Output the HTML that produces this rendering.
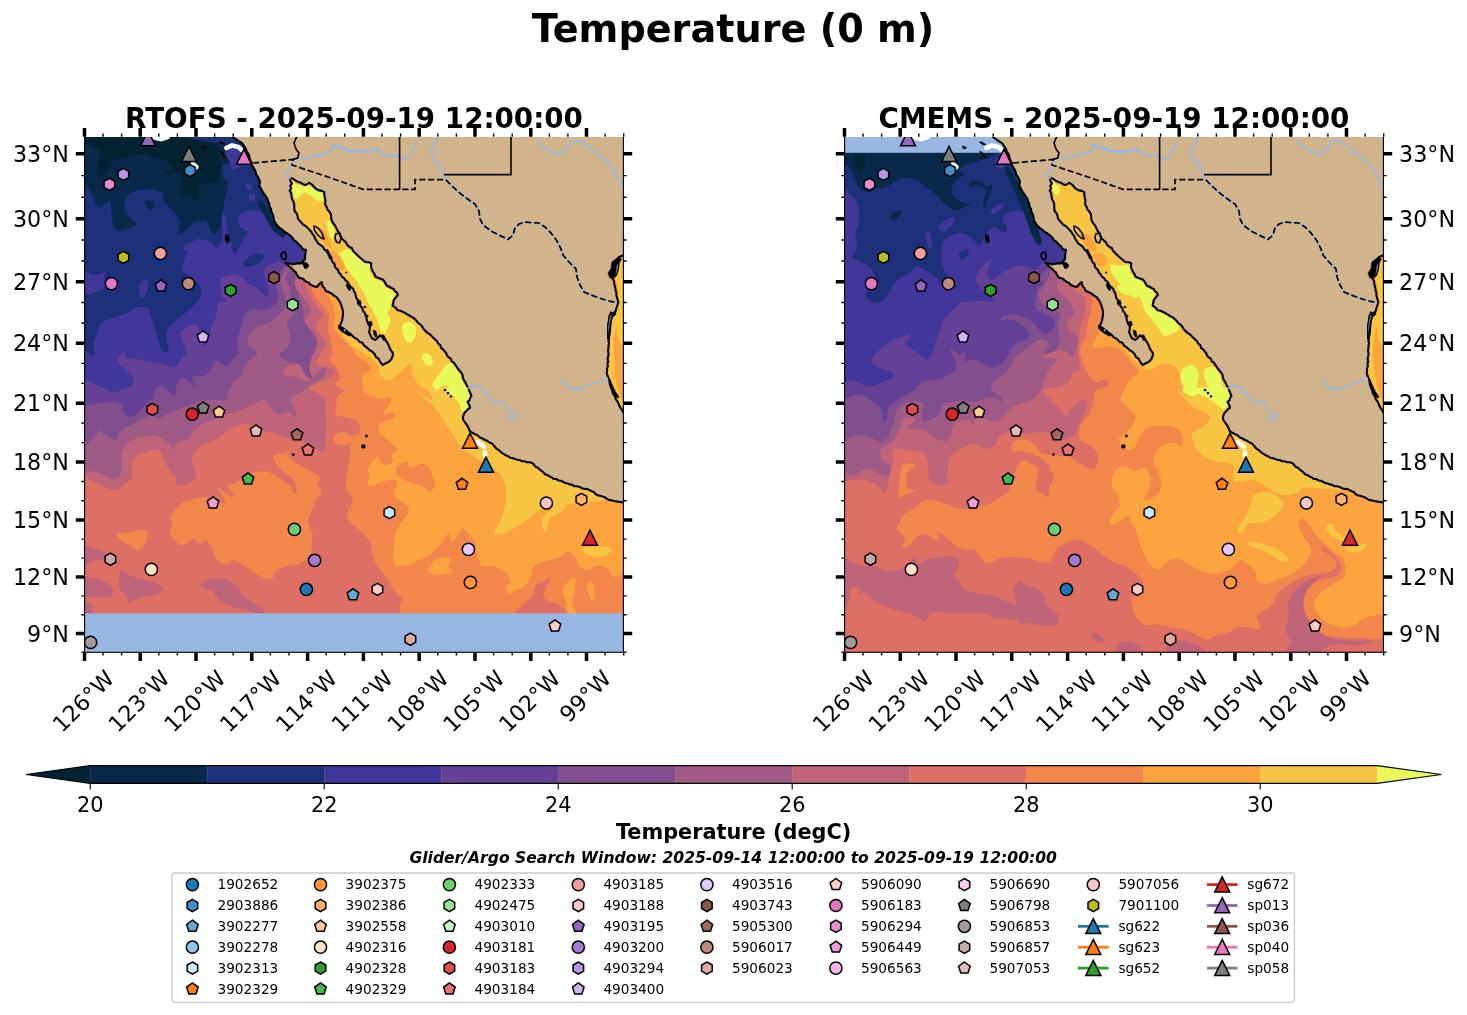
<!DOCTYPE html>
<html lang="en"><head><meta charset="utf-8"><title>Temperature (0 m)</title>
<style>html,body{margin:0;padding:0;background:#fff}svg{display:block}</style></head>
<body>
<svg width="1467" height="1015" viewBox="0 0 1467 1015" font-family='"DejaVu Sans", "Liberation Sans", sans-serif' fill="#000">
<rect width="1467" height="1015" fill="#fff"/>
<text x="733" y="42" text-anchor="middle" font-size="38.2" font-weight="bold">Temperature (0 m)</text>
<clipPath id="clip1"><rect x="84.6" y="137.0" width="538.8" height="515.2"/></clipPath>
<g clip-path="url(#clip1)"><g transform="translate(0.0,0)">
<rect x="83.6" y="135.8" width="540.8" height="517.4" fill="#032333"/>
<path d="M70.0 120.0C165.8 28.3 549.2 28.3 645.0 120.0C740.8 211.7 740.8 578.3 645.0 670.0C549.2 761.7 165.8 761.7 70.0 670.0C-25.8 578.3 -25.8 211.7 70.0 120.0Z" fill="#08294a"/>
<path d="M90.0 135.5C68.6 137.2 89.2 143.5 90.7 146.0C92.2 148.5 97.7 147.7 99.0 150.5C100.2 153.2 98.5 158.5 98.2 162.5C98.0 166.5 97.1 172.1 97.5 174.5C97.9 176.9 98.7 177.2 100.5 176.7C102.2 176.2 105.7 174.1 108.0 171.5C110.2 168.9 109.7 163.5 114.0 161.0C118.2 158.5 128.5 157.7 133.5 156.5C138.5 155.2 141.0 153.5 144.0 153.5C147.0 153.5 148.5 155.5 151.5 156.5C154.5 157.5 159.2 158.5 162.0 159.5C164.7 160.5 166.2 161.0 168.0 162.5C169.7 164.0 173.0 167.0 172.5 168.5C172.0 170.0 165.7 170.5 165.0 171.5C164.2 172.5 166.0 174.2 168.0 174.5C170.0 174.7 174.7 173.5 177.0 173.0C179.2 172.5 181.0 169.2 181.5 171.5C182.0 173.7 180.0 182.2 180.0 186.5C180.0 190.7 180.0 195.7 181.5 197.0C183.0 198.2 186.7 193.2 189.0 194.0C191.2 194.7 193.2 201.5 195.0 201.5C196.7 201.5 199.0 196.0 199.5 194.0C200.0 192.0 197.2 191.2 198.0 189.5C198.7 187.7 201.0 184.7 204.0 183.5C207.0 182.2 213.5 183.2 216.0 182.0C218.5 180.7 218.0 178.5 219.0 176.0C220.0 173.5 222.0 170.2 222.0 167.0C222.0 163.7 219.7 160.0 219.0 156.5C218.2 153.0 217.5 149.5 217.5 146.0C217.5 142.5 240.2 137.2 219.0 135.5C197.7 133.8 111.4 133.8 90.0 135.5Z" fill="#032333"/>
<path d="M82.5 182.0C86.1 184.0 88.7 189.7 91.5 194.0C94.2 198.2 96.0 206.2 99.0 207.5C102.0 208.7 107.4 200.2 109.5 201.5C111.6 202.7 111.0 210.7 111.7 215.0C112.5 219.2 112.6 224.4 114.0 227.0C115.4 229.6 116.7 230.9 120.0 230.7C123.2 230.6 130.7 227.4 133.5 226.2C136.2 225.1 137.2 225.6 136.5 224.0C135.7 222.4 131.0 219.0 129.0 216.5C127.0 214.0 125.1 211.7 124.5 209.0C123.9 206.2 124.0 202.7 125.2 200.0C126.5 197.2 128.4 194.2 132.0 192.5C135.6 190.7 142.0 189.5 147.0 189.5C152.0 189.5 159.1 190.5 162.0 192.5C164.9 194.5 162.2 198.2 164.2 201.5C166.2 204.7 171.4 208.7 174.0 212.0C176.6 215.2 179.2 217.5 180.0 221.0C180.7 224.5 178.0 231.0 178.5 233.0C179.0 235.0 180.7 234.5 183.0 233.0C185.2 231.5 188.5 226.1 192.0 224.0C195.5 221.9 201.2 220.2 204.0 220.2C206.7 220.2 207.2 221.9 208.5 224.0C209.7 226.1 210.2 231.5 211.5 233.0C212.7 234.5 214.5 234.2 216.0 233.0C217.5 231.7 219.3 229.0 220.5 225.5C221.6 222.0 222.0 216.7 222.7 212.0C223.5 207.2 224.1 201.5 225.0 197.0C225.8 192.5 228.2 188.2 228.0 185.0C227.7 181.7 224.5 180.5 223.5 177.5C222.5 174.5 220.7 169.7 222.0 167.0C223.2 164.2 230.0 163.7 231.0 161.0C232.0 158.2 229.6 153.2 228.0 150.5C226.3 147.7 222.6 147.2 221.2 144.5C219.8 141.7 149.1 136.8 219.7 134.0C290.4 131.3 574.1 38.7 645.0 128.0C715.9 217.3 740.8 579.7 645.0 670.0C549.2 760.3 165.8 751.3 70.0 670.0C-25.8 588.7 67.9 263.3 70.0 182.0C72.1 100.7 78.9 180.0 82.5 182.0Z" fill="#1c3179"/>
<path d="M82.5 349.0C85.8 349.7 88.0 352.5 90.0 353.5C92.0 354.5 93.9 356.7 94.5 355.0C95.1 353.2 93.0 347.5 93.7 343.0C94.5 338.5 97.6 331.5 99.0 328.0C100.4 324.5 99.5 323.7 102.0 322.0C104.5 320.2 109.7 319.0 114.0 317.5C118.2 316.0 124.0 314.6 127.5 313.0C131.0 311.4 131.5 308.6 135.0 307.7C138.5 306.9 145.9 306.4 148.5 307.7C151.1 309.1 149.7 312.9 150.7 316.0C151.7 319.1 153.4 323.2 154.5 326.5C155.6 329.7 156.5 332.0 157.5 335.5C158.5 339.0 159.2 344.6 160.5 347.5C161.7 350.4 163.6 352.5 165.0 352.7C166.4 353.0 168.5 351.1 168.7 349.0C169.0 346.9 166.7 343.0 166.5 340.0C166.2 337.0 166.0 334.0 167.2 331.0C168.5 328.0 171.6 324.5 174.0 322.0C176.4 319.5 179.0 318.0 181.5 316.0C184.0 314.0 186.5 312.2 189.0 310.0C191.5 307.7 194.5 305.2 196.5 302.5C198.5 299.7 200.6 296.5 201.0 293.5C201.4 290.5 200.0 286.7 198.7 284.5C197.5 282.2 195.6 281.7 193.5 280.0C191.4 278.2 187.9 275.7 186.0 274.0C184.1 272.2 182.5 272.0 182.2 269.5C182.0 267.0 183.6 262.2 184.5 259.0C185.4 255.7 187.6 251.3 187.5 250.0C187.4 248.7 184.2 251.8 183.7 251.0C183.2 250.1 183.1 246.5 184.5 245.0C185.9 243.5 189.7 243.0 192.0 242.0C194.2 241.0 195.7 239.2 198.0 239.0C200.2 238.7 203.2 240.0 205.5 240.5C207.7 241.0 209.7 240.7 211.5 242.0C213.2 243.2 214.5 248.0 216.0 248.0C217.5 248.0 219.3 244.5 220.5 242.0C221.6 239.5 222.5 236.5 222.7 233.0C223.0 229.5 221.8 224.5 222.0 221.0C222.1 217.5 222.7 212.0 223.5 212.0C224.2 212.0 225.7 217.2 226.5 221.0C227.2 224.7 227.1 230.5 228.0 234.5C228.8 238.5 230.7 241.7 231.7 245.0C232.7 248.2 233.1 253.0 234.0 254.0C234.8 255.0 235.5 253.5 237.0 251.0C238.5 248.5 241.2 242.2 243.0 239.0C244.7 235.7 248.0 233.5 247.5 231.5C247.0 229.5 241.5 229.2 240.0 227.0C238.5 224.7 237.8 220.5 238.5 218.0C239.1 215.5 241.2 213.2 243.7 212.0C246.2 210.7 250.1 210.2 253.5 210.5C256.8 210.7 260.6 212.1 264.0 213.5C267.3 214.9 271.2 221.5 273.7 218.7C276.2 216.0 279.3 204.0 279.0 197.0C278.7 190.0 273.2 183.7 272.0 177.0C270.8 170.3 270.0 164.8 272.0 157.0C274.0 149.2 221.8 134.8 284.0 130.0C346.2 125.2 584.8 38.0 645.0 128.0C705.2 218.0 740.8 579.7 645.0 670.0C549.2 760.3 165.8 723.5 70.0 670.0C-25.8 616.5 67.9 402.5 70.0 349.0C72.1 295.5 79.2 348.2 82.5 349.0Z" fill="#41369a"/>
<path d="M82.5 379.0C86.3 379.7 89.5 382.0 93.0 383.5C96.5 385.0 100.0 386.5 103.5 388.0C107.0 389.5 111.0 392.2 114.0 392.5C117.0 392.7 118.5 390.7 121.5 389.5C124.5 388.2 130.1 387.0 132.0 385.0C133.9 383.0 133.7 380.0 132.7 377.5C131.7 375.0 128.2 372.2 126.0 370.0C123.7 367.7 120.5 366.0 119.2 364.0C118.0 362.0 117.6 360.0 118.5 358.0C119.4 356.0 123.2 352.0 124.5 352.0C125.7 352.0 124.2 356.9 126.0 358.0C127.7 359.1 131.5 358.2 135.0 358.7C138.5 359.2 142.5 360.1 147.0 361.0C151.5 361.9 157.5 362.9 162.0 364.0C166.5 365.1 171.0 368.2 174.0 367.7C177.0 367.2 178.0 363.4 180.0 361.0C182.0 358.6 185.2 356.0 186.0 353.5C186.7 351.0 185.4 348.5 184.5 346.0C183.6 343.5 181.2 341.0 180.7 338.5C180.2 336.0 180.1 333.0 181.5 331.0C182.9 329.0 186.5 327.5 189.0 326.5C191.5 325.5 194.7 324.2 196.5 325.0C198.2 325.7 198.2 327.5 199.5 331.0C200.7 334.5 202.5 344.5 204.0 346.0C205.5 347.5 207.2 343.0 208.5 340.0C209.7 337.0 210.2 332.0 211.5 328.0C212.7 324.0 215.0 319.5 216.0 316.0C217.0 312.5 217.0 309.2 217.5 307.0C218.0 304.7 217.5 303.5 219.0 302.5C220.5 301.5 226.0 302.0 226.5 301.0C227.0 300.0 223.0 298.7 222.0 296.5C221.0 294.2 220.6 290.5 220.5 287.5C220.3 284.5 220.0 280.5 221.2 278.5C222.5 276.5 225.6 276.2 228.0 275.5C230.3 274.7 233.0 273.5 235.5 274.0C238.0 274.5 240.7 276.7 243.0 278.5C245.2 280.2 246.7 283.0 249.0 284.5C251.2 286.0 254.0 285.7 256.5 287.5C259.0 289.2 262.0 293.5 264.0 295.0C266.0 296.5 267.8 297.7 268.5 296.5C269.1 295.2 268.1 290.2 267.7 287.5C267.3 284.7 266.8 282.5 266.2 280.0C265.6 277.5 264.0 274.7 264.0 272.5C264.0 270.2 264.7 268.0 266.2 266.5C267.7 265.0 270.8 264.2 273.0 263.5C275.1 262.7 277.2 262.0 279.0 262.0C280.7 262.0 280.1 262.3 283.5 263.5C286.8 264.7 293.2 270.1 299.0 269.0C304.8 267.9 317.2 262.3 318.0 257.0C318.8 251.7 309.4 243.7 304.0 237.0C298.6 230.3 289.8 223.7 285.6 217.0C281.4 210.3 281.3 203.7 279.0 197.0C276.7 190.3 273.2 183.7 272.0 177.0C270.8 170.3 270.0 164.8 272.0 157.0C274.0 149.2 221.8 134.8 284.0 130.0C346.2 125.2 584.8 38.0 645.0 128.0C705.2 218.0 740.8 579.7 645.0 670.0C549.2 760.3 165.8 718.5 70.0 670.0C-25.8 621.5 67.9 427.5 70.0 379.0C72.1 330.5 78.7 378.2 82.5 379.0Z" fill="#644197"/>
<path d="M82.5 406.5C86.3 406.1 89.5 404.9 93.0 404.2C96.5 403.6 100.0 403.1 103.5 402.7C107.0 402.4 111.0 401.6 114.0 402.0C117.0 402.4 120.0 403.5 121.5 405.0C123.0 406.5 121.7 409.0 123.0 411.0C124.2 413.0 127.0 416.2 129.0 417.0C131.0 417.7 133.0 416.7 135.0 415.5C137.0 414.2 139.0 411.5 141.0 409.5C143.0 407.5 145.0 405.5 147.0 403.5C149.0 401.5 151.7 399.7 153.0 397.5C154.2 395.2 154.2 391.1 154.5 390.0C154.7 388.9 153.5 391.8 154.5 391.0C155.5 390.1 158.2 385.0 160.5 385.0C162.7 385.0 165.7 389.2 168.0 391.0C170.2 392.7 172.5 396.5 174.0 395.5C175.5 394.5 175.7 388.0 177.0 385.0C178.2 382.0 179.5 378.0 181.5 377.5C183.5 377.0 186.7 380.5 189.0 382.0C191.2 383.5 194.5 387.2 195.0 386.5C195.5 385.7 191.5 379.2 192.0 377.5C192.5 375.7 196.0 376.2 198.0 376.0C200.0 375.7 201.7 377.2 204.0 376.0C206.2 374.7 209.5 371.0 211.5 368.5C213.5 366.0 214.2 361.7 216.0 361.0C217.7 360.2 220.0 363.2 222.0 364.0C224.0 364.7 226.0 366.5 228.0 365.5C230.0 364.5 232.2 360.2 234.0 358.0C235.7 355.7 238.0 354.5 238.5 352.0C239.0 349.5 236.7 346.5 237.0 343.0C237.2 339.5 239.0 334.7 240.0 331.0C241.0 327.2 242.0 323.5 243.0 320.5C244.0 317.5 244.2 314.9 246.0 313.0C247.7 311.1 250.5 309.7 253.5 309.2C256.5 308.7 261.0 310.4 264.0 310.0C267.0 309.6 269.2 308.5 271.5 307.0C273.7 305.5 276.2 303.2 277.5 301.0C278.7 298.7 279.2 295.7 279.0 293.5C278.7 291.2 276.2 289.7 276.0 287.5C275.7 285.2 277.0 282.2 277.5 280.0C278.0 277.7 278.2 275.7 279.0 274.0C279.7 272.2 280.7 271.0 282.0 269.5C283.2 268.0 283.6 265.1 286.5 265.0C289.3 264.9 293.7 270.3 299.0 269.0C304.3 267.7 317.2 262.3 318.0 257.0C318.8 251.7 309.4 243.7 304.0 237.0C298.6 230.3 289.8 223.7 285.6 217.0C281.4 210.3 281.3 203.7 279.0 197.0C276.7 190.3 273.2 183.7 272.0 177.0C270.8 170.3 270.0 164.8 272.0 157.0C274.0 149.2 221.8 134.8 284.0 130.0C346.2 125.2 584.8 38.0 645.0 128.0C705.2 218.0 740.8 579.7 645.0 670.0C549.2 760.3 165.8 713.9 70.0 670.0C-25.8 626.1 67.9 450.4 70.0 406.5C72.1 362.6 78.7 406.9 82.5 406.5Z" fill="#824f8e"/>
<path d="M82.5 447.0C85.8 446.2 88.0 444.2 90.0 442.5C92.0 440.7 93.0 438.5 94.5 436.5C96.0 434.5 97.5 431.0 99.0 430.5C100.5 430.0 101.7 432.2 103.5 433.5C105.2 434.7 107.2 437.0 109.5 438.0C111.7 439.0 115.5 440.2 117.0 439.5C118.5 438.7 117.2 435.2 118.5 433.5C119.7 431.7 122.2 430.5 124.5 429.0C126.7 427.5 129.2 426.0 132.0 424.5C134.7 423.0 138.0 421.5 141.0 420.0C144.0 418.5 147.0 415.7 150.0 415.5C153.0 415.2 156.5 418.5 159.0 418.5C161.5 418.5 162.5 416.7 165.0 415.5C167.5 414.2 170.5 412.5 174.0 411.0C177.5 409.5 182.5 407.7 186.0 406.5C189.5 405.2 193.0 404.4 195.0 403.5C197.0 402.6 195.7 401.7 198.0 401.2C200.2 400.7 205.5 400.9 208.5 400.5C211.5 400.1 213.2 398.9 216.0 399.0C218.7 399.1 223.1 401.7 225.0 401.2C226.8 400.7 226.7 397.9 227.2 396.0C227.7 394.1 227.5 391.1 228.0 390.0C228.5 388.9 229.2 391.1 230.2 389.5C231.2 387.9 232.1 383.0 234.0 380.5C235.8 378.0 239.5 377.2 241.5 374.5C243.5 371.7 243.5 367.5 246.0 364.0C248.5 360.5 256.2 356.9 256.5 353.5C256.7 350.1 248.0 347.7 247.5 343.7C247.0 339.7 249.7 333.1 253.5 329.5C257.2 325.9 265.0 325.2 270.0 322.0C275.0 318.7 280.8 313.7 283.5 310.0C286.1 306.2 286.0 303.0 285.7 299.5C285.5 296.0 282.8 292.2 282.0 289.0C281.1 285.7 280.0 283.0 280.5 280.0C281.0 277.0 283.5 273.2 285.0 271.0C286.5 268.7 286.8 266.7 289.5 266.5C292.1 266.3 296.2 271.6 301.0 270.0C305.8 268.4 317.5 262.5 318.0 257.0C318.5 251.5 309.4 243.7 304.0 237.0C298.6 230.3 289.8 223.7 285.6 217.0C281.4 210.3 281.3 203.7 279.0 197.0C276.7 190.3 273.2 183.7 272.0 177.0C270.8 170.3 270.0 164.8 272.0 157.0C274.0 149.2 221.8 134.8 284.0 130.0C346.2 125.2 584.8 38.0 645.0 128.0C705.2 218.0 740.8 579.7 645.0 670.0C549.2 760.3 165.8 707.2 70.0 670.0C-25.8 632.8 67.9 484.2 70.0 447.0C72.1 409.8 79.2 447.7 82.5 447.0Z" fill="#a05a86"/>
<path d="M82.5 469.5C86.3 469.9 89.7 471.0 93.0 471.7C96.2 472.5 99.1 472.9 102.0 474.0C104.9 475.1 107.7 477.7 110.2 478.5C112.7 479.2 115.2 479.2 117.0 478.5C118.7 477.7 119.9 476.2 120.7 474.0C121.6 471.7 122.1 468.0 122.2 465.0C122.4 462.0 121.2 458.7 121.5 456.0C121.7 453.2 122.5 450.7 123.7 448.5C125.0 446.2 126.9 444.2 129.0 442.5C131.1 440.7 133.5 439.0 136.5 438.0C139.5 437.0 143.7 436.9 147.0 436.5C150.2 436.1 153.2 435.2 156.0 435.7C158.7 436.2 161.0 437.9 163.5 439.5C166.0 441.1 169.2 443.7 171.0 445.5C172.7 447.2 173.2 450.2 174.0 450.0C174.7 449.7 174.5 445.5 175.5 444.0C176.5 442.5 177.7 441.7 180.0 441.0C182.2 440.2 187.0 440.7 189.0 439.5C191.0 438.2 190.5 435.5 192.0 433.5C193.5 431.5 196.0 429.2 198.0 427.5C200.0 425.7 201.7 424.2 204.0 423.0C206.2 421.7 209.0 421.0 211.5 420.0C214.0 419.0 216.2 418.0 219.0 417.0C221.7 416.0 225.5 414.7 228.0 414.0C230.5 413.2 231.7 413.2 234.0 412.5C236.2 411.7 239.0 410.5 241.5 409.5C244.0 408.5 246.2 407.7 249.0 406.5C251.7 405.2 255.5 403.2 258.0 402.0C260.5 400.7 262.2 398.7 264.0 399.0C265.7 399.2 267.0 401.5 268.5 403.5C270.0 405.5 271.2 409.1 273.0 411.0C274.7 412.9 276.2 414.5 279.0 414.7C281.7 415.0 287.0 412.1 289.5 412.5C292.0 412.9 292.7 416.5 294.0 417.0C295.2 417.5 297.2 417.5 297.0 415.5C296.7 413.5 293.5 407.7 292.5 405.0C291.5 402.2 290.2 400.7 291.0 399.0C291.7 397.2 294.8 396.0 297.0 394.5C299.1 393.0 301.9 391.6 304.0 390.0C306.1 388.4 306.3 387.1 309.5 385.0C312.7 382.9 320.2 380.2 323.0 377.5C325.7 374.7 326.5 369.7 326.0 368.5C325.5 367.2 322.7 368.0 320.0 370.0C317.2 372.0 313.2 379.2 309.5 380.5C305.7 381.7 301.7 378.5 297.5 377.5C293.2 376.5 286.0 376.2 284.0 374.5C282.0 372.7 283.2 368.7 285.5 367.0C287.7 365.2 294.2 365.0 297.5 364.0C300.7 363.0 302.0 363.0 305.0 361.0C308.0 359.0 313.5 355.5 315.5 352.0C317.5 348.5 317.5 343.5 317.0 340.0C316.5 336.5 314.5 334.0 312.5 331.0C310.5 328.0 305.2 325.5 305.0 322.0C304.7 318.5 311.0 313.7 311.0 310.0C311.0 306.2 307.7 303.7 305.0 299.5C302.2 295.2 295.5 288.1 294.5 284.5C293.5 280.9 297.1 279.3 299.0 277.7C300.9 276.2 302.8 278.5 306.0 275.0C309.2 271.5 318.3 263.3 318.0 257.0C317.7 250.7 309.4 243.7 304.0 237.0C298.6 230.3 289.8 223.7 285.6 217.0C281.4 210.3 281.3 203.7 279.0 197.0C276.7 190.3 273.2 183.7 272.0 177.0C270.8 170.3 270.0 164.8 272.0 157.0C274.0 149.2 221.8 134.8 284.0 130.0C346.2 125.2 584.8 38.0 645.0 128.0C705.2 218.0 740.8 579.7 645.0 670.0C549.2 760.3 165.8 703.4 70.0 670.0C-25.8 636.6 67.9 502.9 70.0 469.5C72.1 436.1 78.7 469.1 82.5 469.5Z" fill="#c0647a"/>
<path d="M82.5 477.0C86.3 477.7 89.5 480.0 93.0 481.5C96.5 483.0 100.5 484.6 103.5 486.0C106.5 487.4 108.5 489.2 111.0 489.7C113.5 490.2 116.0 490.1 118.5 489.0C121.0 487.9 123.7 484.7 126.0 483.0C128.2 481.2 131.0 481.0 132.0 478.5C133.0 476.0 131.7 471.0 132.0 468.0C132.2 465.0 132.2 462.7 133.5 460.5C134.7 458.2 137.0 456.0 139.5 454.5C142.0 453.0 145.5 452.4 148.5 451.5C151.5 450.6 155.2 448.7 157.5 449.2C159.7 449.7 160.6 452.1 162.0 454.5C163.4 456.9 164.2 460.5 165.7 463.5C167.2 466.5 169.1 470.0 171.0 472.5C172.9 475.0 176.2 476.5 177.0 478.5C177.7 480.5 174.0 483.5 175.5 484.5C177.0 485.5 182.7 485.5 186.0 484.5C189.2 483.5 193.4 480.7 195.0 478.5C196.6 476.2 196.2 473.7 195.7 471.0C195.2 468.2 192.4 464.7 192.0 462.0C191.6 459.2 192.2 457.0 193.5 454.5C194.7 452.0 197.2 449.0 199.5 447.0C201.7 445.0 204.2 443.7 207.0 442.5C209.7 441.2 213.0 441.0 216.0 439.5C219.0 438.0 222.0 435.5 225.0 433.5C228.0 431.5 231.0 429.1 234.0 427.5C237.0 425.9 240.2 424.1 243.0 423.7C245.7 423.4 247.0 424.1 250.5 425.2C254.0 426.4 259.7 429.1 264.0 430.5C268.2 431.9 272.2 432.2 276.0 433.5C279.7 434.7 281.8 436.6 286.5 438.0C291.1 439.4 299.4 440.5 304.0 441.7C308.6 443.0 311.3 443.7 314.0 445.5C316.7 447.2 318.2 451.5 320.0 452.2C321.7 453.0 323.5 452.9 324.5 450.0C325.5 447.1 325.7 441.2 326.0 435.0C326.2 428.7 326.2 418.5 326.0 412.5C325.7 406.5 326.0 402.2 324.5 399.0C323.0 395.7 319.5 394.8 317.0 393.0C314.5 391.2 309.0 389.8 309.5 388.0C310.0 386.1 316.5 383.7 320.0 382.0C323.5 380.2 328.0 379.5 330.5 377.5C333.0 375.5 335.7 371.7 335.0 370.0C334.2 368.2 329.0 368.0 326.0 367.0C323.0 366.0 318.0 366.0 317.0 364.0C316.0 362.0 318.5 358.5 320.0 355.0C321.5 351.5 326.0 346.5 326.0 343.0C326.0 339.5 321.7 337.0 320.0 334.0C318.2 331.0 315.0 328.0 315.5 325.0C316.0 322.0 322.7 319.0 323.0 316.0C323.2 313.0 319.2 310.5 317.0 307.0C314.7 303.5 311.5 299.4 309.5 295.0C307.5 290.6 304.6 283.7 305.0 280.7C305.4 277.7 309.8 281.0 312.0 277.0C314.2 273.0 319.3 263.7 318.0 257.0C316.7 250.3 309.4 243.7 304.0 237.0C298.6 230.3 289.8 223.7 285.6 217.0C281.4 210.3 281.3 203.7 279.0 197.0C276.7 190.3 273.2 183.7 272.0 177.0C270.8 170.3 270.0 164.8 272.0 157.0C274.0 149.2 221.8 134.8 284.0 130.0C346.2 125.2 584.8 38.0 645.0 128.0C705.2 218.0 740.8 579.7 645.0 670.0C549.2 760.3 165.8 702.2 70.0 670.0C-25.8 637.8 67.9 509.2 70.0 477.0C72.1 444.8 78.7 476.2 82.5 477.0Z" fill="#dd6f64"/>
<path d="M400.2 614.7C400.1 603.9 399.1 607.6 399.5 605.0C399.8 602.4 402.7 600.7 402.5 599.0C402.2 597.2 399.7 596.5 398.0 594.5C396.2 592.5 393.7 589.5 392.0 587.0C390.2 584.5 389.2 582.0 387.5 579.5C385.7 577.0 383.5 574.7 381.5 572.0C379.5 569.2 377.1 566.0 375.5 563.0C373.9 560.0 372.5 557.2 371.7 554.0C371.0 550.7 372.6 547.1 371.0 543.5C369.4 539.9 365.0 535.6 362.0 532.5C359.0 529.4 355.5 527.5 353.0 525.0C350.5 522.5 347.7 520.0 347.0 517.5C346.2 515.0 347.5 512.7 348.5 510.0C349.5 507.2 352.7 503.5 353.0 501.0C353.2 498.5 351.2 497.5 350.0 495.0C348.7 492.5 346.0 489.5 345.5 486.0C345.0 482.5 346.5 477.5 347.0 474.0C347.5 470.5 348.0 468.5 348.5 465.0C349.0 461.5 349.7 456.5 350.0 453.0C350.2 449.5 351.0 445.2 350.0 444.0C349.0 442.7 346.5 445.7 344.0 445.5C341.5 445.2 336.5 444.2 335.0 442.5C333.5 440.7 333.5 436.7 335.0 435.0C336.5 433.2 341.5 432.0 344.0 432.0C346.5 432.0 347.5 434.7 350.0 435.0C352.5 435.2 357.4 434.7 359.0 433.5C360.6 432.2 360.2 429.7 359.7 427.5C359.2 425.2 358.6 421.7 356.0 420.0C353.4 418.2 347.4 418.0 344.0 417.0C340.6 416.0 337.0 416.0 335.7 414.0C334.5 412.0 336.1 408.0 336.5 405.0C336.9 402.0 336.7 398.5 338.0 396.0C339.2 393.5 344.5 391.8 344.0 390.0C343.5 388.2 335.7 386.8 335.0 385.0C334.2 383.1 339.0 381.5 339.5 379.0C340.0 376.5 339.5 373.0 338.0 370.0C336.5 367.0 331.5 364.0 330.5 361.0C329.5 358.0 332.0 355.5 332.0 352.0C332.0 348.5 331.2 344.0 330.5 340.0C329.7 336.0 327.7 331.7 327.5 328.0C327.2 324.2 329.7 321.0 329.0 317.5C328.2 314.0 325.5 310.7 323.0 307.0C320.5 303.2 316.0 298.6 314.0 295.0C312.0 291.4 310.3 287.4 311.0 285.2C311.7 283.1 315.3 282.9 318.0 282.0C320.7 281.1 327.0 284.2 327.0 280.0C327.0 275.8 321.8 264.2 318.0 257.0C314.2 249.8 309.4 243.7 304.0 237.0C298.6 230.3 289.8 223.7 285.6 217.0C281.4 210.3 281.3 203.7 279.0 197.0C276.7 190.3 273.2 183.7 272.0 177.0C270.8 170.3 270.0 164.8 272.0 157.0C274.0 149.2 221.8 134.8 284.0 130.0C346.2 125.2 584.8 38.0 645.0 128.0C705.2 218.0 685.8 579.7 645.0 670.0C604.2 760.3 441.0 679.2 400.2 670.0C359.4 660.8 400.3 625.6 400.2 614.7Z" fill="#f2864b"/>
<path d="M170.2 519.0C168.2 520.9 172.1 514.0 174.0 511.5C175.9 509.0 178.5 506.0 181.5 504.0C184.5 502.0 188.5 500.6 192.0 499.5C195.5 498.4 199.7 497.5 202.5 497.2C205.2 497.0 205.7 497.4 208.5 498.0C211.2 498.6 216.2 500.0 219.0 501.0C221.7 502.0 224.2 504.5 225.0 504.0C225.7 503.5 224.7 500.5 223.5 498.0C222.2 495.5 218.2 490.7 217.5 489.0C216.7 487.2 217.5 486.7 219.0 487.5C220.5 488.2 224.0 492.0 226.5 493.5C229.0 495.0 233.5 497.2 234.0 496.5C234.5 495.7 230.5 490.7 229.5 489.0C228.5 487.2 227.0 487.0 228.0 486.0C229.0 485.0 233.0 484.2 235.5 483.0C238.0 481.7 240.7 480.0 243.0 478.5C245.2 477.0 246.7 475.1 249.0 474.0C251.2 472.9 254.0 472.2 256.5 471.7C259.0 471.2 261.2 470.6 264.0 471.0C266.7 471.4 270.0 472.5 273.0 474.0C276.0 475.5 279.0 478.0 282.0 480.0C285.0 482.0 289.0 483.7 291.0 486.0C293.0 488.2 293.0 492.5 294.0 493.5C295.0 494.5 296.7 493.5 297.0 492.0C297.2 490.5 296.5 487.0 295.5 484.5C294.5 482.0 293.2 479.2 291.0 477.0C288.7 474.7 284.2 473.0 282.0 471.0C279.7 469.0 279.0 467.2 277.5 465.0C276.0 462.7 273.0 459.2 273.0 457.5C273.0 455.7 275.5 455.2 277.5 454.5C279.5 453.7 283.0 453.7 285.0 453.0C287.0 452.2 289.6 450.5 289.5 450.0C289.3 449.5 283.9 450.1 284.0 450.0C284.1 449.9 289.2 448.2 290.0 449.2C290.7 450.2 287.7 453.9 288.5 456.0C289.2 458.1 291.7 460.0 294.5 462.0C297.2 464.0 300.7 465.5 305.0 468.0C309.2 470.5 318.0 474.2 320.0 477.0C322.0 479.7 316.7 482.2 317.0 484.5C317.2 486.7 321.5 488.0 321.5 490.5C321.5 493.0 318.0 497.9 317.0 499.5C316.0 501.1 316.2 498.4 315.5 500.0C314.7 501.6 313.7 505.7 312.5 509.0C311.2 512.2 308.5 516.5 308.0 519.5C307.5 522.5 308.7 524.7 309.5 527.0C310.2 529.2 312.1 530.0 312.5 533.0C312.9 536.0 312.0 541.7 311.7 545.0C311.5 548.2 312.1 550.0 311.0 552.5C309.9 555.0 307.2 558.0 305.0 560.0C302.7 562.0 300.5 563.5 297.5 564.5C294.5 565.5 290.5 565.0 287.0 566.0C283.5 567.0 278.9 568.5 276.5 570.5C274.1 572.5 274.5 576.6 272.7 578.0C271.0 579.4 267.0 578.5 266.0 578.7C265.0 579.0 268.3 580.1 267.0 579.5C265.6 578.9 261.0 576.7 258.0 575.0C255.0 573.2 252.0 571.0 249.0 569.0C246.0 567.0 242.7 564.5 240.0 563.0C237.2 561.5 234.5 559.7 232.5 560.0C230.5 560.2 230.2 564.2 228.0 564.5C225.7 564.7 221.2 563.0 219.0 561.5C216.7 560.0 215.7 558.0 214.5 555.5C213.2 553.0 213.0 549.0 211.5 546.5C210.0 544.0 207.5 541.0 205.5 540.5C203.5 540.0 201.5 543.7 199.5 543.5C197.5 543.2 195.5 539.0 193.5 539.0C191.5 539.0 189.7 542.5 187.5 543.5C185.2 544.5 182.2 545.7 180.0 545.0C177.7 544.2 175.7 541.2 174.0 539.0C172.2 536.7 169.7 534.0 169.5 531.5C169.2 529.0 172.2 526.5 172.5 524.0C172.7 521.5 170.2 519.2 171.0 516.5C171.7 513.7 174.5 510.2 177.0 507.5C179.5 504.7 187.1 498.1 186.0 500.0C184.9 501.9 172.2 517.1 170.2 519.0Z" fill="#f2864b"/>
<path d="M626.0 570.5C622.3 570.5 624.8 570.7 623.3 572.0C621.8 573.2 619.0 577.7 617.0 578.0C614.9 578.2 613.0 575.2 611.0 573.5C609.0 571.7 607.5 568.7 605.0 567.5C602.5 566.2 599.0 565.5 596.0 566.0C593.0 566.5 589.7 570.5 587.0 570.5C584.2 570.5 581.5 568.2 579.5 566.0C577.5 563.7 577.0 559.4 575.0 557.0C573.0 554.6 570.0 551.7 567.5 551.7C565.0 551.7 562.7 555.6 560.0 557.0C557.2 558.4 554.2 559.0 551.0 560.0C547.7 561.0 543.5 561.7 540.5 563.0C537.5 564.2 534.7 564.7 533.0 567.5C531.2 570.2 532.0 576.0 530.0 579.5C528.0 583.0 523.5 586.7 521.0 588.5C518.5 590.2 517.0 589.0 515.0 590.0C513.0 591.0 510.5 595.0 509.0 594.5C507.5 594.0 505.7 589.0 506.0 587.0C506.2 585.0 510.2 584.5 510.5 582.5C510.7 580.5 509.2 577.2 507.5 575.0C505.7 572.7 502.7 570.5 500.0 569.0C497.2 567.5 494.0 566.5 491.0 566.0C488.0 565.5 484.0 567.0 482.0 566.0C480.0 565.0 480.0 562.7 479.0 560.0C478.0 557.2 476.7 552.7 476.0 549.5C475.2 546.2 475.5 542.7 474.5 540.5C473.5 538.2 472.0 538.0 470.0 536.0C468.0 534.0 464.5 528.5 462.5 528.5C460.5 528.5 459.7 533.7 458.0 536.0C456.2 538.2 453.5 542.5 452.0 542.0C450.5 541.5 450.2 533.5 449.0 533.0C447.7 532.5 446.5 536.5 444.5 539.0C442.5 541.5 439.5 545.2 437.0 548.0C434.5 550.7 432.5 553.5 429.5 555.5C426.5 557.5 422.2 558.5 419.0 560.0C415.7 561.5 413.8 563.5 410.0 564.5C406.2 565.5 399.2 566.7 396.5 566.0C393.7 565.2 394.0 562.7 393.5 560.0C393.0 557.2 393.3 553.0 393.5 549.5C393.6 546.0 393.7 542.2 394.2 539.0C394.7 535.7 395.3 532.7 396.5 530.0C397.6 527.2 399.2 525.0 401.0 522.5C402.7 520.0 405.7 517.5 407.0 515.0C408.2 512.5 409.7 510.0 408.5 507.5C407.2 505.0 401.2 501.3 399.5 500.0C397.7 498.7 399.0 500.6 398.0 499.5C397.0 498.4 393.7 495.7 393.5 493.5C393.2 491.2 396.2 488.2 396.5 486.0C396.7 483.7 397.2 480.7 395.0 480.0C392.7 479.2 386.7 480.5 383.0 481.5C379.2 482.5 375.1 485.7 372.5 486.0C369.9 486.2 367.7 484.5 367.2 483.0C366.7 481.5 369.4 479.2 369.5 477.0C369.6 474.7 367.7 471.7 368.0 469.5C368.2 467.2 369.2 465.7 371.0 463.5C372.7 461.2 377.0 456.5 378.5 456.0C380.0 455.5 379.0 459.0 380.0 460.5C381.0 462.0 382.2 464.7 384.5 465.0C386.7 465.2 392.2 463.5 393.5 462.0C394.7 460.5 391.2 458.0 392.0 456.0C392.7 454.0 397.5 451.5 398.0 450.0C398.5 448.5 396.7 448.7 395.0 447.0C393.2 445.2 390.0 441.7 387.5 439.5C385.0 437.2 381.5 435.7 380.0 433.5C378.5 431.2 377.7 428.0 378.5 426.0C379.2 424.0 381.7 423.0 384.5 421.5C387.2 420.0 393.7 418.5 395.0 417.0C396.2 415.5 394.0 413.0 392.0 412.5C390.0 412.0 383.5 415.2 383.0 414.0C382.5 412.7 387.7 407.7 389.0 405.0C390.2 402.2 392.0 398.5 390.5 397.5C389.0 396.5 383.2 399.2 380.0 399.0C376.7 398.7 374.0 397.5 371.0 396.0C368.0 394.5 363.2 391.0 362.0 390.0C360.7 389.0 363.5 391.3 363.5 389.9C363.5 388.6 362.0 384.5 362.0 382.0C362.0 379.4 362.0 376.7 363.5 374.5C365.0 372.2 370.7 370.7 371.0 368.5C371.2 366.2 367.5 363.2 365.0 361.0C362.5 358.7 358.5 357.5 356.0 355.0C353.5 352.5 353.0 349.5 350.0 346.0C347.0 342.5 340.7 337.5 338.0 334.0C335.2 330.5 334.0 328.5 333.5 325.0C333.0 321.5 335.2 316.7 335.0 313.0C334.7 309.2 333.5 306.1 332.0 302.5C330.5 298.9 326.0 292.8 326.0 291.2C326.0 289.7 331.8 294.9 332.0 293.0C332.2 291.1 329.3 286.0 327.0 280.0C324.7 274.0 321.8 264.2 318.0 257.0C314.2 249.8 309.4 243.7 304.0 237.0C298.6 230.3 289.8 223.7 285.6 217.0C281.4 210.3 281.3 203.7 279.0 197.0C276.7 190.3 273.2 183.7 272.0 177.0C270.8 170.3 270.0 164.8 272.0 157.0C274.0 149.2 221.8 134.8 284.0 130.0C346.2 125.2 584.8 54.3 645.0 128.0C705.2 201.7 648.2 498.3 645.0 572.0C641.8 645.7 629.6 570.5 626.0 570.5Z" fill="#faa33f"/>
<path d="M344.0 325.0C342.6 328.1 341.0 326.7 341.0 328.7C341.0 330.7 342.0 334.1 344.0 337.0C346.0 339.9 350.0 343.5 353.0 346.0C356.0 348.5 359.0 350.0 362.0 352.0C365.0 354.0 368.2 355.7 371.0 358.0C373.7 360.2 377.0 362.7 378.5 365.5C380.0 368.2 378.2 372.0 380.0 374.5C381.7 377.0 386.0 380.5 389.0 380.5C392.0 380.5 394.5 377.2 398.0 374.5C401.5 371.7 407.5 363.7 410.0 364.0C412.5 364.2 411.5 372.5 413.0 376.0C414.5 379.5 416.5 382.5 419.0 385.0C421.5 387.5 425.7 388.5 428.0 391.0C430.2 393.5 434.7 400.1 432.5 400.0C430.2 399.8 414.5 389.2 414.5 390.0C414.5 390.8 428.0 400.5 432.5 405.0C437.0 409.5 438.2 412.2 441.5 417.0C444.7 421.7 448.5 428.2 452.0 433.5C455.5 438.7 457.5 443.7 462.5 448.5C467.5 453.2 475.7 457.7 482.0 462.0C488.2 466.2 496.0 469.0 500.0 474.0C504.0 479.0 505.5 485.2 506.0 492.0C506.5 498.7 505.0 507.5 503.0 514.5C501.0 521.5 493.5 531.0 494.0 534.0C494.5 537.0 501.0 534.5 506.0 532.5C511.0 530.5 518.2 525.7 524.0 522.0C529.7 518.2 534.5 512.7 540.5 510.0C546.5 507.2 554.2 506.5 560.0 505.5C565.7 504.5 569.5 504.6 575.0 504.0C580.5 503.4 588.0 502.7 593.0 501.7C598.0 500.8 603.0 501.9 605.0 498.3C607.0 494.7 605.8 513.0 605.0 480.0C604.1 446.9 630.8 355.0 600.0 300.0C569.2 245.0 470.0 172.5 420.0 150.0C370.0 127.5 323.5 157.2 300.0 165.0C276.5 172.8 281.4 188.3 279.0 197.0C276.6 205.7 281.4 210.3 285.6 217.0C289.8 223.7 298.6 230.3 304.0 237.0C309.4 243.7 314.2 249.8 318.0 257.0C321.8 264.2 322.5 273.3 327.0 280.0C331.5 286.7 341.3 292.0 345.0 297.0C348.7 302.0 349.2 305.3 349.0 310.0C348.8 314.7 345.3 321.9 344.0 325.0Z" fill="#f8c542"/>
<path d="M292.0 183.4C293.4 182.8 298.1 185.2 300.7 185.5C303.4 185.8 305.5 184.8 307.9 185.5C310.3 186.2 312.3 188.4 315.1 189.6C317.8 190.8 322.8 191.1 324.3 192.7C325.8 194.2 324.8 197.4 324.3 198.8C323.8 200.2 322.8 200.7 321.2 200.9C319.7 201.0 316.8 200.7 315.1 199.8C313.4 199.0 312.5 196.9 311.0 195.7C309.4 194.5 307.4 193.0 305.9 192.7C304.3 192.3 303.1 192.7 301.8 193.7C300.4 194.7 299.0 198.5 297.7 198.8C296.3 199.2 294.4 197.3 293.6 195.7C292.7 194.2 292.8 191.6 292.5 189.6C292.3 187.5 290.7 184.1 292.0 183.4Z" fill="#e7fa5a"/>
<path d="M327.4 221.4C327.9 220.7 329.4 221.2 330.5 222.4C331.5 223.6 332.8 226.3 333.5 228.5C334.2 230.7 334.9 234.0 334.5 235.7C334.2 237.4 332.4 239.3 331.5 238.8C330.5 238.3 329.6 234.7 328.9 232.6C328.2 230.6 327.6 228.4 327.4 226.5C327.1 224.6 326.9 222.0 327.4 221.4Z" fill="#e7fa5a"/>
<path d="M341.7 252.1C342.4 250.0 345.8 248.8 347.9 249.0C349.9 249.2 352.0 251.4 354.0 253.1C356.1 254.8 357.8 257.6 360.2 259.3C362.6 261.0 366.5 262.0 368.4 263.4C370.2 264.7 371.4 266.5 371.4 267.5C371.4 268.4 372.3 268.7 368.4 269.0C364.4 269.3 352.0 270.3 347.9 269.0C343.8 267.7 344.8 264.1 343.8 261.3C342.7 258.5 341.0 254.1 341.7 252.1Z" fill="#e7fa5a"/>
<path d="M338.0 251.5C338.4 251.0 342.0 254.5 344.0 256.0C346.0 257.5 348.0 260.0 350.0 260.5C352.0 261.0 353.5 258.5 356.0 259.0C358.5 259.5 362.7 261.5 365.0 263.5C367.2 265.5 368.0 268.5 369.5 271.0C371.0 273.5 372.0 276.7 374.0 278.5C376.0 280.2 379.5 280.0 381.5 281.5C383.5 283.0 384.2 286.0 386.0 287.5C387.7 289.0 390.5 289.2 392.0 290.5C393.5 291.7 395.0 293.5 395.0 295.0C395.0 296.5 392.7 297.5 392.0 299.5C391.2 301.5 391.2 304.7 390.5 307.0C389.7 309.2 387.5 310.7 387.5 313.0C387.5 315.2 390.5 318.0 390.5 320.5C390.5 323.0 388.5 325.7 387.5 328.0C386.5 330.2 385.5 333.4 384.5 334.0C383.5 334.6 382.2 332.7 381.5 331.7C380.7 330.7 380.5 329.6 380.0 328.0C379.5 326.4 379.2 324.0 378.5 322.0C377.7 320.0 376.5 318.0 375.5 316.0C374.5 314.0 373.7 312.2 372.5 310.0C371.2 307.7 369.2 305.0 368.0 302.5C366.7 300.0 366.2 297.5 365.0 295.0C363.7 292.5 362.0 290.0 360.5 287.5C359.0 285.0 357.7 282.5 356.0 280.0C354.2 277.5 351.6 275.0 350.0 272.5C348.4 270.0 347.6 267.2 346.2 265.0C344.9 262.7 343.1 261.2 341.7 259.0C340.4 256.7 337.6 252.0 338.0 251.5Z" fill="#e7fa5a"/>
<path d="M402.5 325.0C403.5 322.5 407.7 321.5 410.0 322.0C412.2 322.5 415.2 325.2 416.0 328.0C416.7 330.7 415.7 336.0 414.5 338.5C413.2 341.0 410.2 343.2 408.5 343.0C406.7 342.7 405.0 340.0 404.0 337.0C403.0 334.0 401.5 327.5 402.5 325.0Z" fill="#e7fa5a"/>
<path d="M422.0 355.0C422.5 353.2 426.2 352.7 428.0 353.5C429.7 354.2 432.0 357.5 432.5 359.5C433.0 361.5 432.2 364.7 431.0 365.5C429.7 366.2 426.5 365.7 425.0 364.0C423.5 362.2 421.5 356.7 422.0 355.0Z" fill="#e7fa5a"/>
<path d="M432.5 385.0C433.0 382.2 437.5 376.5 440.0 373.0C442.5 369.5 445.2 365.5 447.5 364.0C449.7 362.5 451.7 362.7 453.5 364.0C455.2 365.2 456.5 368.7 458.0 371.5C459.5 374.2 461.0 377.5 462.5 380.5C464.0 383.5 465.7 386.2 467.0 389.5C468.2 392.7 470.0 397.9 470.0 400.0C470.0 402.1 468.7 403.1 467.0 402.1C465.2 401.1 462.0 396.1 459.5 394.0C457.0 391.9 454.5 391.0 452.0 389.5C449.5 388.0 447.0 385.0 444.5 385.0C442.0 385.0 439.0 389.5 437.0 389.5C435.0 389.5 432.0 387.7 432.5 385.0Z" fill="#e7fa5a"/>
<path d="M444.5 388.5C441.6 389.8 451.0 393.5 453.5 396.0C456.0 398.5 458.1 401.0 459.5 403.5C460.8 406.0 460.5 410.0 461.7 411.0C463.0 412.0 465.6 410.5 467.0 409.5C468.3 408.5 469.6 406.7 470.0 405.0C470.3 403.2 469.1 401.7 469.2 399.0C469.3 396.2 474.8 390.2 470.7 388.5C466.6 386.8 447.3 387.3 444.5 388.5Z" fill="#e7fa5a"/>
<path d="M144.7 201.5C145.0 200.2 148.4 200.2 150.0 200.7C151.6 201.2 154.0 203.1 154.5 204.5C155.0 205.9 154.0 208.3 153.0 209.0C152.0 209.7 149.9 209.9 148.5 208.7C147.1 207.4 144.5 202.8 144.7 201.5Z" fill="#08294a"/>
<path d="M259.5 200.0C260.3 199.5 262.2 201.0 264.0 203.0C265.7 205.0 268.5 209.0 270.0 212.0C271.5 215.0 271.5 218.5 273.0 221.0C274.5 223.5 277.0 225.0 279.0 227.0C281.0 229.0 284.2 231.2 285.0 233.0C285.7 234.7 285.0 237.5 283.5 237.5C282.0 237.5 278.2 235.0 276.0 233.0C273.7 231.0 272.0 228.5 270.0 225.5C268.0 222.5 265.8 218.2 264.0 215.0C262.1 211.7 259.5 208.5 258.7 206.0C258.0 203.5 258.6 200.5 259.5 200.0Z" fill="#08294a"/>
<path d="M82.5 269.5C84.0 266.6 88.7 274.0 91.5 274.7C94.2 275.5 96.7 274.4 99.0 274.0C101.2 273.6 104.1 271.5 105.0 272.5C105.9 273.5 104.2 277.5 104.2 280.0C104.2 282.5 105.9 285.7 105.0 287.5C104.1 289.2 101.2 289.5 99.0 290.5C96.7 291.5 94.2 293.2 91.5 293.5C88.7 293.7 84.0 296.0 82.5 292.0C81.0 288.0 81.0 272.4 82.5 269.5Z" fill="#41369a"/>
<path d="M243.0 263.0C243.7 261.5 246.5 258.6 249.0 257.0C251.5 255.4 255.5 253.5 258.0 253.2C260.5 253.0 263.5 254.1 264.0 255.5C264.5 256.9 263.0 259.7 261.0 261.5C259.0 263.2 254.7 265.2 252.0 266.0C249.2 266.7 246.0 266.5 244.5 266.0C243.0 265.5 242.2 264.5 243.0 263.0Z" fill="#1c3179"/>
<path d="M225.7 150.5C226.7 149.1 230.1 148.0 232.5 148.2C234.8 148.5 238.2 149.9 240.0 152.0C241.7 154.1 243.0 158.5 243.0 161.0C243.0 163.5 241.7 165.6 240.0 167.0C238.2 168.4 234.1 170.0 232.5 169.2C230.8 168.5 231.2 164.6 230.2 162.5C229.2 160.4 227.2 158.5 226.5 156.5C225.7 154.5 224.7 151.9 225.7 150.5Z" fill="#41369a"/>
<path d="M245.2 185.0C245.6 184.0 249.2 183.5 250.5 184.2C251.7 185.0 253.1 188.5 252.7 189.5C252.3 190.5 249.5 191.0 248.2 190.2C247.0 189.5 244.8 186.0 245.2 185.0Z" fill="#41369a"/>
<path d="M249.0 194.7C249.6 193.6 253.2 193.1 254.2 194.0C255.2 194.9 255.6 198.9 255.0 200.0C254.3 201.1 251.5 201.6 250.5 200.7C249.5 199.9 248.3 195.9 249.0 194.7Z" fill="#41369a"/>
<path d="M139.5 284.5C140.2 282.2 142.5 280.4 144.0 280.0C145.5 279.6 148.0 280.2 148.5 282.2C149.0 284.2 148.0 289.4 147.0 292.0C146.0 294.6 143.7 297.7 142.5 298.0C141.2 298.2 140.0 295.7 139.5 293.5C139.0 291.2 138.7 286.7 139.5 284.5Z" fill="#41369a"/>
<path d="M285.5 277.0C285.9 273.7 290.5 270.0 292.2 269.5C294.0 269.0 295.6 271.7 296.0 274.0C296.4 276.2 294.0 279.5 294.5 283.0C295.0 286.5 297.5 290.5 299.0 295.0C300.5 299.5 302.5 305.5 303.5 310.0C304.5 314.5 302.7 317.0 305.0 322.0C307.2 327.0 315.7 334.5 317.0 340.0C318.2 345.5 313.7 350.5 312.5 355.0C311.2 359.5 309.6 363.0 309.5 367.0C309.4 371.0 312.5 377.7 311.7 379.0C311.0 380.2 307.1 377.0 305.0 374.5C302.9 372.0 302.0 366.2 299.0 364.0C296.0 361.7 290.2 362.5 287.0 361.0C283.7 359.5 279.2 357.5 279.5 355.0C279.7 352.5 286.7 349.5 288.5 346.0C290.2 342.5 290.2 338.0 290.0 334.0C289.7 330.0 286.2 325.5 287.0 322.0C287.7 318.5 294.0 316.5 294.5 313.0C295.0 309.5 290.7 305.0 290.0 301.0C289.2 297.0 290.7 293.0 290.0 289.0C289.2 285.0 285.1 280.2 285.5 277.0Z" fill="#824f8e"/>
<path d="M117.0 533.7C118.2 532.4 124.1 532.9 129.0 532.2C133.9 531.6 143.4 528.4 146.2 530.0C149.1 531.6 147.6 538.6 146.2 542.0C144.9 545.4 140.9 549.7 138.0 550.2C135.1 550.7 131.7 546.6 129.0 545.0C126.2 543.4 123.5 542.4 121.5 540.5C119.5 538.6 115.7 535.1 117.0 533.7Z" fill="#f2864b"/>
<path d="M82.5 547.2C84.2 544.0 89.5 547.1 93.0 548.0C96.5 548.9 101.5 550.7 103.5 552.5C105.5 554.2 106.0 557.2 105.0 558.5C104.0 559.7 100.0 559.2 97.5 560.0C95.0 560.7 92.5 561.7 90.0 563.0C87.5 564.2 83.8 570.1 82.5 567.5C81.3 564.9 80.8 550.5 82.5 547.2Z" fill="#c0647a"/>
<path d="M82.5 578.0C84.2 575.0 89.5 577.5 93.0 578.0C96.5 578.5 100.2 579.2 103.5 581.0C106.7 582.7 111.1 586.0 112.5 588.5C113.9 591.0 113.2 594.5 111.7 596.0C110.2 597.5 106.6 597.2 103.5 597.5C100.4 597.7 96.5 597.7 93.0 597.5C89.5 597.2 84.2 599.2 82.5 596.0C80.8 592.7 80.8 581.0 82.5 578.0Z" fill="#c0647a"/>
<path d="M120.7 570.5C122.4 569.2 125.6 573.5 129.0 575.0C132.4 576.5 136.7 578.2 141.0 579.5C145.2 580.7 150.9 580.9 154.5 582.5C158.1 584.1 162.7 587.1 162.7 589.2C162.7 591.4 158.1 593.9 154.5 595.2C150.9 596.6 145.2 596.4 141.0 597.5C136.7 598.6 131.5 602.2 129.0 602.0C126.5 601.7 127.5 598.0 126.0 596.0C124.5 594.0 121.1 592.2 120.0 590.0C118.9 587.7 119.1 585.7 119.2 582.5C119.4 579.2 119.1 571.7 120.7 570.5Z" fill="#c0647a"/>
<path d="M201.0 586.2C200.2 584.2 205.5 580.9 208.5 579.5C211.5 578.1 215.2 577.6 219.0 578.0C222.7 578.4 227.5 580.0 231.0 581.7C234.5 583.5 238.0 586.1 240.0 588.5C242.0 590.9 241.0 593.7 243.0 596.0C245.0 598.2 249.0 600.0 252.0 602.0C255.0 604.0 258.7 606.0 261.0 608.0C263.2 610.0 267.0 613.4 265.5 614.0C264.0 614.6 257.2 612.9 252.0 611.7C246.7 610.6 239.0 608.9 234.0 607.2C229.0 605.6 225.0 603.9 222.0 602.0C219.0 600.1 217.5 597.7 216.0 596.0C214.5 594.2 215.5 593.1 213.0 591.5C210.5 589.9 201.7 588.2 201.0 586.2Z" fill="#c0647a"/>
<path d="M82.5 602.0C84.0 600.2 89.7 602.5 91.5 603.5C93.2 604.5 93.1 606.2 93.0 608.0C92.9 609.7 92.5 613.0 90.7 614.0C89.0 615.0 83.9 616.0 82.5 614.0C81.1 612.0 81.0 603.7 82.5 602.0Z" fill="#c0647a"/>
<path d="M396.5 466.5C398.0 464.2 404.7 461.7 407.0 462.0C409.2 462.2 407.5 467.7 410.0 468.0C412.5 468.2 418.7 463.5 422.0 463.5C425.2 463.5 427.7 465.7 429.5 468.0C431.2 470.2 431.5 474.2 432.5 477.0C433.5 479.7 436.0 482.0 435.5 484.5C435.0 487.0 431.7 491.7 429.5 492.0C427.2 492.2 424.7 487.5 422.0 486.0C419.2 484.5 416.0 484.0 413.0 483.0C410.0 482.0 406.5 481.2 404.0 480.0C401.5 478.7 399.2 477.7 398.0 475.5C396.7 473.2 395.0 468.7 396.5 466.5Z" fill="#f2864b"/>
<path d="M517.2 614.7C510.7 612.9 521.4 606.6 524.0 603.5C526.6 600.4 531.0 599.0 533.0 596.0C535.0 593.0 534.0 588.0 536.0 585.5C538.0 583.0 542.5 582.2 545.0 581.0C547.5 579.7 550.7 577.0 551.0 578.0C551.2 579.0 547.7 584.0 546.5 587.0C545.2 590.0 543.0 593.5 543.5 596.0C544.0 598.5 546.7 600.5 549.5 602.0C552.2 603.5 557.7 602.9 560.0 605.0C562.2 607.1 570.1 613.1 563.0 614.7C555.8 616.4 523.7 616.6 517.2 614.7Z" fill="#dd6f64"/>
<path d="M563.0 588.5C563.5 585.0 567.0 582.7 569.0 581.0C571.0 579.2 574.0 576.5 575.0 578.0C576.0 579.5 575.5 586.0 575.0 590.0C574.5 594.0 571.7 597.9 572.0 602.0C572.2 606.1 577.0 612.6 576.5 614.7C576.0 616.9 570.7 616.9 569.0 614.7C567.2 612.6 567.0 606.4 566.0 602.0C565.0 597.6 562.5 592.0 563.0 588.5Z" fill="#faa33f"/>
<path d="M587.0 584.0C587.2 581.2 590.2 580.0 591.5 581.0C592.7 582.0 594.1 586.7 594.5 590.0C594.8 593.2 594.5 599.2 593.7 600.5C593.0 601.7 591.1 600.2 590.0 597.5C588.8 594.7 586.7 586.7 587.0 584.0Z" fill="#faa33f"/>
<path d="M428.0 569.0C428.7 566.7 432.7 562.0 435.5 560.0C438.2 558.0 442.0 557.0 444.5 557.0C447.0 557.0 449.7 558.2 450.5 560.0C451.2 561.7 448.7 565.5 449.0 567.5C449.2 569.5 453.5 570.7 452.0 572.0C450.5 573.2 443.5 574.7 440.0 575.0C436.5 575.2 433.0 574.5 431.0 573.5C429.0 572.5 427.2 571.2 428.0 569.0Z" fill="#faa33f"/>
<path d="M543.5 530.0C542.7 528.0 541.2 522.5 542.0 519.5C542.7 516.5 545.5 514.2 548.0 512.0C550.5 509.7 554.0 507.0 557.0 506.0C560.0 505.0 565.2 505.0 566.0 506.0C566.7 507.0 563.7 510.2 561.5 512.0C559.2 513.7 554.7 514.7 552.5 516.5C550.2 518.2 549.0 520.0 548.0 522.5C547.0 525.0 547.2 530.2 546.5 531.5C545.7 532.7 544.2 532.0 543.5 530.0Z" fill="#f8c542"/>
<path d="M582.5 548.0C584.7 547.0 592.7 546.5 597.5 546.5C602.2 546.5 609.2 546.7 611.0 548.0C612.7 549.2 610.0 552.5 608.0 554.0C606.0 555.5 602.0 556.7 599.0 557.0C596.0 557.2 592.5 556.2 590.0 555.5C587.5 554.7 585.2 553.7 584.0 552.5C582.7 551.2 580.2 549.0 582.5 548.0Z" fill="#f8c542"/>
<path d="M320.2 228.5C320.8 227.7 323.1 229.2 324.3 230.6C325.5 231.9 326.4 234.5 327.4 236.7C328.4 238.9 329.8 242.0 330.5 243.9C331.1 245.8 332.0 247.5 331.5 248.0C331.0 248.5 328.7 248.0 327.4 247.0C326.0 245.9 324.4 243.7 323.3 241.8C322.2 240.0 321.2 237.9 320.7 235.7C320.2 233.5 319.6 229.4 320.2 228.5Z" fill="#faa33f"/>
<path d="M330.5 250.0C331.2 249.5 333.9 250.9 335.6 252.1C337.3 253.3 339.3 255.3 340.7 257.2C342.1 259.1 343.1 261.4 343.8 263.4C344.5 265.3 345.8 268.1 344.8 269.0C343.8 269.9 339.5 270.3 337.6 269.0C335.7 267.7 334.6 263.6 333.5 261.3C332.4 259.0 331.5 257.0 331.0 255.2C330.5 253.3 329.7 250.6 330.5 250.0Z" fill="#faa33f"/>
<path d="M619.0 257.0C620.8 254.3 625.7 247.2 627.0 261.0C628.3 274.8 628.3 326.8 627.0 340.0C625.7 353.2 620.7 343.8 619.0 340.0C617.3 336.2 617.0 324.2 617.0 317.0C617.0 309.8 619.2 303.7 619.0 297.0C618.8 290.3 616.0 283.7 616.0 277.0C616.0 270.3 617.2 259.7 619.0 257.0Z" fill="#f8c542"/>
<path d="M615.0 293.0C616.3 288.0 618.3 289.7 619.0 293.0C619.7 296.3 619.7 306.3 619.0 313.0C618.3 319.7 616.0 326.3 615.0 333.0C614.0 339.7 613.0 346.3 613.0 353.0C613.0 359.7 614.0 366.3 615.0 373.0C616.0 379.7 617.5 387.7 619.0 393.0C620.5 398.3 623.2 401.7 624.0 405.0C624.8 408.3 624.8 413.0 624.0 413.0C623.2 413.0 621.2 410.0 619.0 405.0C616.8 400.0 612.7 391.7 611.0 383.0C609.3 374.3 609.0 363.0 609.0 353.0C609.0 343.0 610.0 333.0 611.0 323.0C612.0 313.0 613.7 298.0 615.0 293.0Z" fill="#f8c542"/>
<rect x="83.6" y="613.3" width="540.8" height="60.0" fill="#97b6e1"/>
<path d="M154.4 137.4 L161.0 139.0 L167.6 137.0" fill="none" stroke="#fff" stroke-width="4.6" stroke-linecap="round"/>
<path d="M193.0 164.0 L196.4 167.0" fill="none" stroke="#fff" stroke-width="4.6" stroke-linecap="round"/>
<path d="M226.4 148.0 L232.0 145.4 L238.4 147.0 L242.4 150.6" fill="none" stroke="#fff" stroke-width="4.6" stroke-linecap="round"/>
<path d="M478.0 442.0 L484.0 446.6" fill="none" stroke="#fff" stroke-width="4.6" stroke-linecap="round"/>
<path d="M485.0 452.4 L485.0 455.4" fill="none" stroke="#fff" stroke-width="4.6" stroke-linecap="round"/>
<path d="M233.0 135.0 L233.0 137.0 L235.0 138.5 L237.0 139.9 L239.0 141.3 L241.0 142.5 L242.7 143.9 L243.9 145.8 L245.2 147.8 L246.3 150.0 L246.9 152.2 L248.6 153.7 L249.2 155.7 L249.5 158.1 L250.5 160.4 L251.6 162.4 L251.8 165.0 L253.4 167.5 L254.8 170.0 L255.8 172.5 L256.4 174.9 L257.9 176.9 L259.1 179.2 L259.9 182.0 L259.2 186.3 L260.7 188.0 L261.7 190.2 L262.7 192.2 L264.6 194.7 L266.2 197.0 L267.5 199.0 L268.2 201.6 L269.3 203.8 L269.5 206.6 L271.1 209.1 L271.2 211.4 L272.6 213.8 L273.2 215.8 L273.8 218.5 L274.0 220.8 L275.6 223.1 L276.9 225.2 L278.7 227.1 L281.0 229.0 L283.0 230.1 L284.7 231.9 L287.6 233.7 L290.1 235.5 L292.3 237.5 L293.8 240.2 L295.8 241.4 L297.8 243.2 L299.0 244.8 L301.2 246.6 L302.8 249.2 L306.0 249.7 L305.5 253.0 L305.0 256.0 L305.2 259.0 L303.3 261.0 L301.9 263.5 L299.6 263.1 L297.0 263.4 L294.4 264.0 L292.1 264.4 L290.2 263.5 L288.0 263.2 L285.5 263.0 L287.8 264.8 L289.8 267.1 L292.0 268.7 L294.0 270.8 L295.8 272.5 L297.2 275.0 L298.7 277.4 L300.9 278.3 L303.0 278.8 L304.6 280.4 L306.7 281.9 L308.8 282.8 L310.9 285.0 L313.8 286.2 L317.1 286.9 L319.0 284.4 L321.7 282.0 L322.6 286.2 L324.6 288.3 L325.7 290.9 L327.8 291.7 L330.0 292.8 L332.2 294.0 L334.1 295.8 L336.6 297.1 L338.2 299.4 L340.0 301.9 L340.9 304.1 L341.6 306.3 L342.3 308.5 L343.1 311.6 L343.0 314.3 L342.6 317.6 L342.0 320.6 L340.9 323.5 L339.5 326.8 L342.0 327.7 L344.4 329.4 L346.3 330.7 L348.2 332.6 L350.2 333.7 L352.0 335.3 L353.6 337.2 L355.8 338.4 L357.9 339.9 L359.8 342.1 L362.2 342.5 L363.9 345.3 L366.7 347.5 L368.3 348.9 L370.0 350.4 L372.1 351.6 L374.5 354.0 L375.8 356.8 L378.6 358.8 L380.1 361.8 L381.5 363.5 L382.7 365.1 L385.2 363.5 L388.2 362.2 L390.0 360.9 L391.3 359.2 L392.6 356.4 L392.9 353.3 L391.5 351.0 L390.0 348.8 L389.0 346.2 L387.9 343.6 L386.2 341.0 L384.9 338.9 L382.3 337.0 L379.9 335.3 L377.8 337.8 L375.3 340.0 L371.7 338.0 L370.5 335.3 L369.2 332.3 L369.7 329.5 L369.9 326.4 L368.8 324.6 L367.6 322.6 L367.0 320.6 L366.4 317.5 L365.3 314.2 L364.3 312.3 L362.9 310.6 L362.4 308.4 L360.9 306.3 L359.6 304.6 L358.6 302.5 L357.8 299.8 L356.1 297.6 L355.7 295.2 L355.2 293.0 L353.8 291.1 L353.2 288.8 L351.4 287.2 L349.6 285.6 L348.6 283.7 L347.4 281.6 L345.5 280.4 L344.1 278.2 L342.1 276.8 L340.8 274.4 L339.0 272.9 L338.2 270.3 L336.5 268.5 L334.8 266.6 L334.6 264.1 L333.1 262.7 L331.8 260.4 L331.2 257.4 L329.4 254.9 L328.4 252.4 L327.2 250.0 L328.1 252.7 L330.0 255.3 L330.1 258.3 L328.9 255.6 L327.7 252.8 L326.3 250.9 L324.1 249.1 L322.7 246.5 L320.1 244.8 L318.0 243.1 L316.4 240.5 L315.0 238.7 L314.6 236.6 L312.8 234.3 L311.1 231.4 L309.4 229.8 L307.6 227.9 L306.0 226.1 L303.1 224.7 L301.1 222.2 L299.4 220.4 L297.9 218.3 L297.6 216.0 L296.7 213.5 L294.6 211.0 L294.4 208.6 L294.2 206.5 L294.3 203.8 L293.4 201.5 L292.2 199.5 L291.6 196.9 L291.3 193.5 L289.7 190.5 L291.1 188.5 L290.3 185.8 L291.9 183.4 L290.2 180.7 L290.0 177.8 L292.8 178.5 L295.7 180.6 L298.1 182.0 L300.8 182.7 L303.1 184.4 L305.9 185.0 L309.1 182.8 L311.0 183.9 L312.9 185.4 L314.3 187.3 L316.3 189.1 L318.7 190.4 L321.9 190.9 L324.3 192.1 L324.3 194.9 L324.8 197.7 L325.5 200.8 L325.0 204.1 L326.4 206.5 L327.4 209.4 L329.3 211.6 L330.9 214.1 L331.2 217.2 L331.5 220.3 L333.0 223.0 L334.7 225.1 L336.3 228.1 L337.6 230.9 L339.2 232.7 L340.2 234.8 L341.8 238.6 L343.8 240.5 L346.1 242.6 L347.4 245.2 L349.8 247.2 L352.0 248.3 L352.9 250.7 L354.5 252.3 L356.9 254.7 L359.3 257.0 L362.0 259.2 L364.2 261.3 L366.5 262.2 L369.0 262.3 L371.3 263.4 L370.9 266.3 L371.9 269.7 L373.0 271.7 L374.4 273.9 L375.4 276.7 L377.9 277.7 L380.5 278.7 L383.2 279.8 L384.5 281.6 L385.9 284.2 L387.5 286.3 L389.5 286.6 L391.3 288.1 L393.6 289.0 L394.9 291.2 L396.9 292.7 L397.9 295.0 L395.9 297.4 L394.0 299.6 L393.2 302.7 L392.6 305.6 L394.6 307.0 L396.4 308.6 L397.6 310.3 L400.5 310.8 L403.1 312.0 L405.2 313.2 L407.7 314.6 L410.0 316.0 L412.2 317.2 L414.7 318.9 L416.5 320.7 L418.2 323.0 L420.8 324.8 L422.2 326.7 L423.5 328.9 L425.3 330.7 L427.0 332.5 L429.1 333.8 L431.2 335.6 L433.0 337.5 L435.0 339.4 L437.2 341.4 L438.1 343.6 L440.4 345.2 L440.9 347.8 L443.1 349.3 L444.7 351.5 L446.3 353.3 L446.9 355.5 L448.8 357.5 L451.0 358.8 L451.7 361.4 L453.9 362.6 L455.2 365.0 L456.6 366.7 L457.9 368.8 L459.8 371.0 L461.5 372.9 L462.6 375.1 L462.9 378.1 L464.1 380.4 L465.6 382.9 L466.8 385.5 L468.4 388.1 L469.2 390.6 L470.3 393.2 L471.4 396.0 L470.0 398.0 L469.5 400.4 L467.5 402.0 L469.2 404.8 L470.0 407.8 L467.7 409.4 L466.2 411.2 L464.5 412.8 L463.6 415.0 L463.0 416.7 L463.0 419.2 L464.0 421.1 L465.4 422.8 L467.2 425.5 L468.5 428.0 L469.6 430.8 L471.8 432.3 L474.0 433.7 L476.4 434.7 L478.4 435.9 L480.3 437.7 L482.6 438.5 L484.7 439.8 L487.4 441.0 L489.5 442.5 L491.9 443.4 L493.9 445.6 L495.4 447.6 L497.4 449.2 L499.6 450.9 L501.7 452.8 L504.0 454.2 L506.3 455.5 L508.2 456.4 L510.5 457.8 L512.6 458.0 L514.9 459.1 L517.4 459.8 L519.7 460.0 L521.7 461.2 L524.1 461.3 L526.6 462.1 L529.1 462.2 L531.5 462.7 L533.5 464.1 L535.3 466.6 L538.0 467.7 L539.5 469.4 L541.3 470.6 L543.3 472.2 L545.0 474.3 L547.4 474.9 L549.3 476.4 L551.8 477.4 L553.6 478.8 L556.4 479.1 L558.3 480.4 L560.7 480.7 L563.0 481.7 L565.0 483.0 L567.5 483.5 L569.7 484.4 L572.1 484.8 L574.2 486.2 L577.3 486.3 L579.4 486.9 L582.1 488.3 L584.5 488.9 L587.5 489.1 L589.5 490.2 L591.8 491.3 L593.7 491.9 L595.5 494.0 L597.4 495.2 L600.0 495.7 L602.5 496.6 L605.0 497.4 L607.1 498.9 L609.3 500.1 L611.5 500.3 L614.0 501.0 L616.3 501.4 L618.6 501.7 L620.9 502.1 L623.3 502.5 L627.5 502.8 L627.4 500.5 L627.4 498.3 L627.4 496.0 L627.4 493.8 L627.4 491.5 L627.4 489.3 L627.4 487.0 L627.4 484.8 L627.4 482.5 L627.3 480.3 L627.3 478.0 L627.3 475.8 L627.3 473.5 L627.3 471.3 L627.3 469.0 L627.3 466.8 L627.3 464.5 L627.2 462.3 L627.2 460.0 L627.2 457.8 L627.2 455.5 L627.2 453.3 L627.2 451.0 L627.2 448.8 L627.2 446.5 L627.2 444.3 L627.1 442.0 L627.1 439.8 L627.1 437.5 L627.1 435.3 L627.1 433.0 L627.1 430.8 L627.1 428.5 L627.1 426.3 L627.0 424.0 L627.0 421.8 L627.0 419.5 L627.0 417.3 L627.0 415.0 L624.0 413.6 L622.8 411.5 L621.5 409.3 L620.2 407.1 L619.0 405.0 L618.2 402.8 L617.2 400.9 L615.5 399.0 L615.4 396.7 L614.0 395.1 L612.7 393.0 L612.5 390.6 L611.2 388.1 L610.6 385.6 L609.7 383.2 L609.6 380.4 L608.4 378.2 L607.5 375.4 L606.6 373.1 L607.1 370.8 L607.0 368.3 L607.9 366.1 L607.4 363.5 L608.3 361.5 L607.6 359.1 L608.1 356.7 L608.6 354.3 L608.3 352.3 L608.1 349.7 L608.5 347.4 L608.5 345.5 L609.1 343.2 L608.3 340.9 L609.1 338.3 L608.2 335.9 L608.0 333.5 L608.2 331.4 L608.1 329.0 L608.1 326.5 L609.2 324.2 L609.4 321.8 L609.4 319.5 L610.3 317.4 L612.7 315.1 L614.9 312.8 L615.8 310.6 L616.5 308.0 L617.3 305.4 L618.4 302.8 L617.8 300.4 L617.2 297.8 L616.4 295.6 L616.5 292.8 L615.7 290.7 L615.3 288.3 L614.8 286.0 L614.2 283.4 L614.1 281.1 L612.7 279.0 L611.7 277.0 L611.0 274.9 L611.6 272.5 L613.5 270.1 L614.3 267.5 L614.7 264.9 L616.1 263.1 L616.9 260.8 L618.3 259.2 L619.0 257.0 L621.7 256.0 L624.3 255.0 L627.0 254.0 L627.0 251.8 L627.0 249.6 L627.0 247.4 L627.0 245.2 L627.0 243.0 L627.0 240.8 L627.0 238.6 L627.0 236.4 L627.0 234.2 L627.0 232.0 L627.0 229.8 L627.0 227.6 L627.0 225.4 L627.0 223.1 L627.0 220.9 L627.0 218.7 L627.0 216.5 L627.0 214.3 L627.0 212.1 L627.0 209.9 L627.0 207.7 L627.0 205.5 L627.0 203.3 L627.0 201.1 L627.0 198.9 L627.0 196.7 L627.0 194.5 L627.0 192.3 L627.0 190.1 L627.0 187.9 L627.0 185.7 L627.0 183.5 L627.0 181.3 L627.0 179.1 L627.0 176.9 L627.0 174.7 L627.0 172.5 L627.0 170.3 L627.0 168.1 L627.0 165.9 L627.0 163.6 L627.0 161.4 L627.0 159.2 L627.0 157.0 L627.0 154.8 L627.0 152.6 L627.0 150.4 L627.0 148.2 L627.0 146.0 L627.0 143.8 L627.0 141.6 L627.0 139.4 L627.0 137.2 L627.0 135.0 L624.8 135.0 L622.6 135.0 L620.4 135.0 L618.2 135.0 L616.0 135.0 L613.8 135.0 L611.6 135.0 L609.4 135.0 L607.2 135.0 L605.0 135.0 L602.8 135.0 L600.6 135.0 L598.4 135.0 L596.2 135.0 L594.0 135.0 L591.8 135.0 L589.6 135.0 L587.4 135.0 L585.2 135.0 L583.0 135.0 L580.8 135.0 L578.6 135.0 L576.4 135.0 L574.2 135.0 L572.0 135.0 L569.8 135.0 L567.6 135.0 L565.4 135.0 L563.2 135.0 L561.0 135.0 L558.8 135.0 L556.6 135.0 L554.4 135.0 L552.2 135.0 L550.0 135.0 L547.8 135.0 L545.6 135.0 L543.4 135.0 L541.2 135.0 L539.0 135.0 L536.8 135.0 L534.6 135.0 L532.4 135.0 L530.2 135.0 L527.9 135.0 L525.7 135.0 L523.5 135.0 L521.3 135.0 L519.1 135.0 L516.9 135.0 L514.7 135.0 L512.5 135.0 L510.3 135.0 L508.1 135.0 L505.9 135.0 L503.7 135.0 L501.5 135.0 L499.3 135.0 L497.1 135.0 L494.9 135.0 L492.7 135.0 L490.5 135.0 L488.3 135.0 L486.1 135.0 L483.9 135.0 L481.7 135.0 L479.5 135.0 L477.3 135.0 L475.1 135.0 L472.9 135.0 L470.7 135.0 L468.5 135.0 L466.3 135.0 L464.1 135.0 L461.9 135.0 L459.7 135.0 L457.5 135.0 L455.3 135.0 L453.1 135.0 L450.9 135.0 L448.7 135.0 L446.5 135.0 L444.3 135.0 L442.1 135.0 L439.9 135.0 L437.7 135.0 L435.5 135.0 L433.3 135.0 L431.1 135.0 L428.9 135.0 L426.7 135.0 L424.5 135.0 L422.3 135.0 L420.1 135.0 L417.9 135.0 L415.7 135.0 L413.5 135.0 L411.3 135.0 L409.1 135.0 L406.9 135.0 L404.7 135.0 L402.5 135.0 L400.3 135.0 L398.1 135.0 L395.9 135.0 L393.7 135.0 L391.5 135.0 L389.3 135.0 L387.1 135.0 L384.9 135.0 L382.7 135.0 L380.5 135.0 L378.3 135.0 L376.1 135.0 L373.9 135.0 L371.7 135.0 L369.5 135.0 L367.3 135.0 L365.1 135.0 L362.9 135.0 L360.7 135.0 L358.5 135.0 L356.3 135.0 L354.1 135.0 L351.9 135.0 L349.7 135.0 L347.5 135.0 L345.3 135.0 L343.1 135.0 L340.9 135.0 L338.7 135.0 L336.5 135.0 L334.3 135.0 L332.1 135.0 L329.8 135.0 L327.6 135.0 L325.4 135.0 L323.2 135.0 L321.0 135.0 L318.8 135.0 L316.6 135.0 L314.4 135.0 L312.2 135.0 L310.0 135.0 L307.8 135.0 L305.6 135.0 L303.4 135.0 L301.2 135.0 L299.0 135.0 L296.8 135.0 L294.6 135.0 L292.4 135.0 L290.2 135.0 L288.0 135.0 L285.8 135.0 L283.6 135.0 L281.4 135.0 L279.2 135.0 L277.0 135.0 L274.8 135.0 L272.6 135.0 L270.4 135.0 L268.2 135.0 L266.0 135.0 L263.8 135.0 L261.6 135.0 L259.4 135.0 L257.2 135.0 L255.0 135.0 L252.8 135.0 L250.6 135.0 L248.4 135.0 L246.2 135.0 L244.0 135.0 L241.8 135.0 L239.6 135.0 L237.4 135.0 L235.2 135.0Z" fill="#d2b48c" stroke="#000" stroke-width="2.1" stroke-linejoin="round"/>
<path d="M314.0 226.0 L318.0 228.0 L322.0 233.0 L324.0 239.0 L321.0 238.0 L317.0 234.0 L314.4 230.0Z" fill="none" stroke="#000" stroke-width="1.6" stroke-linejoin="round"/>
<path d="M335.6 234.0 L339.0 233.0 L341.0 238.0 L339.6 243.0 L336.4 242.0 L335.0 238.0Z" fill="#d2b48c" stroke="#000" stroke-width="1.6" stroke-linejoin="round"/>
<path d="M281.7 253.0 L284.7 251.8 L286.4 256.0 L285.2 259.9 L282.5 258.7 L281.0 256.0Z" fill="none" stroke="#000" stroke-width="1.6" stroke-linejoin="round"/>
<path d="M225.7 234.5 L228.3 235.2 L229.2 240.5 L228.0 243.2 L226.2 242.0 L225.3 238.2Z" fill="#000" stroke="#000" stroke-width="0.8" stroke-linejoin="round"/>
<path d="M202.5 146.3 L205.8 146.9 L206.2 148.4 L203.2 148.7Z" fill="#000" stroke="#000" stroke-width="0.8" stroke-linejoin="round"/>
<path d="M219.7 141.8 L222.7 142.4 L225.7 144.5 L223.5 144.8 L220.5 143.3Z" fill="#000" stroke="#000" stroke-width="0.8" stroke-linejoin="round"/>
<path d="M219.7 151.5 L221.7 152.0 L225.0 156.2 L225.7 158.0 L223.5 157.2 L220.8 153.8Z" fill="#000" stroke="#000" stroke-width="0.8" stroke-linejoin="round"/>
<path d="M302.7 262.0 L306.5 262.7 L308.7 265.0 L307.7 267.7 L305.0 268.7 L303.5 265.7Z" fill="#000" stroke="#000" stroke-width="0.8" stroke-linejoin="round"/>
<path d="M338.7 325.0 L341.7 328.0 L346.2 331.0 L350.7 334.0 L350.0 336.2 L345.5 334.0 L341.0 331.0 L338.3 328.0Z" fill="#000" stroke="#000" stroke-width="0.8" stroke-linejoin="round"/>
<path d="M346.2 283.7 L349.2 286.0 L350.7 289.7 L349.2 290.5 L347.0 287.5Z" fill="#000" stroke="#000" stroke-width="0.8" stroke-linejoin="round"/>
<path d="M357.2 301.0 L360.2 300.2 L361.2 304.0 L359.3 305.8 L357.5 304.0Z" fill="#000" stroke="#000" stroke-width="0.8" stroke-linejoin="round"/>
<path d="M368.3 322.0 L371.3 321.2 L372.2 325.0 L370.2 326.8 L368.3 325.0Z" fill="#000" stroke="#000" stroke-width="0.8" stroke-linejoin="round"/>
<path d="M373.2 330.2 L375.8 331.0 L377.0 336.2 L375.2 337.0 L373.7 334.0Z" fill="#000" stroke="#000" stroke-width="0.8" stroke-linejoin="round"/>
<path d="M382.2 334.7 L384.2 335.5 L385.2 340.0 L383.7 340.7 L382.2 337.7Z" fill="#000" stroke="#000" stroke-width="0.8" stroke-linejoin="round"/>
<path d="M612.0 262.0 L619.0 256.6 L621.4 259.4 L616.0 267.0 L614.0 277.0 L610.0 278.0 L608.0 273.0 L611.0 269.0Z" fill="#000" stroke="#000" stroke-width="0.8" stroke-linejoin="round"/>
<path d="M610.6 314.0 L615.0 311.0 L616.0 314.0 L612.0 318.0 L610.0 324.0 L608.0 323.0Z" fill="#000" stroke="#000" stroke-width="0.8" stroke-linejoin="round"/>
<path d="M609.4 379.0 L611.4 383.0 L615.0 391.0 L619.0 397.0 L617.0 398.0 L612.6 392.0 L609.4 385.0Z" fill="#000" stroke="#000" stroke-width="0.8" stroke-linejoin="round"/>
<circle cx="344.7" cy="330.3" r="1.1" fill="#97b6e1"/>
<circle cx="293.4" cy="454.6" r="1.3" fill="#000"/>
<circle cx="363.4" cy="446.4" r="2.2" fill="#000"/>
<circle cx="366.4" cy="436.0" r="1.4" fill="#000"/>
<circle cx="445.0" cy="390.0" r="1.3" fill="#000"/>
<circle cx="448.0" cy="393.0" r="1.3" fill="#000"/>
<circle cx="451.0" cy="396.4" r="1.2" fill="#000"/>
<circle cx="365.0" cy="307.0" r="1.3" fill="#000"/>
<circle cx="367.2" cy="316.0" r="1.3" fill="#000"/>
<circle cx="346.2" cy="272.5" r="1.1" fill="#000"/>
<path d="M610.6 312.0 L613.0 313.0 L611.0 323.0 L610.0 335.0 L608.2 339.0 L607.8 327.0 L609.0 317.0Z" fill="#5b6f8f" stroke="#000" stroke-width="1.2"/>
<path d="M609.4 315.0 L612.6 314.0 L610.6 323.0 L609.0 334.0 L607.8 339.0 L607.6 327.0Z" fill="#5b6f8f" stroke="#000" stroke-width="1.2"/>
<path d="M616.0 265.0 L619.0 262.0 L618.4 269.0 L616.6 275.0 L614.6 277.0Z" fill="#5b6f8f" stroke="#000" stroke-width="1.2"/>
<path d="M380.0 149.4 L364.0 152.0 L352.0 151.0 L342.0 147.0 L334.0 145.0 L332.0 151.0 L324.0 154.0 L314.0 156.0 L304.0 159.0 L299.0 157.0 L296.0 159.0 L292.0 163.0 L290.0 169.0 L285.6 173.0 L288.0 177.0 L291.0 178.4" fill="none" stroke="#97b6e1" stroke-width="1.8" stroke-linejoin="round"/>
<path d="M330.0 144.6 L341.0 148.0 L351.0 152.0 L361.0 150.6 L367.0 152.0 L375.0 149.0 L383.0 154.0 L391.0 156.4 L397.0 154.6 L401.0 160.4 L407.0 157.0 L411.0 152.0 L415.0 147.0 L416.0 140.6" fill="none" stroke="#97b6e1" stroke-width="1.8" stroke-linejoin="round"/>
<path d="M439.0 136.0 L434.0 143.0 L431.0 151.0 L433.0 159.0 L439.0 165.0 L442.0 171.0 L444.0 175.0 L446.0 180.0 L453.0 187.0 L461.0 194.0 L469.0 200.0 L475.0 204.0 L479.0 211.0 L480.0 219.0 L483.0 225.0 L491.0 231.0 L499.0 235.0 L508.0 239.4 L513.0 235.0 L515.0 228.0 L519.0 224.0 L525.0 222.0 L531.0 222.6 L539.0 223.0 L545.0 227.0 L551.0 233.0 L557.0 241.0 L561.0 249.0 L563.0 255.0 L569.0 262.0 L576.0 269.0 L577.0 277.0 L580.0 285.0 L584.0 292.0 L591.0 295.0 L599.0 298.0 L609.0 301.0 L619.0 303.0" fill="none" stroke="#97b6e1" stroke-width="1.8" stroke-linejoin="round"/>
<path d="M537.0 141.0 L543.0 147.0 L551.0 151.0 L558.0 155.0 L563.0 152.0 L568.0 149.0 L569.0 143.0 L575.0 140.6 L581.0 141.0 L589.0 147.0 L595.0 153.0 L601.0 157.0 L609.0 163.0 L613.0 169.0 L617.0 177.0 L622.0 185.0 L625.0 189.0" fill="none" stroke="#97b6e1" stroke-width="1.8" stroke-linejoin="round"/>
<path d="M467.0 389.0 L471.0 387.0 L479.0 386.0 L483.0 391.0 L489.0 397.0 L495.0 402.0 L503.0 402.0 L507.0 407.0 L510.0 413.0 L516.0 415.0 L516.0 419.0 L507.0 418.0" fill="none" stroke="#97b6e1" stroke-width="1.8" stroke-linejoin="round"/>
<path d="M561.0 380.0 L567.0 385.0 L571.0 389.0 L579.0 389.0 L585.0 387.0 L591.0 384.0 L599.0 382.0 L608.0 378.0" fill="none" stroke="#97b6e1" stroke-width="1.8" stroke-linejoin="round"/>
<path d="M297.0 136.0 L294.0 143.0 L296.0 149.0 L299.0 153.0 L297.6 158.0 L293.0 159.4" fill="none" stroke="#000" stroke-width="1.6"/>
<path d="M399.6 136.0 L399.6 189.4" fill="none" stroke="#000" stroke-width="1.6"/>
<path d="M444.0 174.6 L511.0 174.6 L511.0 136.0" fill="none" stroke="#000" stroke-width="1.6"/>
<path d="M253.0 163.0 L293.0 159.4 L292.0 165.0 L331.0 178.0 L363.0 189.4 L415.0 189.4 L415.0 179.6 L445.0 179.6 L446.0 180.0 L453.0 187.0 L461.0 194.0 L469.0 200.0 L475.0 204.0 L479.0 211.0 L480.0 219.0 L483.0 225.0 L491.0 231.0 L499.0 235.0 L508.0 239.4 L513.0 235.0 L515.0 228.0 L519.0 224.0 L525.0 222.0 L531.0 222.6 L539.0 223.0 L545.0 227.0 L551.0 233.0 L557.0 241.0 L561.0 249.0 L563.0 255.0 L569.0 262.0 L576.0 269.0 L577.0 277.0 L580.0 285.0 L584.0 292.0 L591.0 295.0 L599.0 298.0 L609.0 301.0 L619.0 303.0" fill="none" stroke="#000" stroke-width="1.7" stroke-dasharray="6.2 2.7"/>
<polygon points="148.0,130.8 140.5,145.8 155.5,145.8" fill="#9467bd" stroke="#000" stroke-width="1.50" stroke-linejoin="miter"/>
<polygon points="189.0,146.4 181.5,161.4 196.5,161.4" fill="#7f7f7f" stroke="#000" stroke-width="1.50" stroke-linejoin="miter"/>
<polygon points="244.0,149.2 236.5,164.2 251.5,164.2" fill="#e377c2" stroke="#000" stroke-width="1.50" stroke-linejoin="miter"/>
<polygon points="190.0,164.5 195.3,167.5 195.3,173.7 190.0,176.7 184.7,173.7 184.7,167.5" fill="#3f8fcb" stroke="#000" stroke-width="1.50" stroke-linejoin="miter"/>
<polygon points="123.4,168.3 128.7,171.3 128.7,177.5 123.4,180.5 118.1,177.5 118.1,171.3" fill="#ba96e2" stroke="#000" stroke-width="1.50" stroke-linejoin="miter"/>
<polygon points="109.4,178.3 114.7,181.3 114.7,187.5 109.4,190.5 104.1,187.5 104.1,181.3" fill="#ea8bd0" stroke="#000" stroke-width="1.50" stroke-linejoin="miter"/>
<polygon points="123.4,251.3 128.7,254.3 128.7,260.4 123.4,263.5 118.1,260.4 118.1,254.3" fill="#bcbd22" stroke="#000" stroke-width="1.50" stroke-linejoin="miter"/>
<circle cx="160.4" cy="253.4" r="6.10" fill="#f29b9b" stroke="#000" stroke-width="1.50"/>
<circle cx="111.4" cy="283.6" r="6.10" fill="#e377c2" stroke="#000" stroke-width="1.50"/>
<polygon points="161.0,279.9 166.8,284.1 164.6,290.9 157.4,290.9 155.2,284.1" fill="#9467bd" stroke="#000" stroke-width="1.50" stroke-linejoin="miter"/>
<circle cx="188.4" cy="283.6" r="6.10" fill="#c0897d" stroke="#000" stroke-width="1.50"/>
<polygon points="230.6,284.3 235.9,287.3 235.9,293.4 230.6,296.5 225.3,293.4 225.3,287.3" fill="#2ca02c" stroke="#000" stroke-width="1.50" stroke-linejoin="miter"/>
<polygon points="274.0,271.5 279.3,274.6 279.3,280.7 274.0,283.7 268.7,280.7 268.7,274.6" fill="#8c564b" stroke="#000" stroke-width="1.50" stroke-linejoin="miter"/>
<polygon points="292.6,298.5 297.9,301.6 297.9,307.7 292.6,310.7 287.3,307.7 287.3,301.6" fill="#94e394" stroke="#000" stroke-width="1.50" stroke-linejoin="miter"/>
<polygon points="203.0,330.9 208.8,335.1 206.6,341.9 199.4,341.9 197.2,335.1" fill="#d2b4f6" stroke="#000" stroke-width="1.50" stroke-linejoin="miter"/>
<polygon points="152.4,403.3 157.7,406.3 157.7,412.4 152.4,415.5 147.1,412.4 147.1,406.3" fill="#e04b4c" stroke="#000" stroke-width="1.50" stroke-linejoin="miter"/>
<polygon points="203.2,401.9 209.0,406.1 206.8,412.9 199.6,412.9 197.4,406.1" fill="#7f7f7f" stroke="#000" stroke-width="1.50" stroke-linejoin="miter"/>
<circle cx="192.2" cy="414.2" r="6.10" fill="#d62728" stroke="#000" stroke-width="1.50"/>
<polygon points="219.0,406.1 224.8,410.3 222.6,417.1 215.4,417.1 213.2,410.3" fill="#ffc994" stroke="#000" stroke-width="1.50" stroke-linejoin="miter"/>
<polygon points="256.0,424.9 261.8,429.1 259.6,435.9 252.4,435.9 250.2,429.1" fill="#e3bcbc" stroke="#000" stroke-width="1.50" stroke-linejoin="miter"/>
<polygon points="297.0,428.7 302.8,432.9 300.6,439.7 293.4,439.7 291.2,432.9" fill="#a5685c" stroke="#000" stroke-width="1.50" stroke-linejoin="miter"/>
<polygon points="308.0,443.9 313.8,448.1 311.6,454.9 304.4,454.9 302.2,448.1" fill="#e97275" stroke="#000" stroke-width="1.50" stroke-linejoin="miter"/>
<polygon points="248.0,472.9 253.8,477.1 251.6,483.9 244.4,483.9 242.2,477.1" fill="#44b845" stroke="#000" stroke-width="1.50" stroke-linejoin="miter"/>
<polygon points="213.0,496.9 218.8,501.1 216.6,507.9 209.4,507.9 207.2,501.1" fill="#f09edb" stroke="#000" stroke-width="1.50" stroke-linejoin="miter"/>
<circle cx="294.4" cy="529.4" r="6.10" fill="#6bcf6b" stroke="#000" stroke-width="1.50"/>
<circle cx="314.6" cy="560.4" r="6.10" fill="#a57bd0" stroke="#000" stroke-width="1.50"/>
<circle cx="306.4" cy="589.4" r="6.10" fill="#1f77b4" stroke="#000" stroke-width="1.50"/>
<polygon points="353.0,588.7 358.8,592.9 356.6,599.7 349.4,599.7 347.2,592.9" fill="#62a6da" stroke="#000" stroke-width="1.50" stroke-linejoin="miter"/>
<polygon points="110.4,553.1 115.7,556.2 115.7,562.2 110.4,565.3 105.1,562.2 105.1,556.2" fill="#c3abab" stroke="#000" stroke-width="1.50" stroke-linejoin="miter"/>
<circle cx="151.4" cy="569.4" r="6.10" fill="#ffe1c6" stroke="#000" stroke-width="1.50"/>
<circle cx="90.6" cy="642.4" r="6.10" fill="#a39a9a" stroke="#000" stroke-width="1.50"/>
<polygon points="470.0,433.2 462.5,448.2 477.5,448.2" fill="#ff7f0e" stroke="#000" stroke-width="1.50" stroke-linejoin="miter"/>
<polygon points="486.0,457.2 478.5,472.2 493.5,472.2" fill="#1f77b4" stroke="#000" stroke-width="1.50" stroke-linejoin="miter"/>
<polygon points="462.0,478.3 467.8,482.5 465.6,489.3 458.4,489.3 456.2,482.5" fill="#ff7f0e" stroke="#000" stroke-width="1.50" stroke-linejoin="miter"/>
<polygon points="389.4,506.5 394.7,509.6 394.7,515.6 389.4,518.7 384.1,515.6 384.1,509.6" fill="#c6e6fc" stroke="#000" stroke-width="1.50" stroke-linejoin="miter"/>
<circle cx="546.4" cy="503.0" r="6.10" fill="#fdc6c6" stroke="#000" stroke-width="1.50"/>
<polygon points="581.4,493.3 586.7,496.3 586.7,502.4 581.4,505.5 576.1,502.4 576.1,496.3" fill="#ffb163" stroke="#000" stroke-width="1.50" stroke-linejoin="miter"/>
<polygon points="590.0,530.2 582.5,545.2 597.5,545.2" fill="#d62728" stroke="#000" stroke-width="1.50" stroke-linejoin="miter"/>
<circle cx="468.4" cy="549.4" r="6.10" fill="#e2c8fc" stroke="#000" stroke-width="1.50"/>
<circle cx="470.4" cy="582.4" r="6.10" fill="#ff9838" stroke="#000" stroke-width="1.50"/>
<polygon points="377.4,583.3 382.7,586.4 382.7,592.4 377.4,595.5 372.1,592.4 372.1,586.4" fill="#fbc8c8" stroke="#000" stroke-width="1.50" stroke-linejoin="miter"/>
<polygon points="555.0,619.9 560.8,624.1 558.6,630.9 551.4,630.9 549.2,624.1" fill="#fdd0c6" stroke="#000" stroke-width="1.50" stroke-linejoin="miter"/>
<polygon points="410.4,633.1 415.7,636.2 415.7,642.2 410.4,645.3 405.1,642.2 405.1,636.2" fill="#e2aa9f" stroke="#000" stroke-width="1.50" stroke-linejoin="miter"/>
</g></g>
<clipPath id="clip2"><rect x="844.6" y="137.0" width="538.8" height="515.2"/></clipPath>
<g clip-path="url(#clip2)"><g transform="translate(760.0,0)">
<rect x="83.6" y="135.8" width="540.8" height="517.4" fill="#032333"/>
<path d="M70.0 120.0C165.8 28.3 549.2 28.3 645.0 120.0C740.8 211.7 740.8 578.3 645.0 670.0C549.2 761.7 165.8 761.7 70.0 670.0C-25.8 578.3 -25.8 211.7 70.0 120.0Z" fill="#1c3179"/>
<path d="M92.5 150.5C116.5 146.7 212.7 150.0 236.5 150.5C260.2 151.0 236.0 152.5 235.0 153.5C234.0 154.5 232.5 155.5 230.5 156.5C228.5 157.5 225.7 158.5 223.0 159.5C220.2 160.5 217.0 161.5 214.0 162.5C211.0 163.5 207.5 164.2 205.0 165.5C202.5 166.7 199.2 168.5 199.0 170.0C198.7 171.5 204.0 172.7 203.5 174.5C203.0 176.2 198.0 178.0 196.0 180.5C194.0 183.0 191.7 186.7 191.5 189.5C191.2 192.2 192.7 195.2 194.5 197.0C196.2 198.7 199.5 200.0 202.0 200.0C204.5 200.0 208.0 196.5 209.5 197.0C211.0 197.5 212.0 201.2 211.0 203.0C210.0 204.7 206.0 206.2 203.5 207.5C201.0 208.7 198.2 210.5 196.0 210.5C193.7 210.5 192.2 209.0 190.0 207.5C187.7 206.0 185.0 203.7 182.5 201.5C180.0 199.2 177.5 196.2 175.0 194.0C172.5 191.7 170.5 190.2 167.5 188.0C164.5 185.7 160.7 182.2 157.0 180.5C153.2 178.7 148.7 177.2 145.0 177.5C141.2 177.7 138.0 180.2 134.5 182.0C131.0 183.7 127.0 187.0 124.0 188.0C121.0 189.0 119.0 187.2 116.5 188.0C114.0 188.7 111.7 192.5 109.0 192.5C106.2 192.5 102.7 191.2 100.0 188.0C97.2 184.7 93.7 179.2 92.5 173.0C91.2 166.7 68.5 154.2 92.5 150.5Z" fill="#08294a"/>
<path d="M83.5 188.0C87.3 189.5 90.0 194.0 92.5 197.0C95.0 200.0 97.4 202.0 98.5 206.0C99.6 210.0 99.7 216.5 99.2 221.0C98.7 225.5 95.9 229.0 95.5 233.0C95.1 237.0 97.2 241.2 97.0 245.0C96.7 248.7 94.7 253.4 94.0 255.5C93.2 257.6 90.7 256.2 92.5 257.5C94.2 258.8 101.2 261.5 104.5 263.5C107.7 265.5 110.2 267.2 112.0 269.5C113.7 271.7 115.5 274.0 115.0 277.0C114.5 280.0 110.5 284.2 109.0 287.5C107.5 290.7 105.0 293.9 106.0 296.5C107.0 299.1 112.0 302.7 115.0 303.2C118.0 303.7 121.5 301.6 124.0 299.5C126.5 297.4 128.2 293.2 130.0 290.5C131.7 287.7 132.5 285.2 134.5 283.0C136.5 280.7 139.2 278.7 142.0 277.0C144.7 275.2 148.7 274.2 151.0 272.5C153.2 270.7 153.0 266.7 155.5 266.5C158.0 266.2 162.7 269.2 166.0 271.0C169.2 272.7 172.5 275.0 175.0 277.0C177.5 279.0 178.5 281.2 181.0 283.0C183.5 284.7 187.2 286.9 190.0 287.5C192.7 288.1 197.5 288.0 197.5 286.7C197.5 285.5 192.0 282.4 190.0 280.0C188.0 277.6 186.7 275.0 185.5 272.5C184.2 270.0 183.2 267.5 182.5 265.0C181.7 262.5 181.0 260.0 181.0 257.5C181.0 255.0 182.5 251.1 182.5 250.0C182.5 248.9 181.0 252.3 181.0 251.0C181.0 249.6 181.0 244.5 182.5 242.0C184.0 239.5 186.7 237.5 190.0 236.0C193.2 234.5 198.2 232.5 202.0 233.0C205.7 233.5 209.5 237.0 212.5 239.0C215.5 241.0 217.7 245.7 220.0 245.0C222.2 244.2 223.5 237.5 226.0 234.5C228.5 231.5 232.0 227.2 235.0 227.0C238.0 226.7 242.0 233.0 244.0 233.0C246.0 233.0 247.2 229.0 247.0 227.0C246.7 225.0 242.5 223.2 242.5 221.0C242.5 218.7 244.5 215.2 247.0 213.5C249.5 211.7 254.2 210.5 257.5 210.5C260.7 210.5 264.2 211.7 266.5 213.5C268.7 215.2 269.3 219.7 271.0 221.0C272.6 222.2 274.9 225.0 276.2 221.0C277.6 217.0 279.7 204.3 279.0 197.0C278.3 189.7 273.2 183.7 272.0 177.0C270.8 170.3 270.0 164.8 272.0 157.0C274.0 149.2 221.8 134.8 284.0 130.0C346.2 125.2 584.8 38.0 645.0 128.0C705.2 218.0 740.8 579.7 645.0 670.0C549.2 760.3 165.8 750.3 70.0 670.0C-25.8 589.7 67.7 268.3 70.0 188.0C72.3 107.7 79.8 186.5 83.5 188.0Z" fill="#41369a"/>
<path d="M83.5 382.0C87.5 381.7 90.7 380.0 94.0 380.5C97.2 381.0 100.0 384.0 103.0 385.0C106.0 386.0 108.7 387.0 112.0 386.5C115.2 386.0 119.0 383.5 122.5 382.0C126.0 380.5 131.5 379.2 133.0 377.5C134.5 375.7 133.5 373.0 131.5 371.5C129.5 370.0 124.1 369.7 121.0 368.5C117.9 367.2 114.0 366.0 112.7 364.0C111.5 362.0 111.9 359.2 113.5 356.5C115.1 353.7 119.2 350.2 122.5 347.5C125.7 344.7 129.7 341.7 133.0 340.0C136.2 338.2 139.5 338.0 142.0 337.0C144.5 336.0 146.7 333.7 148.0 334.0C149.2 334.2 150.0 336.7 149.5 338.5C149.0 340.2 144.5 342.7 145.0 344.5C145.5 346.2 150.0 347.2 152.5 349.0C155.0 350.7 157.6 353.2 160.0 355.0C162.4 356.7 164.7 359.7 166.7 359.5C168.7 359.2 170.6 356.2 172.0 353.5C173.4 350.7 173.7 346.7 175.0 343.0C176.2 339.2 178.2 334.5 179.5 331.0C180.7 327.5 180.7 325.0 182.5 322.0C184.2 319.0 187.2 316.0 190.0 313.0C192.7 310.0 196.2 305.9 199.0 304.0C201.7 302.1 203.0 302.2 206.5 301.7C210.0 301.2 215.2 301.0 220.0 301.0C224.7 301.0 233.5 302.7 235.0 301.7C236.5 300.7 231.5 297.4 229.0 295.0C226.5 292.6 222.2 290.2 220.0 287.5C217.7 284.7 215.5 281.5 215.5 278.5C215.5 275.5 218.0 272.2 220.0 269.5C222.0 266.7 225.3 263.7 227.5 262.0C229.6 260.2 232.5 258.2 232.7 259.0C233.0 259.7 229.8 263.7 229.0 266.5C228.1 269.2 227.0 273.2 227.5 275.5C228.0 277.7 230.2 280.0 232.0 280.0C233.7 280.0 235.5 277.2 238.0 275.5C240.5 273.7 243.7 271.1 247.0 269.5C250.2 267.9 254.0 266.2 257.5 265.7C261.0 265.2 265.0 265.9 268.0 266.5C271.0 267.1 273.5 269.7 275.5 269.5C277.5 269.2 278.5 266.1 280.0 265.0C281.5 263.9 281.3 262.1 284.5 262.7C287.6 263.4 293.4 270.0 299.0 269.0C304.6 268.0 317.2 262.3 318.0 257.0C318.8 251.7 309.4 243.7 304.0 237.0C298.6 230.3 289.8 223.7 285.6 217.0C281.4 210.3 281.3 203.7 279.0 197.0C276.7 190.3 273.2 183.7 272.0 177.0C270.8 170.3 270.0 164.8 272.0 157.0C274.0 149.2 221.8 134.8 284.0 130.0C346.2 125.2 584.8 38.0 645.0 128.0C705.2 218.0 740.8 579.7 645.0 670.0C549.2 760.3 165.8 718.0 70.0 670.0C-25.8 622.0 67.7 430.0 70.0 382.0C72.3 334.0 79.5 382.2 83.5 382.0Z" fill="#644197"/>
<path d="M83.5 399.0C87.5 398.4 90.5 395.7 94.0 395.2C97.5 394.7 101.5 394.9 104.5 396.0C107.5 397.1 109.5 400.2 112.0 402.0C114.5 403.7 117.7 404.2 119.5 406.5C121.2 408.7 121.7 412.7 122.5 415.5C123.2 418.2 123.2 422.7 124.0 423.0C124.7 423.2 126.2 419.5 127.0 417.0C127.7 414.5 127.2 410.5 128.5 408.0C129.7 405.5 131.7 404.0 134.5 402.0C137.2 400.0 142.0 397.7 145.0 396.0C148.0 394.2 150.7 392.5 152.5 391.5C154.2 390.5 154.6 391.1 155.5 390.0C156.4 388.9 155.5 386.6 157.7 385.0C160.0 383.4 165.1 381.5 169.0 380.5C172.9 379.5 177.2 380.2 181.0 379.0C184.7 377.7 188.9 375.2 191.5 373.0C194.1 370.7 197.0 369.7 196.7 365.5C196.5 361.2 189.6 349.2 190.0 347.5C190.4 345.7 196.5 354.2 199.0 355.0C201.5 355.7 204.0 351.0 205.0 352.0C206.0 353.0 203.7 359.7 205.0 361.0C206.2 362.2 210.0 359.4 212.5 359.5C215.0 359.6 217.2 360.5 220.0 361.7C222.7 363.0 226.2 366.1 229.0 367.0C231.7 367.9 234.0 368.0 236.5 367.0C239.0 366.0 242.0 363.0 244.0 361.0C246.0 359.0 247.5 357.0 248.5 355.0C249.5 353.0 248.5 351.0 250.0 349.0C251.5 347.0 255.0 344.5 257.5 343.0C260.0 341.5 263.0 341.5 265.0 340.0C267.0 338.5 269.5 336.0 269.5 334.0C269.5 332.0 267.0 330.0 265.0 328.0C263.0 326.0 260.2 323.5 257.5 322.0C254.7 320.5 251.2 319.2 248.5 319.0C245.7 318.7 241.7 321.0 241.0 320.5C240.2 320.0 241.7 317.0 244.0 316.0C246.2 315.0 251.0 314.2 254.5 314.5C258.0 314.7 261.7 316.0 265.0 317.5C268.2 319.0 271.5 321.2 274.0 323.5C276.5 325.7 278.0 329.2 280.0 331.0C282.0 332.7 283.7 334.5 286.0 334.0C288.2 333.5 292.0 330.2 293.5 328.0C295.0 325.7 296.0 322.7 295.0 320.5C294.0 318.2 290.5 316.2 287.5 314.5C284.5 312.7 279.0 312.0 277.0 310.0C275.0 308.0 275.5 305.0 275.5 302.5C275.5 300.0 276.5 297.5 277.0 295.0C277.5 292.5 277.2 289.2 278.5 287.5C279.7 285.7 284.2 285.7 284.5 284.5C284.7 283.2 280.2 282.0 280.0 280.0C279.7 278.0 281.0 274.5 283.0 272.5C285.0 270.5 289.3 268.4 292.0 268.0C294.7 267.6 294.7 271.8 299.0 270.0C303.3 268.2 317.2 262.5 318.0 257.0C318.8 251.5 309.4 243.7 304.0 237.0C298.6 230.3 289.8 223.7 285.6 217.0C281.4 210.3 281.3 203.7 279.0 197.0C276.7 190.3 273.2 183.7 272.0 177.0C270.8 170.3 270.0 164.8 272.0 157.0C274.0 149.2 221.8 134.8 284.0 130.0C346.2 125.2 584.8 38.0 645.0 128.0C705.2 218.0 740.8 579.7 645.0 670.0C549.2 760.3 165.8 715.2 70.0 670.0C-25.8 624.8 67.7 444.2 70.0 399.0C72.3 353.8 79.5 399.6 83.5 399.0Z" fill="#824f8e"/>
<path d="M83.5 439.5C87.3 439.0 89.7 437.2 92.5 436.5C95.2 435.7 97.5 435.0 100.0 435.0C102.5 435.0 105.0 435.7 107.5 436.5C110.0 437.2 112.7 438.6 115.0 439.5C117.2 440.4 118.7 442.2 121.0 441.7C123.2 441.2 126.7 438.9 128.5 436.5C130.2 434.1 130.5 430.2 131.5 427.5C132.5 424.7 133.7 422.7 134.5 420.0C135.2 417.2 134.7 413.5 136.0 411.0C137.2 408.5 139.5 406.5 142.0 405.0C144.5 403.5 147.5 402.2 151.0 402.0C154.5 401.7 161.2 401.7 163.0 403.5C164.7 405.2 161.5 409.5 161.5 412.5C161.5 415.5 161.7 420.2 163.0 421.5C164.2 422.7 166.5 421.0 169.0 420.0C171.5 419.0 176.0 417.5 178.0 415.5C180.0 413.5 180.0 410.0 181.0 408.0C182.0 406.0 182.0 404.5 184.0 403.5C186.0 402.5 190.0 402.5 193.0 402.0C196.0 401.5 199.0 400.5 202.0 400.5C205.0 400.5 208.0 402.0 211.0 402.0C214.0 402.0 217.0 401.2 220.0 400.5C223.0 399.7 226.2 397.7 229.0 397.5C231.7 397.2 234.5 398.2 236.5 399.0C238.5 399.7 240.1 402.2 241.0 402.0C241.8 401.7 242.7 399.0 241.7 397.5C240.7 396.0 236.8 394.2 235.0 393.0C233.1 391.7 231.1 390.8 230.5 390.0C229.8 389.2 230.5 389.6 231.2 388.0C232.0 386.4 232.8 382.7 235.0 380.5C237.1 378.2 241.5 376.7 244.0 374.5C246.5 372.2 248.2 369.7 250.0 367.0C251.7 364.2 252.5 360.5 254.5 358.0C256.5 355.5 259.5 354.0 262.0 352.0C264.5 350.0 266.7 348.0 269.5 346.0C272.2 344.0 275.7 341.0 278.5 340.0C281.2 339.0 284.2 339.0 286.0 340.0C287.7 341.0 289.2 344.0 289.0 346.0C288.7 348.0 284.0 350.5 284.5 352.0C285.0 353.5 289.7 356.0 292.0 355.0C294.2 354.0 296.7 349.0 298.0 346.0C299.2 343.0 299.5 340.5 299.5 337.0C299.5 333.5 297.7 328.5 298.0 325.0C298.2 321.5 301.5 318.5 301.0 316.0C300.5 313.5 297.5 311.5 295.0 310.0C292.5 308.5 288.5 308.7 286.0 307.0C283.5 305.2 281.2 301.7 280.0 299.5C278.7 297.2 278.0 295.5 278.5 293.5C278.9 291.5 280.8 290.2 282.5 287.5C284.2 284.7 286.9 280.0 288.5 277.0C290.1 274.0 290.2 270.5 292.2 269.5C294.3 268.5 296.7 273.1 301.0 271.0C305.3 268.9 317.5 262.7 318.0 257.0C318.5 251.3 309.4 243.7 304.0 237.0C298.6 230.3 289.8 223.7 285.6 217.0C281.4 210.3 281.3 203.7 279.0 197.0C276.7 190.3 273.2 183.7 272.0 177.0C270.8 170.3 270.0 164.8 272.0 157.0C274.0 149.2 221.8 134.8 284.0 130.0C346.2 125.2 584.8 38.0 645.0 128.0C705.2 218.0 740.8 579.7 645.0 670.0C549.2 760.3 165.8 708.4 70.0 670.0C-25.8 631.6 67.7 477.9 70.0 439.5C72.3 401.1 79.8 440.0 83.5 439.5Z" fill="#a05a86"/>
<path d="M83.5 474.0C87.5 474.2 91.0 476.0 94.0 475.5C97.0 475.0 98.7 472.0 101.5 471.0C104.2 470.0 107.5 469.0 110.5 469.5C113.5 470.0 116.5 473.0 119.5 474.0C122.5 475.0 126.6 476.7 128.5 475.5C130.4 474.2 131.7 469.0 130.7 466.5C129.7 464.0 124.2 463.0 122.5 460.5C120.7 458.0 119.7 454.0 120.2 451.5C120.7 449.0 123.1 447.5 125.5 445.5C127.9 443.5 132.0 442.5 134.5 439.5C137.0 436.5 139.2 430.7 140.5 427.5C141.7 424.2 140.5 421.7 142.0 420.0C143.5 418.2 147.2 417.0 149.5 417.0C151.7 417.0 155.7 418.5 155.5 420.0C155.2 421.5 149.0 424.5 148.0 426.0C147.0 427.5 147.5 428.5 149.5 429.0C151.5 429.5 156.7 428.2 160.0 429.0C163.2 429.7 166.0 431.7 169.0 433.5C172.0 435.2 175.0 438.2 178.0 439.5C181.0 440.7 184.7 441.7 187.0 441.0C189.2 440.2 190.5 437.5 191.5 435.0C192.5 432.5 191.5 428.2 193.0 426.0C194.5 423.7 197.7 422.5 200.5 421.5C203.2 420.5 207.5 419.5 209.5 420.0C211.5 420.5 211.2 424.7 212.5 424.5C213.7 424.2 214.5 419.2 217.0 418.5C219.5 417.7 224.2 419.5 227.5 420.0C230.7 420.5 233.7 422.2 236.5 421.5C239.2 420.7 241.2 418.0 244.0 415.5C246.7 413.0 250.0 408.5 253.0 406.5C256.0 404.5 258.5 404.7 262.0 403.5C265.5 402.2 270.5 401.2 274.0 399.0C277.5 396.7 280.0 387.3 283.0 390.0C285.9 392.7 290.3 411.3 291.5 415.0C292.7 418.6 291.1 414.5 290.0 412.0C288.9 409.5 286.0 404.2 284.7 400.0C283.5 395.7 282.4 390.2 282.5 386.5C282.6 382.7 284.2 380.5 285.5 377.5C286.7 374.5 288.0 371.4 290.0 368.5C292.0 365.6 296.4 361.9 297.5 360.2C298.6 358.6 299.2 359.1 296.7 358.7C294.2 358.4 284.5 358.6 282.5 358.0C280.5 357.4 282.2 356.2 284.7 355.0C287.2 353.7 294.1 351.2 297.5 350.5C300.9 349.7 302.6 349.5 305.0 350.5C307.4 351.5 310.0 356.4 311.7 356.5C313.5 356.6 314.5 353.2 315.5 351.2C316.5 349.2 317.2 346.4 317.7 344.5C318.2 342.6 318.6 341.3 318.5 340.0C318.3 338.7 319.0 339.5 317.0 337.0C315.0 334.5 307.0 329.0 306.5 325.0C306.0 321.0 313.7 317.2 314.0 313.0C314.2 308.7 310.7 303.2 308.0 299.5C305.2 295.7 299.0 294.2 297.5 290.5C296.0 286.7 297.6 279.6 299.0 277.0C300.4 274.4 302.8 278.3 306.0 275.0C309.2 271.7 318.3 263.3 318.0 257.0C317.7 250.7 309.4 243.7 304.0 237.0C298.6 230.3 289.8 223.7 285.6 217.0C281.4 210.3 281.3 203.7 279.0 197.0C276.7 190.3 273.2 183.7 272.0 177.0C270.8 170.3 270.0 164.8 272.0 157.0C274.0 149.2 221.8 134.8 284.0 130.0C346.2 125.2 584.8 38.0 645.0 128.0C705.2 218.0 740.8 579.7 645.0 670.0C549.2 760.3 165.8 702.7 70.0 670.0C-25.8 637.3 67.7 506.7 70.0 474.0C72.3 441.3 79.5 473.7 83.5 474.0Z" fill="#c0647a"/>
<path d="M83.5 481.5C87.5 481.2 90.5 480.2 94.0 480.0C97.5 479.7 101.2 479.5 104.5 480.0C107.7 480.5 110.7 481.5 113.5 483.0C116.2 484.5 119.2 487.2 121.0 489.0C122.7 490.7 122.7 494.0 124.0 493.5C125.2 493.0 127.5 489.2 128.5 486.0C129.5 482.7 129.2 478.0 130.0 474.0C130.7 470.0 132.6 465.5 133.0 462.0C133.4 458.5 131.7 455.2 132.2 453.0C132.7 450.7 133.4 449.0 136.0 448.5C138.6 448.0 144.0 449.5 148.0 450.0C152.0 450.5 157.0 450.5 160.0 451.5C163.0 452.5 164.6 453.7 166.0 456.0C167.4 458.2 167.7 461.2 168.2 465.0C168.7 468.7 168.1 475.5 169.0 478.5C169.9 481.5 171.5 481.7 173.5 483.0C175.5 484.2 178.5 486.0 181.0 486.0C183.5 486.0 187.5 484.7 188.5 483.0C189.5 481.2 187.0 478.7 187.0 475.5C187.0 472.2 187.7 466.7 188.5 463.5C189.2 460.2 189.7 458.2 191.5 456.0C193.2 453.7 196.2 451.7 199.0 450.0C201.7 448.2 205.5 446.5 208.0 445.5C210.5 444.5 212.0 443.7 214.0 444.0C216.0 444.2 218.2 446.1 220.0 447.0C221.7 447.9 222.0 449.5 224.5 449.2C227.0 449.0 232.7 447.4 235.0 445.5C237.2 443.6 236.5 440.0 238.0 438.0C239.5 436.0 242.0 434.7 244.0 433.5C246.0 432.2 247.5 430.5 250.0 430.5C252.5 430.5 255.7 433.0 259.0 433.5C262.2 434.0 266.0 433.7 269.5 433.5C273.0 433.2 276.5 432.0 280.0 432.0C283.5 432.0 287.5 432.5 290.5 433.5C293.5 434.5 295.5 436.7 298.0 438.0C300.4 439.2 303.8 440.7 305.0 441.0C306.2 441.2 303.7 440.2 305.0 439.5C306.2 438.7 310.4 438.2 312.5 436.5C314.6 434.7 316.4 431.7 317.7 429.0C319.1 426.2 319.5 423.0 320.7 420.0C322.0 417.0 324.4 414.0 325.2 411.0C326.1 408.0 326.9 404.0 326.0 402.0C325.1 400.0 322.2 398.5 320.0 399.0C317.7 399.5 314.7 402.2 312.5 405.0C310.2 407.7 308.5 414.7 306.5 415.5C304.5 416.3 302.5 412.3 300.5 409.7C298.5 407.1 295.6 402.8 294.5 400.0C293.4 397.1 293.0 394.6 293.7 392.5C294.5 390.3 296.6 389.0 299.0 387.2C301.4 385.5 305.2 384.9 308.0 382.0C310.7 379.1 313.5 371.7 315.5 370.0C317.5 368.2 319.3 372.7 320.0 371.5C320.6 370.2 319.6 365.9 319.2 362.5C318.8 359.1 317.7 355.0 317.7 351.2C317.7 347.5 318.8 343.9 319.2 340.0C319.6 336.1 319.1 332.0 320.0 328.0C320.9 324.0 323.5 320.0 324.5 316.0C325.5 312.0 326.2 307.5 326.0 304.0C325.7 300.5 324.7 297.2 323.0 295.0C321.2 292.7 317.7 292.4 315.5 290.5C313.2 288.6 310.1 286.0 309.5 283.7C308.9 281.5 310.6 281.5 312.0 277.0C313.4 272.5 319.3 263.7 318.0 257.0C316.7 250.3 309.4 243.7 304.0 237.0C298.6 230.3 289.8 223.7 285.6 217.0C281.4 210.3 281.3 203.7 279.0 197.0C276.7 190.3 273.2 183.7 272.0 177.0C270.8 170.3 270.0 164.8 272.0 157.0C274.0 149.2 221.8 134.8 284.0 130.0C346.2 125.2 584.8 38.0 645.0 128.0C705.2 218.0 740.8 579.7 645.0 670.0C549.2 760.3 165.8 701.4 70.0 670.0C-25.8 638.6 67.7 512.9 70.0 481.5C72.3 450.1 79.5 481.7 83.5 481.5Z" fill="#dd6f64"/>
<path d="M626.0 638.0C620.8 638.2 618.0 639.5 614.0 639.5C610.0 639.5 606.5 638.2 602.0 638.0C597.5 637.7 592.0 638.2 587.0 638.0C582.0 637.7 576.5 637.5 572.0 636.5C567.5 635.5 563.0 634.0 560.0 632.0C557.0 630.0 556.2 627.2 554.0 624.5C551.7 621.7 548.2 618.7 546.5 615.5C544.7 612.2 544.0 608.2 543.5 605.0C543.0 601.7 542.7 599.0 543.5 596.0C544.2 593.0 545.7 589.5 548.0 587.0C550.2 584.5 553.5 582.5 557.0 581.0C560.5 579.5 565.5 579.0 569.0 578.0C572.5 577.0 576.0 577.0 578.0 575.0C580.0 573.0 581.0 568.5 581.0 566.0C581.0 563.5 580.2 562.7 578.0 560.0C575.7 557.2 570.2 551.5 567.5 549.5C564.7 547.5 561.7 547.5 561.5 548.0C561.2 548.5 564.0 550.7 566.0 552.5C568.0 554.2 571.7 556.7 573.5 558.5C575.2 560.2 576.5 561.0 576.5 563.0C576.5 565.0 576.0 568.7 573.5 570.5C571.0 572.2 565.5 572.7 561.5 573.5C557.5 574.2 553.5 574.0 549.5 575.0C545.5 576.0 541.2 577.7 537.5 579.5C533.7 581.2 530.2 583.2 527.0 585.5C523.7 587.7 520.5 589.7 518.0 593.0C515.5 596.2 514.5 602.0 512.0 605.0C509.5 608.0 505.5 609.0 503.0 611.0C500.5 613.0 497.7 615.0 497.0 617.0C496.2 619.0 498.0 621.0 498.5 623.0C499.0 625.0 501.7 628.2 500.0 629.0C498.2 629.7 492.0 627.7 488.0 627.5C484.0 627.2 479.0 626.7 476.0 627.5C473.0 628.2 473.0 630.7 470.0 632.0C467.0 633.2 462.0 633.7 458.0 635.0C454.0 636.2 450.0 639.7 446.0 639.5C442.0 639.2 438.0 635.2 434.0 633.5C430.0 631.7 426.0 630.0 422.0 629.0C418.0 628.0 412.5 628.0 410.0 627.5C407.5 627.0 409.5 626.5 407.0 626.0C404.5 625.5 398.7 624.6 395.0 624.5C391.2 624.4 387.0 625.7 384.5 625.2C382.0 624.7 381.7 623.4 380.0 621.5C378.2 619.6 375.2 616.7 374.0 614.0C372.7 611.2 373.0 607.7 372.5 605.0C372.0 602.2 370.2 599.0 371.0 597.5C371.7 596.0 375.0 598.0 377.0 596.0C379.0 594.0 382.5 588.5 383.0 585.5C383.5 582.5 381.5 580.2 380.0 578.0C378.5 575.7 376.5 574.0 374.0 572.0C371.5 570.0 368.0 567.5 365.0 566.0C362.0 564.5 359.0 564.2 356.0 563.0C353.0 561.7 350.0 560.5 347.0 558.5C344.0 556.5 341.0 553.2 338.0 551.0C335.0 548.7 331.7 546.7 329.0 545.0C326.2 543.2 324.2 541.2 321.5 540.5C318.7 539.7 315.2 540.0 312.5 540.5C309.7 541.0 307.7 542.0 305.0 543.5C302.2 545.0 298.5 546.5 296.0 549.5C293.5 552.5 292.7 559.5 290.0 561.5C287.2 563.5 283.0 562.0 279.5 561.5C276.0 561.0 272.2 559.1 269.0 558.5C265.7 557.9 263.2 558.0 260.0 557.7C256.8 557.5 253.4 556.9 250.0 557.0C246.5 557.1 242.2 557.7 239.5 558.5C236.7 559.2 235.7 560.7 233.5 561.5C231.2 562.2 228.2 564.0 226.0 563.0C223.7 562.0 222.0 557.7 220.0 555.5C218.0 553.2 216.7 550.5 214.0 549.5C211.2 548.5 207.0 550.5 203.5 549.5C200.0 548.5 196.2 545.7 193.0 543.5C189.7 541.2 186.6 537.9 184.0 536.0C181.4 534.1 178.1 531.5 177.2 532.2C176.4 533.0 179.4 539.4 178.7 540.5C178.1 541.6 175.6 540.0 173.5 539.0C171.4 538.0 168.5 535.0 166.0 534.5C163.5 534.0 160.5 535.0 158.5 536.0C156.5 537.0 155.7 538.7 154.0 540.5C152.2 542.2 150.0 545.5 148.0 546.5C146.0 547.5 142.5 547.7 142.0 546.5C141.5 545.2 145.0 541.0 145.0 539.0C145.0 537.0 143.4 536.0 142.0 534.5C140.6 533.0 137.2 531.7 136.7 530.0C136.2 528.2 137.9 526.5 139.0 524.0C140.1 521.5 141.5 517.2 143.5 515.0C145.5 512.7 148.5 512.2 151.0 510.5C153.5 508.7 157.2 505.6 158.5 504.5C159.7 503.4 157.2 504.7 158.5 504.0C159.7 503.3 162.7 500.7 166.0 500.2C169.2 499.7 174.0 500.1 178.0 501.0C182.0 501.9 186.5 504.2 190.0 505.5C193.5 506.7 195.7 508.0 199.0 508.5C202.2 509.0 205.2 509.0 209.5 508.5C213.7 508.0 220.2 506.7 224.5 505.5C228.7 504.2 231.7 502.7 235.0 501.0C238.2 499.2 241.7 496.5 244.0 495.0C246.2 493.5 247.5 493.5 248.5 492.0C249.5 490.5 249.0 489.0 250.0 486.0C251.0 483.0 253.2 477.5 254.5 474.0C255.7 470.5 255.7 467.2 257.5 465.0C259.2 462.7 262.2 461.0 265.0 460.5C267.7 460.0 271.7 460.7 274.0 462.0C276.2 463.2 278.0 465.0 278.5 468.0C279.0 471.0 277.5 476.7 277.0 480.0C276.5 483.2 275.0 485.5 275.5 487.5C276.0 489.5 278.0 490.5 280.0 492.0C282.0 493.5 286.0 497.2 287.5 496.5C289.0 495.7 288.0 490.5 289.0 487.5C290.0 484.5 293.2 481.5 293.5 478.5C293.7 475.5 292.0 472.5 290.5 469.5C289.0 466.5 287.2 463.0 284.5 460.5C281.7 458.0 277.5 456.0 274.0 454.5C270.5 453.0 266.7 452.0 263.5 451.5C260.2 451.0 256.5 452.2 254.5 451.5C252.5 450.7 251.5 448.7 251.5 447.0C251.5 445.2 252.2 442.2 254.5 441.0C256.7 439.7 261.7 439.0 265.0 439.5C268.2 440.0 271.3 441.7 274.0 444.0C276.6 446.2 278.3 451.2 281.0 453.0C283.7 454.7 286.5 454.0 290.0 454.5C293.5 455.0 298.5 455.5 302.0 456.0C305.5 456.5 308.0 456.2 311.0 457.5C314.0 458.7 317.2 461.7 320.0 463.5C322.7 465.2 325.0 467.2 327.5 468.0C330.0 468.7 333.2 470.0 335.0 468.0C336.7 466.0 338.5 459.5 338.0 456.0C337.5 452.5 335.0 449.7 332.0 447.0C329.0 444.2 322.0 442.7 320.0 439.5C318.0 436.2 319.2 430.7 320.0 427.5C320.7 424.2 322.7 422.5 324.5 420.0C326.2 417.5 329.0 415.8 330.5 412.5C332.0 409.2 332.7 403.6 333.5 400.0C334.2 396.4 333.5 393.0 335.0 391.0C336.5 389.0 340.3 389.0 342.5 388.0C344.6 387.0 347.1 386.4 347.7 385.0C348.3 383.6 348.3 380.2 346.2 379.7C344.1 379.2 337.7 382.6 335.0 382.0C332.2 381.4 331.2 378.0 329.7 376.0C328.2 374.0 327.3 372.9 326.0 370.0C324.6 367.1 322.5 362.2 321.5 358.7C320.5 355.2 319.6 352.1 320.0 349.0C320.3 345.9 322.7 342.0 323.7 340.0C324.7 338.0 325.4 339.5 326.0 337.0C326.6 334.5 326.7 329.0 327.5 325.0C328.2 321.0 329.7 316.7 330.5 313.0C331.2 309.2 331.7 305.6 332.0 302.5C332.2 299.4 331.5 295.3 332.0 294.2C332.5 293.2 335.8 298.4 335.0 296.0C334.2 293.6 329.8 286.5 327.0 280.0C324.2 273.5 321.8 264.2 318.0 257.0C314.2 249.8 309.4 243.7 304.0 237.0C298.6 230.3 289.8 223.7 285.6 217.0C281.4 210.3 281.3 203.7 279.0 197.0C276.7 190.3 273.2 183.7 272.0 177.0C270.8 170.3 270.0 164.8 272.0 157.0C274.0 149.2 221.8 134.8 284.0 130.0C346.2 125.2 584.8 43.3 645.0 128.0C705.2 212.7 648.2 553.0 645.0 638.0C641.8 723.0 631.1 637.7 626.0 638.0Z" fill="#f2864b"/>
<path d="M626.0 614.0C622.3 614.0 625.3 613.7 623.3 614.0C621.3 614.2 617.3 614.7 614.0 615.5C610.7 616.2 606.5 617.0 603.5 618.5C600.5 620.0 599.2 623.0 596.0 624.5C592.7 626.0 588.0 627.5 584.0 627.5C580.0 627.5 575.5 625.7 572.0 624.5C568.5 623.2 565.5 622.0 563.0 620.0C560.5 618.0 558.5 615.2 557.0 612.5C555.5 609.7 553.7 606.5 554.0 603.5C554.2 600.5 556.5 597.0 558.5 594.5C560.5 592.0 563.0 590.5 566.0 588.5C569.0 586.5 573.5 584.5 576.5 582.5C579.5 580.5 582.5 579.0 584.0 576.5C585.5 574.0 585.7 570.5 585.5 567.5C585.2 564.5 584.2 561.0 582.5 558.5C580.7 556.0 577.7 554.7 575.0 552.5C572.2 550.2 569.0 547.7 566.0 545.0C563.0 542.2 559.7 539.2 557.0 536.0C554.2 532.7 551.7 528.5 549.5 525.5C547.2 522.5 545.2 518.5 543.5 518.0C541.7 517.5 539.5 520.5 539.0 522.5C538.5 524.5 539.5 527.2 540.5 530.0C541.5 532.7 543.2 536.0 545.0 539.0C546.7 542.0 550.2 545.2 551.0 548.0C551.7 550.7 550.5 553.0 549.5 555.5C548.5 558.0 546.7 560.7 545.0 563.0C543.2 565.2 541.5 567.0 539.0 569.0C536.5 571.0 533.5 573.2 530.0 575.0C526.5 576.7 522.0 578.0 518.0 579.5C514.0 581.0 509.5 583.7 506.0 584.0C502.5 584.2 498.7 583.0 497.0 581.0C495.2 579.0 497.0 574.7 495.5 572.0C494.0 569.2 490.5 566.5 488.0 564.5C485.5 562.5 482.7 559.7 480.5 560.0C478.2 560.2 477.2 564.0 474.5 566.0C471.7 568.0 467.7 570.7 464.0 572.0C460.2 573.2 456.0 573.7 452.0 573.5C448.0 573.2 443.7 572.0 440.0 570.5C436.2 569.0 433.0 566.4 429.5 564.5C426.0 562.6 422.2 560.0 419.0 559.2C415.7 558.5 412.5 559.1 410.0 560.0C407.5 560.9 406.0 562.9 404.0 564.5C402.0 566.1 400.0 569.5 398.0 569.7C396.0 570.0 394.0 567.9 392.0 566.0C390.0 564.1 387.7 561.5 386.0 558.5C384.2 555.5 382.7 551.2 381.5 548.0C380.2 544.7 379.5 542.0 378.5 539.0C377.5 536.0 376.7 532.7 375.5 530.0C374.2 527.2 372.0 523.8 371.0 522.5C370.0 521.2 369.5 523.1 369.5 522.0C369.5 520.9 369.7 518.2 371.0 516.0C372.2 513.7 375.0 510.7 377.0 508.5C379.0 506.2 380.5 504.2 383.0 502.5C385.5 500.7 389.2 499.7 392.0 498.0C394.7 496.2 398.0 495.0 399.5 492.0C401.0 489.0 401.2 483.5 401.0 480.0C400.7 476.5 399.2 474.0 398.0 471.0C396.7 468.0 394.0 465.0 393.5 462.0C393.0 459.0 393.5 455.7 395.0 453.0C396.5 450.2 399.5 447.2 402.5 445.5C405.5 443.7 409.8 442.5 413.0 442.5C416.1 442.5 419.6 446.2 421.2 445.5C422.8 444.7 423.1 440.5 422.7 438.0C422.3 435.5 421.1 432.5 419.0 430.5C416.8 428.5 414.0 426.7 410.0 426.0C406.0 425.2 399.2 425.2 395.0 426.0C390.7 426.7 387.2 428.2 384.5 430.5C381.7 432.7 380.2 436.5 378.5 439.5C376.7 442.5 376.2 447.0 374.0 448.5C371.7 450.0 367.5 450.0 365.0 448.5C362.5 447.0 359.5 441.7 359.0 439.5C358.5 437.2 360.0 437.0 362.0 435.0C364.0 433.0 368.7 430.5 371.0 427.5C373.2 424.5 376.0 420.2 375.5 417.0C375.0 413.7 370.5 411.0 368.0 408.0C365.5 405.0 361.0 402.3 360.5 399.0C360.0 395.7 363.2 391.3 365.0 388.0C366.7 384.6 368.7 381.7 371.0 379.0C373.2 376.2 378.2 374.0 378.5 371.5C378.7 369.0 374.7 367.0 372.5 364.0C370.2 361.0 367.7 356.2 365.0 353.5C362.2 350.7 359.5 348.6 356.0 347.5C352.5 346.4 347.7 346.7 344.0 346.7C340.2 346.7 335.0 348.6 333.5 347.5C332.0 346.4 333.6 343.1 335.0 340.0C336.4 336.9 339.4 331.7 341.7 328.7C344.1 325.7 347.1 324.5 349.0 322.0C350.9 319.5 353.7 318.2 353.0 314.0C352.3 309.8 349.3 302.7 345.0 297.0C340.7 291.3 331.5 286.7 327.0 280.0C322.5 273.3 321.8 264.2 318.0 257.0C314.2 249.8 309.4 243.7 304.0 237.0C298.6 230.3 289.8 223.7 285.6 217.0C281.4 210.3 281.3 203.7 279.0 197.0C276.7 190.3 273.2 183.7 272.0 177.0C270.8 170.3 270.0 164.8 272.0 157.0C274.0 149.2 221.8 134.8 284.0 130.0C346.2 125.2 584.8 47.3 645.0 128.0C705.2 208.7 648.2 533.0 645.0 614.0C641.8 695.0 629.6 614.0 626.0 614.0Z" fill="#faa33f"/>
<path d="M369.5 346.0C368.3 346.6 364.2 346.7 365.0 349.0C365.7 351.2 370.7 356.2 374.0 359.5C377.2 362.7 381.5 366.9 384.5 368.5C387.5 370.1 389.5 369.7 392.0 369.2C394.5 368.7 396.5 366.4 399.5 365.5C402.5 364.6 407.0 363.2 410.0 364.0C413.0 364.7 415.7 367.5 417.5 370.0C419.2 372.5 419.7 376.0 420.5 379.0C421.2 382.0 421.0 385.2 422.0 388.0C423.0 390.7 424.7 393.5 426.5 395.5C428.2 397.5 434.0 400.9 432.5 400.0C431.0 399.1 417.7 389.2 417.5 390.0C417.3 390.8 425.7 400.7 431.0 405.0C436.2 409.2 446.7 412.0 449.0 415.5C451.2 419.0 447.2 423.0 444.5 426.0C441.7 429.0 434.2 430.5 432.5 433.5C430.7 436.5 432.7 440.7 434.0 444.0C435.2 447.2 437.0 450.2 440.0 453.0C443.0 455.7 446.5 458.5 452.0 460.5C457.5 462.5 469.2 461.5 473.0 465.0C476.7 468.5 471.0 479.0 474.5 481.5C478.0 484.0 487.2 478.2 494.0 480.0C500.7 481.7 510.0 489.5 515.0 492.0C520.0 494.5 520.5 494.7 524.0 495.0C527.5 495.2 532.5 494.7 536.0 493.5C539.5 492.2 540.5 488.2 545.0 487.5C549.5 486.7 558.0 488.7 563.0 489.0C568.0 489.2 570.5 488.8 575.0 489.0C579.5 489.2 587.5 491.7 590.0 490.2C592.5 488.7 588.3 511.7 590.0 480.0C591.6 448.3 628.3 355.0 600.0 300.0C571.7 245.0 470.0 172.5 420.0 150.0C370.0 127.5 323.5 157.2 300.0 165.0C276.5 172.8 281.4 188.3 279.0 197.0C276.6 205.7 281.4 210.3 285.6 217.0C289.8 223.7 298.6 230.3 304.0 237.0C309.4 243.7 314.2 249.8 318.0 257.0C321.8 264.2 322.5 273.3 327.0 280.0C331.5 286.7 340.7 291.3 345.0 297.0C349.3 302.7 350.2 307.7 353.0 314.0C355.8 320.3 358.8 329.8 362.0 335.0C365.2 340.2 370.8 343.2 372.0 345.0C373.2 346.8 370.6 345.3 369.5 346.0Z" fill="#f8c542"/>
<path d="M292.0 183.0C292.7 182.2 295.7 183.7 297.0 185.0C298.3 186.3 300.2 189.3 300.0 191.0C299.8 192.7 297.2 195.2 296.0 195.0C294.8 194.8 293.7 192.0 293.0 190.0C292.3 188.0 291.3 183.8 292.0 183.0Z" fill="#e7fa5a"/>
<path d="M351.0 265.0C352.3 263.7 358.0 265.3 361.0 267.0C364.0 268.7 366.7 272.0 369.0 275.0C371.3 278.0 373.5 281.3 375.0 285.0C376.5 288.7 379.0 295.3 378.0 297.0C377.0 298.7 371.8 297.0 369.0 295.0C366.2 293.0 363.7 288.3 361.0 285.0C358.3 281.7 354.7 278.3 353.0 275.0C351.3 271.7 349.7 266.3 351.0 265.0Z" fill="#e7fa5a"/>
<path d="M350.0 268.0C350.5 266.7 356.0 267.0 359.0 266.5C362.0 266.0 366.0 263.7 368.0 265.0C370.0 266.2 369.5 271.7 371.0 274.0C372.5 276.2 374.7 277.0 377.0 278.5C379.2 280.0 382.0 281.2 384.5 283.0C387.0 284.7 390.2 287.0 392.0 289.0C393.7 291.0 395.0 293.0 395.0 295.0C395.0 297.0 392.3 299.0 392.0 301.0C391.6 303.0 391.5 305.2 392.7 307.0C394.0 308.7 396.8 310.0 399.5 311.5C402.1 313.0 405.7 314.2 408.5 316.0C411.2 317.7 414.2 319.7 416.0 322.0C417.7 324.2 419.7 327.5 419.0 329.5C418.2 331.5 414.0 333.0 411.5 334.0C409.0 335.0 406.0 336.2 404.0 335.5C402.0 334.7 401.0 331.5 399.5 329.5C398.0 327.5 396.5 325.5 395.0 323.5C393.5 321.5 392.0 319.2 390.5 317.5C389.0 315.7 387.2 315.0 386.0 313.0C384.7 311.0 384.0 308.0 383.0 305.5C382.0 303.0 381.5 300.0 380.0 298.0C378.5 296.0 376.0 294.0 374.0 293.5C372.0 293.0 370.0 295.0 368.0 295.0C366.0 295.0 363.7 294.7 362.0 293.5C360.2 292.2 357.2 289.2 357.5 287.5C357.7 285.7 361.5 283.7 363.5 283.0C365.5 282.2 368.2 283.7 369.5 283.0C370.7 282.2 372.0 280.0 371.0 278.5C370.0 277.0 366.0 274.7 363.5 274.0C361.0 273.2 358.2 275.0 356.0 274.0C353.7 273.0 349.5 269.2 350.0 268.0Z" fill="#e7fa5a"/>
<path d="M423.5 368.5C425.5 366.5 430.0 364.7 432.5 365.5C435.0 366.2 437.7 369.7 438.5 373.0C439.2 376.2 438.2 381.5 437.0 385.0C435.7 388.5 433.0 393.5 431.0 394.0C429.0 394.5 426.7 390.7 425.0 388.0C423.2 385.2 420.7 380.7 420.5 377.5C420.2 374.2 421.5 370.5 423.5 368.5Z" fill="#e7fa5a"/>
<path d="M444.5 370.0C445.7 367.5 451.0 366.2 453.5 367.0C456.0 367.7 458.0 371.5 459.5 374.5C461.0 377.5 461.2 381.7 462.5 385.0C463.7 388.2 467.2 391.7 467.0 394.0C466.7 396.2 463.5 399.0 461.0 398.5C458.5 398.0 454.5 393.7 452.0 391.0C449.5 388.2 447.2 385.5 446.0 382.0C444.7 378.5 443.2 372.5 444.5 370.0Z" fill="#e7fa5a"/>
<path d="M423.5 388.5C417.0 389.8 428.2 395.0 431.0 396.0C433.7 397.0 436.5 393.7 440.0 394.5C443.5 395.2 448.7 398.5 452.0 400.5C455.2 402.5 457.5 405.0 459.5 406.5C461.5 408.0 462.5 410.2 464.0 409.5C465.5 408.7 467.5 405.5 468.5 402.0C469.5 398.5 477.5 390.7 470.0 388.5C462.5 386.3 430.0 387.3 423.5 388.5Z" fill="#e7fa5a"/>
<path d="M94.0 155.0C95.2 152.9 102.5 153.0 104.5 154.2C106.5 155.5 106.5 159.6 106.0 162.5C105.5 165.4 103.0 170.7 101.5 171.5C100.0 172.2 98.2 169.7 97.0 167.0C95.7 164.2 92.7 157.1 94.0 155.0Z" fill="#032333"/>
<path d="M196.0 180.5C198.0 177.7 201.7 177.7 205.0 177.5C208.2 177.2 212.2 177.7 215.5 179.0C218.7 180.2 223.7 182.0 224.5 185.0C225.2 188.0 222.2 194.0 220.0 197.0C217.7 200.0 214.2 202.2 211.0 203.0C207.7 203.7 203.5 203.0 200.5 201.5C197.5 200.0 193.7 197.5 193.0 194.0C192.2 190.5 194.0 183.2 196.0 180.5Z" fill="#1c3179"/>
<path d="M209.5 182.0C210.2 181.0 213.2 180.2 215.5 180.5C217.7 180.7 221.0 182.5 223.0 183.5C225.0 184.5 225.8 186.2 227.5 186.5C229.1 186.7 232.5 183.2 232.7 185.0C233.0 186.7 230.2 193.2 229.0 197.0C227.7 200.7 226.2 206.5 225.2 207.5C224.2 208.5 222.8 205.2 223.0 203.0C223.1 200.7 225.7 196.5 226.0 194.0C226.2 191.5 226.0 189.5 224.5 188.0C223.0 186.5 219.2 185.2 217.0 185.0C214.7 184.7 212.2 187.0 211.0 186.5C209.7 186.0 208.7 183.0 209.5 182.0Z" fill="#08294a"/>
<path d="M247.0 165.5C248.0 165.2 249.7 168.7 251.5 171.5C253.2 174.2 255.5 178.2 257.5 182.0C259.5 185.7 261.5 189.7 263.5 194.0C265.5 198.2 267.7 203.2 269.5 207.5C271.2 211.7 272.5 215.7 274.0 219.5C275.5 223.2 277.2 226.2 278.5 230.0C279.7 233.7 281.5 239.5 281.5 242.0C281.5 244.5 280.0 246.0 278.5 245.0C277.0 244.0 274.2 239.5 272.5 236.0C270.7 232.5 269.5 228.0 268.0 224.0C266.5 220.0 265.2 216.2 263.5 212.0C261.7 207.7 259.5 203.0 257.5 198.5C255.5 194.0 253.5 189.2 251.5 185.0C249.5 180.7 246.2 176.2 245.5 173.0C244.7 169.7 246.0 165.7 247.0 165.5Z" fill="#08294a"/>
<path d="M130.0 216.5C130.5 215.0 134.0 212.2 136.0 211.2C138.0 210.2 141.5 209.6 142.0 210.5C142.5 211.4 140.5 214.9 139.0 216.5C137.5 218.1 134.5 220.2 133.0 220.2C131.5 220.2 129.5 218.0 130.0 216.5Z" fill="#08294a"/>
<path d="M178.0 227.0C178.5 225.0 184.2 221.1 187.0 219.5C189.7 217.9 193.5 216.5 194.5 217.2C195.5 218.0 194.7 221.6 193.0 224.0C191.2 226.4 186.5 231.0 184.0 231.5C181.5 232.0 177.5 229.0 178.0 227.0Z" fill="#41369a"/>
<path d="M230.5 210.5C231.0 209.1 234.2 207.2 236.5 206.0C238.7 204.7 243.2 202.5 244.0 203.0C244.7 203.5 242.7 207.1 241.0 209.0C239.2 210.9 235.2 214.0 233.5 214.2C231.7 214.5 230.0 211.9 230.5 210.5Z" fill="#41369a"/>
<path d="M165.2 234.5C165.5 232.0 169.4 231.2 170.5 233.0C171.6 234.7 172.2 242.5 172.0 245.0C171.7 247.5 170.1 249.7 169.0 248.0C167.9 246.2 165.0 237.0 165.2 234.5Z" fill="#41369a"/>
<path d="M235.0 159.5C235.7 158.0 239.5 157.0 241.0 158.0C242.5 159.0 244.0 163.6 244.0 165.5C244.0 167.4 242.2 169.0 241.0 169.2C239.7 169.5 237.5 168.6 236.5 167.0C235.5 165.4 234.2 161.0 235.0 159.5Z" fill="#41369a"/>
<path d="M199.0 254.0C199.5 252.2 203.2 250.0 205.0 249.5C206.7 249.0 209.2 249.7 209.5 251.0C209.7 252.2 207.7 255.5 206.5 257.0C205.2 258.5 203.2 260.5 202.0 260.0C200.7 259.5 198.5 255.7 199.0 254.0Z" fill="#1c3179"/>
<path d="M83.5 560.7C85.2 554.0 90.5 562.1 94.0 563.0C97.5 563.9 101.0 565.5 104.5 566.0C108.0 566.5 111.7 565.4 115.0 566.0C118.2 566.6 120.5 569.0 124.0 569.7C127.5 570.5 132.5 571.1 136.0 570.5C139.5 569.9 141.7 568.2 145.0 566.0C148.2 563.7 153.5 557.2 155.5 557.0C157.5 556.7 155.2 564.0 157.0 564.5C158.7 565.0 162.5 561.1 166.0 560.0C169.5 558.9 174.0 558.4 178.0 557.7C182.0 557.1 186.7 556.1 190.0 556.2C193.2 556.4 196.0 556.9 197.5 558.5C199.0 560.1 199.5 563.2 199.0 566.0C198.5 568.7 194.2 572.2 194.5 575.0C194.7 577.7 198.7 580.0 200.5 582.5C202.2 585.0 202.2 588.2 205.0 590.0C207.7 591.7 213.0 592.2 217.0 593.0C221.0 593.7 225.0 593.5 229.0 594.5C233.0 595.5 237.2 597.5 241.0 599.0C244.7 600.5 249.0 602.5 251.5 603.5C254.0 604.5 255.5 606.2 256.0 605.0C256.5 603.7 255.0 598.7 254.5 596.0C254.0 593.2 252.2 590.6 253.0 588.5C253.7 586.4 256.5 583.7 259.0 583.2C261.5 582.7 264.7 584.4 268.0 585.5C271.2 586.6 275.7 588.0 278.5 590.0C281.2 592.0 283.0 594.7 284.5 597.5C286.0 600.2 285.7 604.0 287.5 606.5C289.2 609.0 293.1 610.7 295.0 612.5C296.8 614.2 298.7 614.9 298.7 617.0C298.7 619.1 298.1 623.9 295.0 625.2C291.8 626.6 284.2 625.7 280.0 625.2C275.7 624.7 273.2 623.1 269.5 622.2C265.7 621.4 262.0 620.6 257.5 620.0C253.0 619.4 246.7 618.9 242.5 618.5C238.2 618.1 235.0 618.6 232.0 617.7C229.0 616.9 227.7 614.0 224.5 613.2C221.2 612.5 218.2 613.2 212.5 613.2C206.7 613.2 196.2 613.5 190.0 613.2C183.7 613.0 178.7 611.1 175.0 611.7C171.2 612.4 169.0 615.2 167.5 617.0C166.0 618.7 167.7 622.2 166.0 622.2C164.2 622.2 160.5 618.6 157.0 617.0C153.5 615.4 149.5 614.0 145.0 612.5C140.5 611.0 134.5 609.5 130.0 608.0C125.5 606.5 121.2 605.2 118.0 603.5C114.7 601.7 112.7 599.4 110.5 597.5C108.2 595.6 106.5 592.7 104.5 592.2C102.5 591.7 99.2 595.1 98.5 594.5C97.7 593.9 100.7 589.7 100.0 588.5C99.2 587.2 95.7 586.7 94.0 587.0C92.2 587.2 90.1 588.0 89.5 590.0C88.9 592.0 91.2 596.7 90.2 599.0C89.2 601.2 84.6 609.9 83.5 603.5C82.4 597.1 81.8 567.5 83.5 560.7Z" fill="#c0647a"/>
<path d="M258.5 583.2C260.0 577.5 264.5 585.9 267.5 587.0C270.5 588.1 274.0 588.5 276.5 590.0C279.0 591.5 281.0 593.7 282.5 596.0C284.0 598.2 283.5 601.0 285.5 603.5C287.5 606.0 292.2 608.5 294.5 611.0C296.7 613.5 298.7 616.2 299.0 618.5C299.2 620.7 299.2 623.4 296.0 624.5C292.7 625.6 284.0 625.6 279.5 625.2C275.0 624.9 272.5 622.9 269.0 622.2C265.5 621.6 260.2 628.0 258.5 621.5C256.8 615.0 257.0 589.0 258.5 583.2Z" fill="#c0647a"/>
<path d="M356.0 653.0C352.2 651.5 357.0 646.0 359.0 644.0C361.0 642.0 364.5 640.7 368.0 641.0C371.5 641.2 377.7 643.5 380.0 645.5C382.2 647.5 385.5 651.7 381.5 653.0C377.5 654.2 359.7 654.5 356.0 653.0Z" fill="#c0647a"/>
<path d="M408.5 653.0C403.0 651.5 409.7 646.1 411.5 644.0C413.2 641.8 416.0 640.5 419.0 640.2C422.0 640.0 426.0 641.3 429.5 642.5C433.0 643.6 437.5 645.2 440.0 647.0C442.5 648.7 449.7 652.0 444.5 653.0C439.2 654.0 414.0 654.5 408.5 653.0Z" fill="#c0647a"/>
<path d="M331.2 634.2C331.7 633.1 336.0 632.6 338.0 633.5C340.0 634.3 342.5 637.8 343.2 639.5C344.0 641.1 343.9 643.1 342.5 643.2C341.1 643.3 336.9 641.7 335.0 640.2C333.1 638.7 330.7 635.3 331.2 634.2Z" fill="#c0647a"/>
<path d="M142.0 465.0C143.6 462.2 147.4 463.5 149.5 463.5C151.6 463.5 155.0 463.5 154.7 465.0C154.5 466.5 149.4 469.5 148.0 472.5C146.6 475.5 146.2 480.2 146.5 483.0C146.7 485.7 148.0 487.7 149.5 489.0C151.0 490.2 156.2 489.5 155.5 490.5C154.7 491.5 147.7 493.7 145.0 495.0C142.2 496.2 139.9 500.5 139.0 498.0C138.1 495.5 139.2 485.5 139.7 480.0C140.2 474.5 140.4 467.7 142.0 465.0Z" fill="#f2864b"/>
<path d="M267.5 457.5C269.2 457.5 274.7 460.0 278.0 462.0C281.2 464.0 284.7 467.0 287.0 469.5C289.2 472.0 291.2 474.2 291.5 477.0C291.7 479.7 289.0 482.7 288.5 486.0C288.0 489.2 289.2 495.0 288.5 496.5C287.7 498.0 286.0 496.5 284.0 495.0C282.0 493.5 277.7 490.0 276.5 487.5C275.2 485.0 275.7 482.2 276.5 480.0C277.2 477.7 281.0 476.2 281.0 474.0C281.0 471.7 278.7 468.5 276.5 466.5C274.2 464.5 269.0 463.5 267.5 462.0C266.0 460.5 265.7 457.5 267.5 457.5Z" fill="#dd6f64"/>
<path d="M285.5 388.5C279.7 390.2 287.7 396.0 290.0 399.0C292.2 402.0 296.0 404.7 299.0 406.5C302.0 408.2 305.0 410.0 308.0 409.5C311.0 409.0 314.5 405.7 317.0 403.5C319.5 401.2 321.7 398.5 323.0 396.0C324.2 393.5 330.7 389.8 324.5 388.5C318.2 387.3 291.2 386.8 285.5 388.5Z" fill="#dd6f64"/>
<path d="M351.5 480.0C352.0 477.0 353.7 471.7 356.0 469.5C358.2 467.2 362.0 466.2 365.0 466.5C368.0 466.7 370.7 470.7 374.0 471.0C377.2 471.2 381.7 466.7 384.5 468.0C387.2 469.2 390.0 474.5 390.5 478.5C391.0 482.5 389.0 488.2 387.5 492.0C386.0 495.7 384.7 498.2 381.5 501.0C378.2 503.7 371.7 505.7 368.0 508.5C364.2 511.2 361.5 514.7 359.0 517.5C356.5 520.2 354.5 524.5 353.0 525.0C351.5 525.5 349.5 523.0 350.0 520.5C350.5 518.0 354.2 512.7 356.0 510.0C357.7 507.2 360.2 506.5 360.5 504.0C360.7 501.5 358.7 497.7 357.5 495.0C356.2 492.2 354.0 490.0 353.0 487.5C352.0 485.0 351.0 483.0 351.5 480.0Z" fill="#faa33f"/>
<path d="M359.0 498.5C355.0 499.8 361.5 503.2 360.5 506.0C359.5 508.7 354.7 512.5 353.0 515.0C351.2 517.5 350.0 519.4 350.0 521.0C350.0 522.6 351.0 525.0 353.0 524.7C355.0 524.5 359.0 521.1 362.0 519.5C365.0 517.9 367.5 516.7 371.0 515.0C374.5 513.2 380.7 511.7 383.0 509.0C385.2 506.2 388.5 500.2 384.5 498.5C380.5 496.8 363.0 497.3 359.0 498.5Z" fill="#faa33f"/>
<path d="M528.5 653.0C523.5 651.0 530.5 645.0 530.0 641.0C529.5 637.0 525.7 633.0 525.5 629.0C525.2 625.0 528.0 621.5 528.5 617.0C529.0 612.5 527.7 606.0 528.5 602.0C529.2 598.0 531.0 595.7 533.0 593.0C535.0 590.2 537.5 587.7 540.5 585.5C543.5 583.2 547.7 581.1 551.0 579.5C554.2 577.9 559.5 575.2 560.0 575.7C560.5 576.2 556.2 579.9 554.0 582.5C551.7 585.1 548.2 588.2 546.5 591.5C544.7 594.7 543.7 598.2 543.5 602.0C543.2 605.7 543.7 610.5 545.0 614.0C546.2 617.5 548.7 620.0 551.0 623.0C553.2 626.0 555.5 629.5 558.5 632.0C561.5 634.5 565.0 636.6 569.0 638.0C573.0 639.3 577.7 639.7 582.5 640.2C587.2 640.7 592.5 640.8 597.5 641.0C602.5 641.1 612.5 640.2 612.5 641.0C612.5 641.7 603.7 645.0 597.5 645.5C591.2 646.0 580.7 643.2 575.0 644.0C569.2 644.7 565.5 648.5 563.0 650.0C560.5 651.5 565.7 652.5 560.0 653.0C554.2 653.5 533.5 655.0 528.5 653.0Z" fill="#c0647a"/>
<path d="M408.5 641.0C410.2 639.2 415.2 641.7 419.0 642.5C422.7 643.2 427.0 643.7 431.0 645.5C435.0 647.2 446.7 651.7 443.0 653.0C439.2 654.2 414.2 655.0 408.5 653.0C402.8 651.0 406.8 642.7 408.5 641.0Z" fill="#c0647a"/>
<path d="M477.5 531.5C477.5 529.7 479.7 526.2 482.0 522.5C484.2 518.7 489.0 512.7 491.0 509.0C493.0 505.2 489.0 501.5 494.0 500.0C499.0 498.5 516.5 498.5 521.0 500.0C525.5 501.5 522.5 506.2 521.0 509.0C519.5 511.7 515.5 514.2 512.0 516.5C508.5 518.7 504.0 521.2 500.0 522.5C496.0 523.7 491.0 522.2 488.0 524.0C485.0 525.7 483.7 531.7 482.0 533.0C480.2 534.2 477.5 533.2 477.5 531.5Z" fill="#f8c542"/>
<path d="M494.0 495.0C496.7 492.5 502.0 491.7 506.0 492.0C510.0 492.2 515.5 494.2 518.0 496.5C520.5 498.7 521.5 502.2 521.0 505.5C520.5 508.7 518.0 513.2 515.0 516.0C512.0 518.7 507.0 521.0 503.0 522.0C499.0 523.0 494.5 520.5 491.0 522.0C487.5 523.5 484.0 530.2 482.0 531.0C480.0 531.7 478.5 528.7 479.0 526.5C479.5 524.2 483.2 520.7 485.0 517.5C486.7 514.2 488.0 510.7 489.5 507.0C491.0 503.2 491.2 497.5 494.0 495.0Z" fill="#f8c542"/>
<path d="M487.2 542.7C487.7 542.0 490.9 541.6 494.0 542.0C497.1 542.4 502.0 543.7 506.0 545.0C510.0 546.2 514.7 547.7 518.0 549.5C521.2 551.2 523.7 553.7 525.5 555.5C527.2 557.2 529.2 559.0 528.5 560.0C527.7 561.0 523.7 562.2 521.0 561.5C518.2 560.7 515.5 557.5 512.0 555.5C508.5 553.5 503.5 551.0 500.0 549.5C496.5 548.0 493.1 547.6 491.0 546.5C488.9 545.4 486.7 543.5 487.2 542.7Z" fill="#f8c542"/>
<path d="M566.0 525.5C566.7 524.2 570.2 523.0 572.0 524.0C573.7 525.0 574.5 529.2 576.5 531.5C578.5 533.7 583.0 536.0 584.0 537.5C585.0 539.0 584.2 540.5 582.5 540.5C580.7 540.5 576.0 539.0 573.5 537.5C571.0 536.0 568.7 533.5 567.5 531.5C566.2 529.5 565.2 526.7 566.0 525.5Z" fill="#f8c542"/>
<path d="M585.5 548.0C587.0 547.1 594.0 547.4 597.5 546.5C601.0 545.6 605.5 542.2 606.5 542.7C607.5 543.2 605.5 547.9 603.5 549.5C601.5 551.1 597.0 552.1 594.5 552.5C592.0 552.9 590.0 552.5 588.5 551.7C587.0 551.0 584.0 548.9 585.5 548.0Z" fill="#f8c542"/>
<path d="M408.5 427.5C409.8 425.7 413.7 427.5 416.0 429.0C418.2 430.5 421.2 433.7 422.0 436.5C422.7 439.2 421.7 444.5 420.5 445.5C419.2 446.5 416.5 443.5 414.5 442.5C412.5 441.5 409.5 442.0 408.5 439.5C407.5 437.0 407.3 429.2 408.5 427.5Z" fill="#f2864b"/>
<path d="M540.5 519.0C541.5 518.0 543.0 518.7 545.0 520.5C547.0 522.2 550.2 526.2 552.5 529.5C554.7 532.7 558.2 537.9 558.5 540.0C558.7 542.1 556.2 542.6 554.0 542.1C551.7 541.6 547.5 539.6 545.0 537.0C542.5 534.4 539.7 529.5 539.0 526.5C538.2 523.5 539.5 520.0 540.5 519.0Z" fill="#f2864b"/>
<path d="M333.5 254.5C334.5 253.0 338.7 252.2 341.0 253.0C343.2 253.7 346.2 257.0 347.0 259.0C347.7 261.0 346.7 263.7 345.5 265.0C344.2 266.2 341.2 267.0 339.5 266.5C337.7 266.0 336.0 264.0 335.0 262.0C334.0 260.0 332.5 256.0 333.5 254.5Z" fill="#faa33f"/>
<path d="M321.0 233.0C322.2 232.0 328.3 234.3 331.0 237.0C333.7 239.7 337.0 246.7 337.0 249.0C337.0 251.3 333.2 252.0 331.0 251.0C328.8 250.0 325.7 246.0 324.0 243.0C322.3 240.0 319.8 234.0 321.0 233.0Z" fill="#faa33f"/>
<path d="M619.0 257.0C620.8 254.3 625.7 247.2 627.0 261.0C628.3 274.8 628.3 326.8 627.0 340.0C625.7 353.2 620.7 343.8 619.0 340.0C617.3 336.2 617.0 324.2 617.0 317.0C617.0 309.8 619.2 303.7 619.0 297.0C618.8 290.3 616.0 283.7 616.0 277.0C616.0 270.3 617.2 259.7 619.0 257.0Z" fill="#f8c542"/>
<path d="M615.0 293.0C616.3 288.0 618.3 289.7 619.0 293.0C619.7 296.3 619.7 306.3 619.0 313.0C618.3 319.7 616.0 326.3 615.0 333.0C614.0 339.7 613.0 346.3 613.0 353.0C613.0 359.7 614.0 366.3 615.0 373.0C616.0 379.7 617.5 387.7 619.0 393.0C620.5 398.3 623.2 401.7 624.0 405.0C624.8 408.3 624.8 413.0 624.0 413.0C623.2 413.0 621.2 410.0 619.0 405.0C616.8 400.0 612.7 391.7 611.0 383.0C609.3 374.3 609.0 363.0 609.0 353.0C609.0 343.0 610.0 333.0 611.0 323.0C612.0 313.0 613.7 298.0 615.0 293.0Z" fill="#f8c542"/>
<rect x="83.6" y="135.8" width="540.8" height="17.0" fill="#97b6e1"/>
<path d="M154.4 137.4 L161.0 139.0 L167.6 137.0" fill="none" stroke="#fff" stroke-width="4.6" stroke-linecap="round"/>
<path d="M193.0 164.0 L196.4 167.0" fill="none" stroke="#fff" stroke-width="4.6" stroke-linecap="round"/>
<path d="M226.4 148.0 L232.0 145.4 L238.4 147.0 L242.4 150.6" fill="none" stroke="#fff" stroke-width="4.6" stroke-linecap="round"/>
<path d="M478.0 442.0 L484.0 446.6" fill="none" stroke="#fff" stroke-width="4.6" stroke-linecap="round"/>
<path d="M485.0 452.4 L485.0 455.4" fill="none" stroke="#fff" stroke-width="4.6" stroke-linecap="round"/>
<path d="M233.0 135.0 L233.0 137.0 L235.0 138.5 L237.0 139.9 L239.0 141.3 L241.0 142.5 L242.7 143.9 L243.9 145.8 L245.2 147.8 L246.3 150.0 L246.9 152.2 L248.6 153.7 L249.2 155.7 L249.5 158.1 L250.5 160.4 L251.6 162.4 L251.8 165.0 L253.4 167.5 L254.8 170.0 L255.8 172.5 L256.4 174.9 L257.9 176.9 L259.1 179.2 L259.9 182.0 L259.2 186.3 L260.7 188.0 L261.7 190.2 L262.7 192.2 L264.6 194.7 L266.2 197.0 L267.5 199.0 L268.2 201.6 L269.3 203.8 L269.5 206.6 L271.1 209.1 L271.2 211.4 L272.6 213.8 L273.2 215.8 L273.8 218.5 L274.0 220.8 L275.6 223.1 L276.9 225.2 L278.7 227.1 L281.0 229.0 L283.0 230.1 L284.7 231.9 L287.6 233.7 L290.1 235.5 L292.3 237.5 L293.8 240.2 L295.8 241.4 L297.8 243.2 L299.0 244.8 L301.2 246.6 L302.8 249.2 L306.0 249.7 L305.5 253.0 L305.0 256.0 L305.2 259.0 L303.3 261.0 L301.9 263.5 L299.6 263.1 L297.0 263.4 L294.4 264.0 L292.1 264.4 L290.2 263.5 L288.0 263.2 L285.5 263.0 L287.8 264.8 L289.8 267.1 L292.0 268.7 L294.0 270.8 L295.8 272.5 L297.2 275.0 L298.7 277.4 L300.9 278.3 L303.0 278.8 L304.6 280.4 L306.7 281.9 L308.8 282.8 L310.9 285.0 L313.8 286.2 L317.1 286.9 L319.0 284.4 L321.7 282.0 L322.6 286.2 L324.6 288.3 L325.7 290.9 L327.8 291.7 L330.0 292.8 L332.2 294.0 L334.1 295.8 L336.6 297.1 L338.2 299.4 L340.0 301.9 L340.9 304.1 L341.6 306.3 L342.3 308.5 L343.1 311.6 L343.0 314.3 L342.6 317.6 L342.0 320.6 L340.9 323.5 L339.5 326.8 L342.0 327.7 L344.4 329.4 L346.3 330.7 L348.2 332.6 L350.2 333.7 L352.0 335.3 L353.6 337.2 L355.8 338.4 L357.9 339.9 L359.8 342.1 L362.2 342.5 L363.9 345.3 L366.7 347.5 L368.3 348.9 L370.0 350.4 L372.1 351.6 L374.5 354.0 L375.8 356.8 L378.6 358.8 L380.1 361.8 L381.5 363.5 L382.7 365.1 L385.2 363.5 L388.2 362.2 L390.0 360.9 L391.3 359.2 L392.6 356.4 L392.9 353.3 L391.5 351.0 L390.0 348.8 L389.0 346.2 L387.9 343.6 L386.2 341.0 L384.9 338.9 L382.3 337.0 L379.9 335.3 L377.8 337.8 L375.3 340.0 L371.7 338.0 L370.5 335.3 L369.2 332.3 L369.7 329.5 L369.9 326.4 L368.8 324.6 L367.6 322.6 L367.0 320.6 L366.4 317.5 L365.3 314.2 L364.3 312.3 L362.9 310.6 L362.4 308.4 L360.9 306.3 L359.6 304.6 L358.6 302.5 L357.8 299.8 L356.1 297.6 L355.7 295.2 L355.2 293.0 L353.8 291.1 L353.2 288.8 L351.4 287.2 L349.6 285.6 L348.6 283.7 L347.4 281.6 L345.5 280.4 L344.1 278.2 L342.1 276.8 L340.8 274.4 L339.0 272.9 L338.2 270.3 L336.5 268.5 L334.8 266.6 L334.6 264.1 L333.1 262.7 L331.8 260.4 L331.2 257.4 L329.4 254.9 L328.4 252.4 L327.2 250.0 L328.1 252.7 L330.0 255.3 L330.1 258.3 L328.9 255.6 L327.7 252.8 L326.3 250.9 L324.1 249.1 L322.7 246.5 L320.1 244.8 L318.0 243.1 L316.4 240.5 L315.0 238.7 L314.6 236.6 L312.8 234.3 L311.1 231.4 L309.4 229.8 L307.6 227.9 L306.0 226.1 L303.1 224.7 L301.1 222.2 L299.4 220.4 L297.9 218.3 L297.6 216.0 L296.7 213.5 L294.6 211.0 L294.4 208.6 L294.2 206.5 L294.3 203.8 L293.4 201.5 L292.2 199.5 L291.6 196.9 L291.3 193.5 L289.7 190.5 L291.1 188.5 L290.3 185.8 L291.9 183.4 L290.2 180.7 L290.0 177.8 L292.8 178.5 L295.7 180.6 L298.1 182.0 L300.8 182.7 L303.1 184.4 L305.9 185.0 L309.1 182.8 L311.0 183.9 L312.9 185.4 L314.3 187.3 L316.3 189.1 L318.7 190.4 L321.9 190.9 L324.3 192.1 L324.3 194.9 L324.8 197.7 L325.5 200.8 L325.0 204.1 L326.4 206.5 L327.4 209.4 L329.3 211.6 L330.9 214.1 L331.2 217.2 L331.5 220.3 L333.0 223.0 L334.7 225.1 L336.3 228.1 L337.6 230.9 L339.2 232.7 L340.2 234.8 L341.8 238.6 L343.8 240.5 L346.1 242.6 L347.4 245.2 L349.8 247.2 L352.0 248.3 L352.9 250.7 L354.5 252.3 L356.9 254.7 L359.3 257.0 L362.0 259.2 L364.2 261.3 L366.5 262.2 L369.0 262.3 L371.3 263.4 L370.9 266.3 L371.9 269.7 L373.0 271.7 L374.4 273.9 L375.4 276.7 L377.9 277.7 L380.5 278.7 L383.2 279.8 L384.5 281.6 L385.9 284.2 L387.5 286.3 L389.5 286.6 L391.3 288.1 L393.6 289.0 L394.9 291.2 L396.9 292.7 L397.9 295.0 L395.9 297.4 L394.0 299.6 L393.2 302.7 L392.6 305.6 L394.6 307.0 L396.4 308.6 L397.6 310.3 L400.5 310.8 L403.1 312.0 L405.2 313.2 L407.7 314.6 L410.0 316.0 L412.2 317.2 L414.7 318.9 L416.5 320.7 L418.2 323.0 L420.8 324.8 L422.2 326.7 L423.5 328.9 L425.3 330.7 L427.0 332.5 L429.1 333.8 L431.2 335.6 L433.0 337.5 L435.0 339.4 L437.2 341.4 L438.1 343.6 L440.4 345.2 L440.9 347.8 L443.1 349.3 L444.7 351.5 L446.3 353.3 L446.9 355.5 L448.8 357.5 L451.0 358.8 L451.7 361.4 L453.9 362.6 L455.2 365.0 L456.6 366.7 L457.9 368.8 L459.8 371.0 L461.5 372.9 L462.6 375.1 L462.9 378.1 L464.1 380.4 L465.6 382.9 L466.8 385.5 L468.4 388.1 L469.2 390.6 L470.3 393.2 L471.4 396.0 L470.0 398.0 L469.5 400.4 L467.5 402.0 L469.2 404.8 L470.0 407.8 L467.7 409.4 L466.2 411.2 L464.5 412.8 L463.6 415.0 L463.0 416.7 L463.0 419.2 L464.0 421.1 L465.4 422.8 L467.2 425.5 L468.5 428.0 L469.6 430.8 L471.8 432.3 L474.0 433.7 L476.4 434.7 L478.4 435.9 L480.3 437.7 L482.6 438.5 L484.7 439.8 L487.4 441.0 L489.5 442.5 L491.9 443.4 L493.9 445.6 L495.4 447.6 L497.4 449.2 L499.6 450.9 L501.7 452.8 L504.0 454.2 L506.3 455.5 L508.2 456.4 L510.5 457.8 L512.6 458.0 L514.9 459.1 L517.4 459.8 L519.7 460.0 L521.7 461.2 L524.1 461.3 L526.6 462.1 L529.1 462.2 L531.5 462.7 L533.5 464.1 L535.3 466.6 L538.0 467.7 L539.5 469.4 L541.3 470.6 L543.3 472.2 L545.0 474.3 L547.4 474.9 L549.3 476.4 L551.8 477.4 L553.6 478.8 L556.4 479.1 L558.3 480.4 L560.7 480.7 L563.0 481.7 L565.0 483.0 L567.5 483.5 L569.7 484.4 L572.1 484.8 L574.2 486.2 L577.3 486.3 L579.4 486.9 L582.1 488.3 L584.5 488.9 L587.5 489.1 L589.5 490.2 L591.8 491.3 L593.7 491.9 L595.5 494.0 L597.4 495.2 L600.0 495.7 L602.5 496.6 L605.0 497.4 L607.1 498.9 L609.3 500.1 L611.5 500.3 L614.0 501.0 L616.3 501.4 L618.6 501.7 L620.9 502.1 L623.3 502.5 L627.5 502.8 L627.4 500.5 L627.4 498.3 L627.4 496.0 L627.4 493.8 L627.4 491.5 L627.4 489.3 L627.4 487.0 L627.4 484.8 L627.4 482.5 L627.3 480.3 L627.3 478.0 L627.3 475.8 L627.3 473.5 L627.3 471.3 L627.3 469.0 L627.3 466.8 L627.3 464.5 L627.2 462.3 L627.2 460.0 L627.2 457.8 L627.2 455.5 L627.2 453.3 L627.2 451.0 L627.2 448.8 L627.2 446.5 L627.2 444.3 L627.1 442.0 L627.1 439.8 L627.1 437.5 L627.1 435.3 L627.1 433.0 L627.1 430.8 L627.1 428.5 L627.1 426.3 L627.0 424.0 L627.0 421.8 L627.0 419.5 L627.0 417.3 L627.0 415.0 L624.0 413.6 L622.8 411.5 L621.5 409.3 L620.2 407.1 L619.0 405.0 L618.2 402.8 L617.2 400.9 L615.5 399.0 L615.4 396.7 L614.0 395.1 L612.7 393.0 L612.5 390.6 L611.2 388.1 L610.6 385.6 L609.7 383.2 L609.6 380.4 L608.4 378.2 L607.5 375.4 L606.6 373.1 L607.1 370.8 L607.0 368.3 L607.9 366.1 L607.4 363.5 L608.3 361.5 L607.6 359.1 L608.1 356.7 L608.6 354.3 L608.3 352.3 L608.1 349.7 L608.5 347.4 L608.5 345.5 L609.1 343.2 L608.3 340.9 L609.1 338.3 L608.2 335.9 L608.0 333.5 L608.2 331.4 L608.1 329.0 L608.1 326.5 L609.2 324.2 L609.4 321.8 L609.4 319.5 L610.3 317.4 L612.7 315.1 L614.9 312.8 L615.8 310.6 L616.5 308.0 L617.3 305.4 L618.4 302.8 L617.8 300.4 L617.2 297.8 L616.4 295.6 L616.5 292.8 L615.7 290.7 L615.3 288.3 L614.8 286.0 L614.2 283.4 L614.1 281.1 L612.7 279.0 L611.7 277.0 L611.0 274.9 L611.6 272.5 L613.5 270.1 L614.3 267.5 L614.7 264.9 L616.1 263.1 L616.9 260.8 L618.3 259.2 L619.0 257.0 L621.7 256.0 L624.3 255.0 L627.0 254.0 L627.0 251.8 L627.0 249.6 L627.0 247.4 L627.0 245.2 L627.0 243.0 L627.0 240.8 L627.0 238.6 L627.0 236.4 L627.0 234.2 L627.0 232.0 L627.0 229.8 L627.0 227.6 L627.0 225.4 L627.0 223.1 L627.0 220.9 L627.0 218.7 L627.0 216.5 L627.0 214.3 L627.0 212.1 L627.0 209.9 L627.0 207.7 L627.0 205.5 L627.0 203.3 L627.0 201.1 L627.0 198.9 L627.0 196.7 L627.0 194.5 L627.0 192.3 L627.0 190.1 L627.0 187.9 L627.0 185.7 L627.0 183.5 L627.0 181.3 L627.0 179.1 L627.0 176.9 L627.0 174.7 L627.0 172.5 L627.0 170.3 L627.0 168.1 L627.0 165.9 L627.0 163.6 L627.0 161.4 L627.0 159.2 L627.0 157.0 L627.0 154.8 L627.0 152.6 L627.0 150.4 L627.0 148.2 L627.0 146.0 L627.0 143.8 L627.0 141.6 L627.0 139.4 L627.0 137.2 L627.0 135.0 L624.8 135.0 L622.6 135.0 L620.4 135.0 L618.2 135.0 L616.0 135.0 L613.8 135.0 L611.6 135.0 L609.4 135.0 L607.2 135.0 L605.0 135.0 L602.8 135.0 L600.6 135.0 L598.4 135.0 L596.2 135.0 L594.0 135.0 L591.8 135.0 L589.6 135.0 L587.4 135.0 L585.2 135.0 L583.0 135.0 L580.8 135.0 L578.6 135.0 L576.4 135.0 L574.2 135.0 L572.0 135.0 L569.8 135.0 L567.6 135.0 L565.4 135.0 L563.2 135.0 L561.0 135.0 L558.8 135.0 L556.6 135.0 L554.4 135.0 L552.2 135.0 L550.0 135.0 L547.8 135.0 L545.6 135.0 L543.4 135.0 L541.2 135.0 L539.0 135.0 L536.8 135.0 L534.6 135.0 L532.4 135.0 L530.2 135.0 L527.9 135.0 L525.7 135.0 L523.5 135.0 L521.3 135.0 L519.1 135.0 L516.9 135.0 L514.7 135.0 L512.5 135.0 L510.3 135.0 L508.1 135.0 L505.9 135.0 L503.7 135.0 L501.5 135.0 L499.3 135.0 L497.1 135.0 L494.9 135.0 L492.7 135.0 L490.5 135.0 L488.3 135.0 L486.1 135.0 L483.9 135.0 L481.7 135.0 L479.5 135.0 L477.3 135.0 L475.1 135.0 L472.9 135.0 L470.7 135.0 L468.5 135.0 L466.3 135.0 L464.1 135.0 L461.9 135.0 L459.7 135.0 L457.5 135.0 L455.3 135.0 L453.1 135.0 L450.9 135.0 L448.7 135.0 L446.5 135.0 L444.3 135.0 L442.1 135.0 L439.9 135.0 L437.7 135.0 L435.5 135.0 L433.3 135.0 L431.1 135.0 L428.9 135.0 L426.7 135.0 L424.5 135.0 L422.3 135.0 L420.1 135.0 L417.9 135.0 L415.7 135.0 L413.5 135.0 L411.3 135.0 L409.1 135.0 L406.9 135.0 L404.7 135.0 L402.5 135.0 L400.3 135.0 L398.1 135.0 L395.9 135.0 L393.7 135.0 L391.5 135.0 L389.3 135.0 L387.1 135.0 L384.9 135.0 L382.7 135.0 L380.5 135.0 L378.3 135.0 L376.1 135.0 L373.9 135.0 L371.7 135.0 L369.5 135.0 L367.3 135.0 L365.1 135.0 L362.9 135.0 L360.7 135.0 L358.5 135.0 L356.3 135.0 L354.1 135.0 L351.9 135.0 L349.7 135.0 L347.5 135.0 L345.3 135.0 L343.1 135.0 L340.9 135.0 L338.7 135.0 L336.5 135.0 L334.3 135.0 L332.1 135.0 L329.8 135.0 L327.6 135.0 L325.4 135.0 L323.2 135.0 L321.0 135.0 L318.8 135.0 L316.6 135.0 L314.4 135.0 L312.2 135.0 L310.0 135.0 L307.8 135.0 L305.6 135.0 L303.4 135.0 L301.2 135.0 L299.0 135.0 L296.8 135.0 L294.6 135.0 L292.4 135.0 L290.2 135.0 L288.0 135.0 L285.8 135.0 L283.6 135.0 L281.4 135.0 L279.2 135.0 L277.0 135.0 L274.8 135.0 L272.6 135.0 L270.4 135.0 L268.2 135.0 L266.0 135.0 L263.8 135.0 L261.6 135.0 L259.4 135.0 L257.2 135.0 L255.0 135.0 L252.8 135.0 L250.6 135.0 L248.4 135.0 L246.2 135.0 L244.0 135.0 L241.8 135.0 L239.6 135.0 L237.4 135.0 L235.2 135.0Z" fill="#d2b48c" stroke="#000" stroke-width="2.1" stroke-linejoin="round"/>
<path d="M314.0 226.0 L318.0 228.0 L322.0 233.0 L324.0 239.0 L321.0 238.0 L317.0 234.0 L314.4 230.0Z" fill="none" stroke="#000" stroke-width="1.6" stroke-linejoin="round"/>
<path d="M335.6 234.0 L339.0 233.0 L341.0 238.0 L339.6 243.0 L336.4 242.0 L335.0 238.0Z" fill="#d2b48c" stroke="#000" stroke-width="1.6" stroke-linejoin="round"/>
<path d="M281.7 253.0 L284.7 251.8 L286.4 256.0 L285.2 259.9 L282.5 258.7 L281.0 256.0Z" fill="none" stroke="#000" stroke-width="1.6" stroke-linejoin="round"/>
<path d="M225.7 234.5 L228.3 235.2 L229.2 240.5 L228.0 243.2 L226.2 242.0 L225.3 238.2Z" fill="#000" stroke="#000" stroke-width="0.8" stroke-linejoin="round"/>
<path d="M202.5 146.3 L205.8 146.9 L206.2 148.4 L203.2 148.7Z" fill="#000" stroke="#000" stroke-width="0.8" stroke-linejoin="round"/>
<path d="M219.7 141.8 L222.7 142.4 L225.7 144.5 L223.5 144.8 L220.5 143.3Z" fill="#000" stroke="#000" stroke-width="0.8" stroke-linejoin="round"/>
<path d="M219.7 151.5 L221.7 152.0 L225.0 156.2 L225.7 158.0 L223.5 157.2 L220.8 153.8Z" fill="#000" stroke="#000" stroke-width="0.8" stroke-linejoin="round"/>
<path d="M302.7 262.0 L306.5 262.7 L308.7 265.0 L307.7 267.7 L305.0 268.7 L303.5 265.7Z" fill="#000" stroke="#000" stroke-width="0.8" stroke-linejoin="round"/>
<path d="M338.7 325.0 L341.7 328.0 L346.2 331.0 L350.7 334.0 L350.0 336.2 L345.5 334.0 L341.0 331.0 L338.3 328.0Z" fill="#000" stroke="#000" stroke-width="0.8" stroke-linejoin="round"/>
<path d="M346.2 283.7 L349.2 286.0 L350.7 289.7 L349.2 290.5 L347.0 287.5Z" fill="#000" stroke="#000" stroke-width="0.8" stroke-linejoin="round"/>
<path d="M357.2 301.0 L360.2 300.2 L361.2 304.0 L359.3 305.8 L357.5 304.0Z" fill="#000" stroke="#000" stroke-width="0.8" stroke-linejoin="round"/>
<path d="M368.3 322.0 L371.3 321.2 L372.2 325.0 L370.2 326.8 L368.3 325.0Z" fill="#000" stroke="#000" stroke-width="0.8" stroke-linejoin="round"/>
<path d="M373.2 330.2 L375.8 331.0 L377.0 336.2 L375.2 337.0 L373.7 334.0Z" fill="#000" stroke="#000" stroke-width="0.8" stroke-linejoin="round"/>
<path d="M382.2 334.7 L384.2 335.5 L385.2 340.0 L383.7 340.7 L382.2 337.7Z" fill="#000" stroke="#000" stroke-width="0.8" stroke-linejoin="round"/>
<path d="M612.0 262.0 L619.0 256.6 L621.4 259.4 L616.0 267.0 L614.0 277.0 L610.0 278.0 L608.0 273.0 L611.0 269.0Z" fill="#000" stroke="#000" stroke-width="0.8" stroke-linejoin="round"/>
<path d="M610.6 314.0 L615.0 311.0 L616.0 314.0 L612.0 318.0 L610.0 324.0 L608.0 323.0Z" fill="#000" stroke="#000" stroke-width="0.8" stroke-linejoin="round"/>
<path d="M609.4 379.0 L611.4 383.0 L615.0 391.0 L619.0 397.0 L617.0 398.0 L612.6 392.0 L609.4 385.0Z" fill="#000" stroke="#000" stroke-width="0.8" stroke-linejoin="round"/>
<circle cx="344.7" cy="330.3" r="1.1" fill="#97b6e1"/>
<circle cx="293.4" cy="454.6" r="1.3" fill="#000"/>
<circle cx="363.4" cy="446.4" r="2.2" fill="#000"/>
<circle cx="366.4" cy="436.0" r="1.4" fill="#000"/>
<circle cx="445.0" cy="390.0" r="1.3" fill="#000"/>
<circle cx="448.0" cy="393.0" r="1.3" fill="#000"/>
<circle cx="451.0" cy="396.4" r="1.2" fill="#000"/>
<circle cx="365.0" cy="307.0" r="1.3" fill="#000"/>
<circle cx="367.2" cy="316.0" r="1.3" fill="#000"/>
<circle cx="346.2" cy="272.5" r="1.1" fill="#000"/>
<path d="M610.6 312.0 L613.0 313.0 L611.0 323.0 L610.0 335.0 L608.2 339.0 L607.8 327.0 L609.0 317.0Z" fill="#5b6f8f" stroke="#000" stroke-width="1.2"/>
<path d="M609.4 315.0 L612.6 314.0 L610.6 323.0 L609.0 334.0 L607.8 339.0 L607.6 327.0Z" fill="#5b6f8f" stroke="#000" stroke-width="1.2"/>
<path d="M616.0 265.0 L619.0 262.0 L618.4 269.0 L616.6 275.0 L614.6 277.0Z" fill="#5b6f8f" stroke="#000" stroke-width="1.2"/>
<path d="M380.0 149.4 L364.0 152.0 L352.0 151.0 L342.0 147.0 L334.0 145.0 L332.0 151.0 L324.0 154.0 L314.0 156.0 L304.0 159.0 L299.0 157.0 L296.0 159.0 L292.0 163.0 L290.0 169.0 L285.6 173.0 L288.0 177.0 L291.0 178.4" fill="none" stroke="#97b6e1" stroke-width="1.8" stroke-linejoin="round"/>
<path d="M330.0 144.6 L341.0 148.0 L351.0 152.0 L361.0 150.6 L367.0 152.0 L375.0 149.0 L383.0 154.0 L391.0 156.4 L397.0 154.6 L401.0 160.4 L407.0 157.0 L411.0 152.0 L415.0 147.0 L416.0 140.6" fill="none" stroke="#97b6e1" stroke-width="1.8" stroke-linejoin="round"/>
<path d="M439.0 136.0 L434.0 143.0 L431.0 151.0 L433.0 159.0 L439.0 165.0 L442.0 171.0 L444.0 175.0 L446.0 180.0 L453.0 187.0 L461.0 194.0 L469.0 200.0 L475.0 204.0 L479.0 211.0 L480.0 219.0 L483.0 225.0 L491.0 231.0 L499.0 235.0 L508.0 239.4 L513.0 235.0 L515.0 228.0 L519.0 224.0 L525.0 222.0 L531.0 222.6 L539.0 223.0 L545.0 227.0 L551.0 233.0 L557.0 241.0 L561.0 249.0 L563.0 255.0 L569.0 262.0 L576.0 269.0 L577.0 277.0 L580.0 285.0 L584.0 292.0 L591.0 295.0 L599.0 298.0 L609.0 301.0 L619.0 303.0" fill="none" stroke="#97b6e1" stroke-width="1.8" stroke-linejoin="round"/>
<path d="M537.0 141.0 L543.0 147.0 L551.0 151.0 L558.0 155.0 L563.0 152.0 L568.0 149.0 L569.0 143.0 L575.0 140.6 L581.0 141.0 L589.0 147.0 L595.0 153.0 L601.0 157.0 L609.0 163.0 L613.0 169.0 L617.0 177.0 L622.0 185.0 L625.0 189.0" fill="none" stroke="#97b6e1" stroke-width="1.8" stroke-linejoin="round"/>
<path d="M467.0 389.0 L471.0 387.0 L479.0 386.0 L483.0 391.0 L489.0 397.0 L495.0 402.0 L503.0 402.0 L507.0 407.0 L510.0 413.0 L516.0 415.0 L516.0 419.0 L507.0 418.0" fill="none" stroke="#97b6e1" stroke-width="1.8" stroke-linejoin="round"/>
<path d="M561.0 380.0 L567.0 385.0 L571.0 389.0 L579.0 389.0 L585.0 387.0 L591.0 384.0 L599.0 382.0 L608.0 378.0" fill="none" stroke="#97b6e1" stroke-width="1.8" stroke-linejoin="round"/>
<path d="M297.0 136.0 L294.0 143.0 L296.0 149.0 L299.0 153.0 L297.6 158.0 L293.0 159.4" fill="none" stroke="#000" stroke-width="1.6"/>
<path d="M399.6 136.0 L399.6 189.4" fill="none" stroke="#000" stroke-width="1.6"/>
<path d="M444.0 174.6 L511.0 174.6 L511.0 136.0" fill="none" stroke="#000" stroke-width="1.6"/>
<path d="M253.0 163.0 L293.0 159.4 L292.0 165.0 L331.0 178.0 L363.0 189.4 L415.0 189.4 L415.0 179.6 L445.0 179.6 L446.0 180.0 L453.0 187.0 L461.0 194.0 L469.0 200.0 L475.0 204.0 L479.0 211.0 L480.0 219.0 L483.0 225.0 L491.0 231.0 L499.0 235.0 L508.0 239.4 L513.0 235.0 L515.0 228.0 L519.0 224.0 L525.0 222.0 L531.0 222.6 L539.0 223.0 L545.0 227.0 L551.0 233.0 L557.0 241.0 L561.0 249.0 L563.0 255.0 L569.0 262.0 L576.0 269.0 L577.0 277.0 L580.0 285.0 L584.0 292.0 L591.0 295.0 L599.0 298.0 L609.0 301.0 L619.0 303.0" fill="none" stroke="#000" stroke-width="1.7" stroke-dasharray="6.2 2.7"/>
<polygon points="148.0,130.8 140.5,145.8 155.5,145.8" fill="#9467bd" stroke="#000" stroke-width="1.50" stroke-linejoin="miter"/>
<polygon points="189.0,146.4 181.5,161.4 196.5,161.4" fill="#7f7f7f" stroke="#000" stroke-width="1.50" stroke-linejoin="miter"/>
<polygon points="244.0,149.2 236.5,164.2 251.5,164.2" fill="#e377c2" stroke="#000" stroke-width="1.50" stroke-linejoin="miter"/>
<polygon points="190.0,164.5 195.3,167.5 195.3,173.7 190.0,176.7 184.7,173.7 184.7,167.5" fill="#3f8fcb" stroke="#000" stroke-width="1.50" stroke-linejoin="miter"/>
<polygon points="123.4,168.3 128.7,171.3 128.7,177.5 123.4,180.5 118.1,177.5 118.1,171.3" fill="#ba96e2" stroke="#000" stroke-width="1.50" stroke-linejoin="miter"/>
<polygon points="109.4,178.3 114.7,181.3 114.7,187.5 109.4,190.5 104.1,187.5 104.1,181.3" fill="#ea8bd0" stroke="#000" stroke-width="1.50" stroke-linejoin="miter"/>
<polygon points="123.4,251.3 128.7,254.3 128.7,260.4 123.4,263.5 118.1,260.4 118.1,254.3" fill="#bcbd22" stroke="#000" stroke-width="1.50" stroke-linejoin="miter"/>
<circle cx="160.4" cy="253.4" r="6.10" fill="#f29b9b" stroke="#000" stroke-width="1.50"/>
<circle cx="111.4" cy="283.6" r="6.10" fill="#e377c2" stroke="#000" stroke-width="1.50"/>
<polygon points="161.0,279.9 166.8,284.1 164.6,290.9 157.4,290.9 155.2,284.1" fill="#9467bd" stroke="#000" stroke-width="1.50" stroke-linejoin="miter"/>
<circle cx="188.4" cy="283.6" r="6.10" fill="#c0897d" stroke="#000" stroke-width="1.50"/>
<polygon points="230.6,284.3 235.9,287.3 235.9,293.4 230.6,296.5 225.3,293.4 225.3,287.3" fill="#2ca02c" stroke="#000" stroke-width="1.50" stroke-linejoin="miter"/>
<polygon points="274.0,271.5 279.3,274.6 279.3,280.7 274.0,283.7 268.7,280.7 268.7,274.6" fill="#8c564b" stroke="#000" stroke-width="1.50" stroke-linejoin="miter"/>
<polygon points="292.6,298.5 297.9,301.6 297.9,307.7 292.6,310.7 287.3,307.7 287.3,301.6" fill="#94e394" stroke="#000" stroke-width="1.50" stroke-linejoin="miter"/>
<polygon points="203.0,330.9 208.8,335.1 206.6,341.9 199.4,341.9 197.2,335.1" fill="#d2b4f6" stroke="#000" stroke-width="1.50" stroke-linejoin="miter"/>
<polygon points="152.4,403.3 157.7,406.3 157.7,412.4 152.4,415.5 147.1,412.4 147.1,406.3" fill="#e04b4c" stroke="#000" stroke-width="1.50" stroke-linejoin="miter"/>
<polygon points="203.2,401.9 209.0,406.1 206.8,412.9 199.6,412.9 197.4,406.1" fill="#7f7f7f" stroke="#000" stroke-width="1.50" stroke-linejoin="miter"/>
<circle cx="192.2" cy="414.2" r="6.10" fill="#d62728" stroke="#000" stroke-width="1.50"/>
<polygon points="219.0,406.1 224.8,410.3 222.6,417.1 215.4,417.1 213.2,410.3" fill="#ffc994" stroke="#000" stroke-width="1.50" stroke-linejoin="miter"/>
<polygon points="256.0,424.9 261.8,429.1 259.6,435.9 252.4,435.9 250.2,429.1" fill="#e3bcbc" stroke="#000" stroke-width="1.50" stroke-linejoin="miter"/>
<polygon points="297.0,428.7 302.8,432.9 300.6,439.7 293.4,439.7 291.2,432.9" fill="#a5685c" stroke="#000" stroke-width="1.50" stroke-linejoin="miter"/>
<polygon points="308.0,443.9 313.8,448.1 311.6,454.9 304.4,454.9 302.2,448.1" fill="#e97275" stroke="#000" stroke-width="1.50" stroke-linejoin="miter"/>
<polygon points="248.0,472.9 253.8,477.1 251.6,483.9 244.4,483.9 242.2,477.1" fill="#44b845" stroke="#000" stroke-width="1.50" stroke-linejoin="miter"/>
<polygon points="213.0,496.9 218.8,501.1 216.6,507.9 209.4,507.9 207.2,501.1" fill="#f09edb" stroke="#000" stroke-width="1.50" stroke-linejoin="miter"/>
<circle cx="294.4" cy="529.4" r="6.10" fill="#6bcf6b" stroke="#000" stroke-width="1.50"/>
<circle cx="314.6" cy="560.4" r="6.10" fill="#a57bd0" stroke="#000" stroke-width="1.50"/>
<circle cx="306.4" cy="589.4" r="6.10" fill="#1f77b4" stroke="#000" stroke-width="1.50"/>
<polygon points="353.0,588.7 358.8,592.9 356.6,599.7 349.4,599.7 347.2,592.9" fill="#62a6da" stroke="#000" stroke-width="1.50" stroke-linejoin="miter"/>
<polygon points="110.4,553.1 115.7,556.2 115.7,562.2 110.4,565.3 105.1,562.2 105.1,556.2" fill="#c3abab" stroke="#000" stroke-width="1.50" stroke-linejoin="miter"/>
<circle cx="151.4" cy="569.4" r="6.10" fill="#ffe1c6" stroke="#000" stroke-width="1.50"/>
<circle cx="90.6" cy="642.4" r="6.10" fill="#a39a9a" stroke="#000" stroke-width="1.50"/>
<polygon points="470.0,433.2 462.5,448.2 477.5,448.2" fill="#ff7f0e" stroke="#000" stroke-width="1.50" stroke-linejoin="miter"/>
<polygon points="486.0,457.2 478.5,472.2 493.5,472.2" fill="#1f77b4" stroke="#000" stroke-width="1.50" stroke-linejoin="miter"/>
<polygon points="462.0,478.3 467.8,482.5 465.6,489.3 458.4,489.3 456.2,482.5" fill="#ff7f0e" stroke="#000" stroke-width="1.50" stroke-linejoin="miter"/>
<polygon points="389.4,506.5 394.7,509.6 394.7,515.6 389.4,518.7 384.1,515.6 384.1,509.6" fill="#c6e6fc" stroke="#000" stroke-width="1.50" stroke-linejoin="miter"/>
<circle cx="546.4" cy="503.0" r="6.10" fill="#fdc6c6" stroke="#000" stroke-width="1.50"/>
<polygon points="581.4,493.3 586.7,496.3 586.7,502.4 581.4,505.5 576.1,502.4 576.1,496.3" fill="#ffb163" stroke="#000" stroke-width="1.50" stroke-linejoin="miter"/>
<polygon points="590.0,530.2 582.5,545.2 597.5,545.2" fill="#d62728" stroke="#000" stroke-width="1.50" stroke-linejoin="miter"/>
<circle cx="468.4" cy="549.4" r="6.10" fill="#e2c8fc" stroke="#000" stroke-width="1.50"/>
<circle cx="470.4" cy="582.4" r="6.10" fill="#ff9838" stroke="#000" stroke-width="1.50"/>
<polygon points="377.4,583.3 382.7,586.4 382.7,592.4 377.4,595.5 372.1,592.4 372.1,586.4" fill="#fbc8c8" stroke="#000" stroke-width="1.50" stroke-linejoin="miter"/>
<polygon points="555.0,619.9 560.8,624.1 558.6,630.9 551.4,630.9 549.2,624.1" fill="#fdd0c6" stroke="#000" stroke-width="1.50" stroke-linejoin="miter"/>
<polygon points="410.4,633.1 415.7,636.2 415.7,642.2 410.4,645.3 405.1,642.2 405.1,636.2" fill="#e2aa9f" stroke="#000" stroke-width="1.50" stroke-linejoin="miter"/>
</g></g>
<path d="M84.6 136.8 V652.2 H623.4 V136.8" fill="none" stroke="#000" stroke-width="1.1"/>
<path d="M84.5 652.2 v8.8M84.5 136.8 v-8.8M140.2 652.2 v8.8M140.2 136.8 v-8.8M196.0 652.2 v8.8M196.0 136.8 v-8.8M251.8 652.2 v8.8M251.8 136.8 v-8.8M307.6 652.2 v8.8M307.6 136.8 v-8.8M363.4 652.2 v8.8M363.4 136.8 v-8.8M419.2 652.2 v8.8M419.2 136.8 v-8.8M475.0 652.2 v8.8M475.0 136.8 v-8.8M530.8 652.2 v8.8M530.8 136.8 v-8.8M586.5 652.2 v8.8M586.5 136.8 v-8.8M84.6 633.4 h-8.8M623.4 633.4 h8.8M84.6 577.0 h-8.8M623.4 577.0 h8.8M84.6 520.0 h-8.8M623.4 520.0 h8.8M84.6 462.1 h-8.8M623.4 462.1 h8.8M84.6 403.3 h-8.8M623.4 403.3 h8.8M84.6 343.3 h-8.8M623.4 343.3 h8.8M84.6 281.8 h-8.8M623.4 281.8 h8.8M84.6 218.7 h-8.8M623.4 218.7 h8.8M84.6 153.7 h-8.8M623.4 153.7 h8.8" stroke="#000" stroke-width="3.5" fill="none"/>
<path d="M103.0 652.2 v3.2M103.0 136.8 v-3.2M121.6 652.2 v3.2M121.6 136.8 v-3.2M158.8 652.2 v3.2M158.8 136.8 v-3.2M177.4 652.2 v3.2M177.4 136.8 v-3.2M214.6 652.2 v3.2M214.6 136.8 v-3.2M233.2 652.2 v3.2M233.2 136.8 v-3.2M270.4 652.2 v3.2M270.4 136.8 v-3.2M289.0 652.2 v3.2M289.0 136.8 v-3.2M326.2 652.2 v3.2M326.2 136.8 v-3.2M344.8 652.2 v3.2M344.8 136.8 v-3.2M382.0 652.2 v3.2M382.0 136.8 v-3.2M400.6 652.2 v3.2M400.6 136.8 v-3.2M437.8 652.2 v3.2M437.8 136.8 v-3.2M456.4 652.2 v3.2M456.4 136.8 v-3.2M493.6 652.2 v3.2M493.6 136.8 v-3.2M512.2 652.2 v3.2M512.2 136.8 v-3.2M549.4 652.2 v3.2M549.4 136.8 v-3.2M567.9 652.2 v3.2M567.9 136.8 v-3.2M605.1 652.2 v3.2M605.1 136.8 v-3.2M623.7 652.2 v3.2M623.7 136.8 v-3.2M84.6 652.1 h-3.2M623.4 652.1 h3.2M84.6 614.7 h-3.2M623.4 614.7 h3.2M84.6 595.9 h-3.2M623.4 595.9 h3.2M84.6 558.1 h-3.2M623.4 558.1 h3.2M84.6 539.1 h-3.2M623.4 539.1 h3.2M84.6 500.8 h-3.2M623.4 500.8 h3.2M84.6 481.5 h-3.2M623.4 481.5 h3.2M84.6 442.6 h-3.2M623.4 442.6 h3.2M84.6 423.0 h-3.2M623.4 423.0 h3.2M84.6 383.4 h-3.2M623.4 383.4 h3.2M84.6 363.4 h-3.2M623.4 363.4 h3.2M84.6 323.0 h-3.2M623.4 323.0 h3.2M84.6 302.5 h-3.2M623.4 302.5 h3.2M84.6 261.0 h-3.2M623.4 261.0 h3.2M84.6 240.0 h-3.2M623.4 240.0 h3.2M84.6 197.3 h-3.2M623.4 197.3 h3.2M84.6 175.6 h-3.2M623.4 175.6 h3.2" stroke="#000" stroke-width="1.4" fill="none"/>
<text transform="translate(83.0,701.0) rotate(-45)" text-anchor="middle" font-size="22.22" y="8.1">126°W</text>
<text transform="translate(138.7,701.0) rotate(-45)" text-anchor="middle" font-size="22.22" y="8.1">123°W</text>
<text transform="translate(194.5,701.0) rotate(-45)" text-anchor="middle" font-size="22.22" y="8.1">120°W</text>
<text transform="translate(250.3,701.0) rotate(-45)" text-anchor="middle" font-size="22.22" y="8.1">117°W</text>
<text transform="translate(306.1,701.0) rotate(-45)" text-anchor="middle" font-size="22.22" y="8.1">114°W</text>
<text transform="translate(361.9,701.0) rotate(-45)" text-anchor="middle" font-size="22.22" y="8.1">111°W</text>
<text transform="translate(417.7,701.0) rotate(-45)" text-anchor="middle" font-size="22.22" y="8.1">108°W</text>
<text transform="translate(473.5,701.0) rotate(-45)" text-anchor="middle" font-size="22.22" y="8.1">105°W</text>
<text transform="translate(529.3,701.0) rotate(-45)" text-anchor="middle" font-size="22.22" y="8.1">102°W</text>
<text transform="translate(585.0,696.0) rotate(-45)" text-anchor="middle" font-size="22.22" y="8.1">99°W</text>
<text x="68.9" y="641.5" text-anchor="end" font-size="22.22">9°N</text>
<text x="68.9" y="585.1" text-anchor="end" font-size="22.22">12°N</text>
<text x="68.9" y="528.1" text-anchor="end" font-size="22.22">15°N</text>
<text x="68.9" y="470.2" text-anchor="end" font-size="22.22">18°N</text>
<text x="68.9" y="411.4" text-anchor="end" font-size="22.22">21°N</text>
<text x="68.9" y="351.4" text-anchor="end" font-size="22.22">24°N</text>
<text x="68.9" y="289.9" text-anchor="end" font-size="22.22">27°N</text>
<text x="68.9" y="226.8" text-anchor="end" font-size="22.22">30°N</text>
<text x="68.9" y="161.8" text-anchor="end" font-size="22.22">33°N</text>
<text x="354.0" y="127.5" text-anchor="middle" font-size="27.78" font-weight="bold">RTOFS - 2025-09-19 12:00:00</text>
<path d="M844.6 136.8 V652.2 H1383.4 V136.8" fill="none" stroke="#000" stroke-width="1.1"/>
<path d="M844.5 652.2 v8.8M844.5 136.8 v-8.8M900.2 652.2 v8.8M900.2 136.8 v-8.8M956.0 652.2 v8.8M956.0 136.8 v-8.8M1011.8 652.2 v8.8M1011.8 136.8 v-8.8M1067.6 652.2 v8.8M1067.6 136.8 v-8.8M1123.4 652.2 v8.8M1123.4 136.8 v-8.8M1179.2 652.2 v8.8M1179.2 136.8 v-8.8M1235.0 652.2 v8.8M1235.0 136.8 v-8.8M1290.8 652.2 v8.8M1290.8 136.8 v-8.8M1346.5 652.2 v8.8M1346.5 136.8 v-8.8M844.6 633.4 h-8.8M1383.4 633.4 h8.8M844.6 577.0 h-8.8M1383.4 577.0 h8.8M844.6 520.0 h-8.8M1383.4 520.0 h8.8M844.6 462.1 h-8.8M1383.4 462.1 h8.8M844.6 403.3 h-8.8M1383.4 403.3 h8.8M844.6 343.3 h-8.8M1383.4 343.3 h8.8M844.6 281.8 h-8.8M1383.4 281.8 h8.8M844.6 218.7 h-8.8M1383.4 218.7 h8.8M844.6 153.7 h-8.8M1383.4 153.7 h8.8" stroke="#000" stroke-width="3.5" fill="none"/>
<path d="M863.0 652.2 v3.2M863.0 136.8 v-3.2M881.6 652.2 v3.2M881.6 136.8 v-3.2M918.8 652.2 v3.2M918.8 136.8 v-3.2M937.4 652.2 v3.2M937.4 136.8 v-3.2M974.6 652.2 v3.2M974.6 136.8 v-3.2M993.2 652.2 v3.2M993.2 136.8 v-3.2M1030.4 652.2 v3.2M1030.4 136.8 v-3.2M1049.0 652.2 v3.2M1049.0 136.8 v-3.2M1086.2 652.2 v3.2M1086.2 136.8 v-3.2M1104.8 652.2 v3.2M1104.8 136.8 v-3.2M1142.0 652.2 v3.2M1142.0 136.8 v-3.2M1160.6 652.2 v3.2M1160.6 136.8 v-3.2M1197.8 652.2 v3.2M1197.8 136.8 v-3.2M1216.4 652.2 v3.2M1216.4 136.8 v-3.2M1253.6 652.2 v3.2M1253.6 136.8 v-3.2M1272.2 652.2 v3.2M1272.2 136.8 v-3.2M1309.3 652.2 v3.2M1309.3 136.8 v-3.2M1327.9 652.2 v3.2M1327.9 136.8 v-3.2M1365.1 652.2 v3.2M1365.1 136.8 v-3.2M1383.7 652.2 v3.2M1383.7 136.8 v-3.2M844.6 652.1 h-3.2M1383.4 652.1 h3.2M844.6 614.7 h-3.2M1383.4 614.7 h3.2M844.6 595.9 h-3.2M1383.4 595.9 h3.2M844.6 558.1 h-3.2M1383.4 558.1 h3.2M844.6 539.1 h-3.2M1383.4 539.1 h3.2M844.6 500.8 h-3.2M1383.4 500.8 h3.2M844.6 481.5 h-3.2M1383.4 481.5 h3.2M844.6 442.6 h-3.2M1383.4 442.6 h3.2M844.6 423.0 h-3.2M1383.4 423.0 h3.2M844.6 383.4 h-3.2M1383.4 383.4 h3.2M844.6 363.4 h-3.2M1383.4 363.4 h3.2M844.6 323.0 h-3.2M1383.4 323.0 h3.2M844.6 302.5 h-3.2M1383.4 302.5 h3.2M844.6 261.0 h-3.2M1383.4 261.0 h3.2M844.6 240.0 h-3.2M1383.4 240.0 h3.2M844.6 197.3 h-3.2M1383.4 197.3 h3.2M844.6 175.6 h-3.2M1383.4 175.6 h3.2" stroke="#000" stroke-width="1.4" fill="none"/>
<text transform="translate(843.0,701.0) rotate(-45)" text-anchor="middle" font-size="22.22" y="8.1">126°W</text>
<text transform="translate(898.7,701.0) rotate(-45)" text-anchor="middle" font-size="22.22" y="8.1">123°W</text>
<text transform="translate(954.5,701.0) rotate(-45)" text-anchor="middle" font-size="22.22" y="8.1">120°W</text>
<text transform="translate(1010.3,701.0) rotate(-45)" text-anchor="middle" font-size="22.22" y="8.1">117°W</text>
<text transform="translate(1066.1,701.0) rotate(-45)" text-anchor="middle" font-size="22.22" y="8.1">114°W</text>
<text transform="translate(1121.9,701.0) rotate(-45)" text-anchor="middle" font-size="22.22" y="8.1">111°W</text>
<text transform="translate(1177.7,701.0) rotate(-45)" text-anchor="middle" font-size="22.22" y="8.1">108°W</text>
<text transform="translate(1233.5,701.0) rotate(-45)" text-anchor="middle" font-size="22.22" y="8.1">105°W</text>
<text transform="translate(1289.3,701.0) rotate(-45)" text-anchor="middle" font-size="22.22" y="8.1">102°W</text>
<text transform="translate(1345.0,696.0) rotate(-45)" text-anchor="middle" font-size="22.22" y="8.1">99°W</text>
<text x="1399.1" y="641.5" font-size="22.22">9°N</text>
<text x="1399.1" y="585.1" font-size="22.22">12°N</text>
<text x="1399.1" y="528.1" font-size="22.22">15°N</text>
<text x="1399.1" y="470.2" font-size="22.22">18°N</text>
<text x="1399.1" y="411.4" font-size="22.22">21°N</text>
<text x="1399.1" y="351.4" font-size="22.22">24°N</text>
<text x="1399.1" y="289.9" font-size="22.22">27°N</text>
<text x="1399.1" y="226.8" font-size="22.22">30°N</text>
<text x="1399.1" y="161.8" font-size="22.22">33°N</text>
<text x="1114.0" y="127.5" text-anchor="middle" font-size="27.78" font-weight="bold">CMEMS - 2025-09-19 12:00:00</text>
<polygon points="26,774.5 90.5,765.6 90.5,783.3" fill="#032333"/>
<rect x="90.2" y="765.6" width="117.3" height="17.7" fill="#08294a"/>
<rect x="207.2" y="765.6" width="117.3" height="17.7" fill="#1c3179"/>
<rect x="324.2" y="765.6" width="117.3" height="17.7" fill="#41369a"/>
<rect x="441.2" y="765.6" width="117.3" height="17.7" fill="#644197"/>
<rect x="558.2" y="765.6" width="117.3" height="17.7" fill="#824f8e"/>
<rect x="675.2" y="765.6" width="117.3" height="17.7" fill="#a05a86"/>
<rect x="792.2" y="765.6" width="117.3" height="17.7" fill="#c0647a"/>
<rect x="909.2" y="765.6" width="117.3" height="17.7" fill="#dd6f64"/>
<rect x="1026.2" y="765.6" width="117.3" height="17.7" fill="#f2864b"/>
<rect x="1143.2" y="765.6" width="117.3" height="17.7" fill="#faa33f"/>
<rect x="1260.2" y="765.6" width="117.3" height="17.7" fill="#f8c542"/>
<polygon points="1376.9,765.6 1441.3,774.5 1376.9,783.3" fill="#e7fa5a"/>
<polygon points="26,774.5 90.2,765.6 1377.2,765.6 1441.3,774.5 1377.2,783.3 90.2,783.3" fill="none" stroke="#000" stroke-width="1.2" stroke-linejoin="miter"/>
<path d="M90.2 783.8 v5.6" stroke="#000" stroke-width="1.1"/>
<text x="90.2" y="812" text-anchor="middle" font-size="20.83">20</text>
<path d="M324.2 783.8 v5.6" stroke="#000" stroke-width="1.1"/>
<text x="324.2" y="812" text-anchor="middle" font-size="20.83">22</text>
<path d="M558.2 783.8 v5.6" stroke="#000" stroke-width="1.1"/>
<text x="558.2" y="812" text-anchor="middle" font-size="20.83">24</text>
<path d="M792.2 783.8 v5.6" stroke="#000" stroke-width="1.1"/>
<text x="792.2" y="812" text-anchor="middle" font-size="20.83">26</text>
<path d="M1026.2 783.8 v5.6" stroke="#000" stroke-width="1.1"/>
<text x="1026.2" y="812" text-anchor="middle" font-size="20.83">28</text>
<path d="M1260.2 783.8 v5.6" stroke="#000" stroke-width="1.1"/>
<text x="1260.2" y="812" text-anchor="middle" font-size="20.83">30</text>
<text x="733.6" y="839.2" text-anchor="middle" font-size="20.83" font-weight="bold">Temperature (degC)</text>
<text x="733.2" y="862.6" text-anchor="middle" font-size="15.6" font-weight="bold" font-style="italic">Glider/Argo Search Window: 2025-09-14 12:00:00 to 2025-09-19 12:00:00</text>
<rect x="172" y="873" width="1122.5" height="129.3" rx="3" ry="3" fill="#fff" stroke="#ccc" stroke-width="1.3"/>
<circle cx="192.4" cy="884.6" r="6.10" fill="#1f77b4" stroke="#000" stroke-width="1.50"/>
<text x="217.5" y="889.1" font-size="13.65">1902652</text>
<polygon points="192.4,899.4 197.7,902.4 197.7,908.5 192.4,911.6 187.1,908.5 187.1,902.4" fill="#3f8fcb" stroke="#000" stroke-width="1.50" stroke-linejoin="miter"/>
<text x="217.5" y="910.0" font-size="13.65">2903886</text>
<polygon points="192.4,920.2 198.2,924.5 196.0,931.3 188.8,931.3 186.6,924.5" fill="#62a6da" stroke="#000" stroke-width="1.50" stroke-linejoin="miter"/>
<text x="217.5" y="930.8" font-size="13.65">3902277</text>
<circle cx="192.4" cy="947.2" r="6.10" fill="#8fc4ec" stroke="#000" stroke-width="1.50"/>
<text x="217.5" y="951.7" font-size="13.65">3902278</text>
<polygon points="192.4,962.0 197.7,965.0 197.7,971.1 192.4,974.2 187.1,971.1 187.1,965.0" fill="#c6e6fc" stroke="#000" stroke-width="1.50" stroke-linejoin="miter"/>
<text x="217.5" y="972.6" font-size="13.65">3902313</text>
<polygon points="192.4,982.9 198.2,987.1 196.0,993.9 188.8,993.9 186.6,987.1" fill="#ff7f0e" stroke="#000" stroke-width="1.50" stroke-linejoin="miter"/>
<text x="217.5" y="993.5" font-size="13.65">3902329</text>
<circle cx="320.5" cy="884.6" r="6.10" fill="#ff9838" stroke="#000" stroke-width="1.50"/>
<text x="345.6" y="889.1" font-size="13.65">3902375</text>
<polygon points="320.5,899.4 325.8,902.4 325.8,908.5 320.5,911.6 315.2,908.5 315.2,902.4" fill="#ffb163" stroke="#000" stroke-width="1.50" stroke-linejoin="miter"/>
<text x="345.6" y="910.0" font-size="13.65">3902386</text>
<polygon points="320.5,920.2 326.3,924.5 324.1,931.3 316.9,931.3 314.7,924.5" fill="#ffc994" stroke="#000" stroke-width="1.50" stroke-linejoin="miter"/>
<text x="345.6" y="930.8" font-size="13.65">3902558</text>
<circle cx="320.5" cy="947.2" r="6.10" fill="#ffe1c6" stroke="#000" stroke-width="1.50"/>
<text x="345.6" y="951.7" font-size="13.65">4902316</text>
<polygon points="320.5,962.0 325.8,965.0 325.8,971.1 320.5,974.2 315.2,971.1 315.2,965.0" fill="#2ca02c" stroke="#000" stroke-width="1.50" stroke-linejoin="miter"/>
<text x="345.6" y="972.6" font-size="13.65">4902328</text>
<polygon points="320.5,982.9 326.3,987.1 324.1,993.9 316.9,993.9 314.7,987.1" fill="#44b845" stroke="#000" stroke-width="1.50" stroke-linejoin="miter"/>
<text x="345.6" y="993.5" font-size="13.65">4902329</text>
<circle cx="449.4" cy="884.6" r="6.10" fill="#6bcf6b" stroke="#000" stroke-width="1.50"/>
<text x="474.5" y="889.1" font-size="13.65">4902333</text>
<polygon points="449.4,899.4 454.7,902.4 454.7,908.5 449.4,911.6 444.1,908.5 444.1,902.4" fill="#94e394" stroke="#000" stroke-width="1.50" stroke-linejoin="miter"/>
<text x="474.5" y="910.0" font-size="13.65">4902475</text>
<polygon points="449.4,920.2 455.2,924.5 453.0,931.3 445.8,931.3 443.6,924.5" fill="#c2f8c2" stroke="#000" stroke-width="1.50" stroke-linejoin="miter"/>
<text x="474.5" y="930.8" font-size="13.65">4903010</text>
<circle cx="449.4" cy="947.2" r="6.10" fill="#d62728" stroke="#000" stroke-width="1.50"/>
<text x="474.5" y="951.7" font-size="13.65">4903181</text>
<polygon points="449.4,962.0 454.7,965.0 454.7,971.1 449.4,974.2 444.1,971.1 444.1,965.0" fill="#e04b4c" stroke="#000" stroke-width="1.50" stroke-linejoin="miter"/>
<text x="474.5" y="972.6" font-size="13.65">4903183</text>
<polygon points="449.4,982.9 455.2,987.1 453.0,993.9 445.8,993.9 443.6,987.1" fill="#e97275" stroke="#000" stroke-width="1.50" stroke-linejoin="miter"/>
<text x="474.5" y="993.5" font-size="13.65">4903184</text>
<circle cx="578.3" cy="884.6" r="6.10" fill="#f29b9b" stroke="#000" stroke-width="1.50"/>
<text x="603.4" y="889.1" font-size="13.65">4903185</text>
<polygon points="578.3,899.4 583.6,902.4 583.6,908.5 578.3,911.6 573.0,908.5 573.0,902.4" fill="#fbc8c8" stroke="#000" stroke-width="1.50" stroke-linejoin="miter"/>
<text x="603.4" y="910.0" font-size="13.65">4903188</text>
<polygon points="578.3,920.2 584.1,924.5 581.9,931.3 574.7,931.3 572.5,924.5" fill="#9467bd" stroke="#000" stroke-width="1.50" stroke-linejoin="miter"/>
<text x="603.4" y="930.8" font-size="13.65">4903195</text>
<circle cx="578.3" cy="947.2" r="6.10" fill="#a57bd0" stroke="#000" stroke-width="1.50"/>
<text x="603.4" y="951.7" font-size="13.65">4903200</text>
<polygon points="578.3,962.0 583.6,965.0 583.6,971.1 578.3,974.2 573.0,971.1 573.0,965.0" fill="#ba96e2" stroke="#000" stroke-width="1.50" stroke-linejoin="miter"/>
<text x="603.4" y="972.6" font-size="13.65">4903294</text>
<polygon points="578.3,982.9 584.1,987.1 581.9,993.9 574.7,993.9 572.5,987.1" fill="#d2b4f6" stroke="#000" stroke-width="1.50" stroke-linejoin="miter"/>
<text x="603.4" y="993.5" font-size="13.65">4903400</text>
<circle cx="706.9" cy="884.6" r="6.10" fill="#e2c8fc" stroke="#000" stroke-width="1.50"/>
<text x="732.0" y="889.1" font-size="13.65">4903516</text>
<polygon points="706.9,899.4 712.2,902.4 712.2,908.5 706.9,911.6 701.6,908.5 701.6,902.4" fill="#8c564b" stroke="#000" stroke-width="1.50" stroke-linejoin="miter"/>
<text x="732.0" y="910.0" font-size="13.65">4903743</text>
<polygon points="706.9,920.2 712.7,924.5 710.5,931.3 703.3,931.3 701.1,924.5" fill="#a5685c" stroke="#000" stroke-width="1.50" stroke-linejoin="miter"/>
<text x="732.0" y="930.8" font-size="13.65">5905300</text>
<circle cx="706.9" cy="947.2" r="6.10" fill="#c0897d" stroke="#000" stroke-width="1.50"/>
<text x="732.0" y="951.7" font-size="13.65">5906017</text>
<polygon points="706.9,962.0 712.2,965.0 712.2,971.1 706.9,974.2 701.6,971.1 701.6,965.0" fill="#e2aa9f" stroke="#000" stroke-width="1.50" stroke-linejoin="miter"/>
<text x="732.0" y="972.6" font-size="13.65">5906023</text>
<polygon points="835.9,878.5 841.7,882.7 839.5,889.5 832.3,889.5 830.1,882.7" fill="#fdd0c6" stroke="#000" stroke-width="1.50" stroke-linejoin="miter"/>
<text x="861.0" y="889.1" font-size="13.65">5906090</text>
<circle cx="835.9" cy="905.5" r="6.10" fill="#e377c2" stroke="#000" stroke-width="1.50"/>
<text x="861.0" y="910.0" font-size="13.65">5906183</text>
<polygon points="835.9,920.2 841.2,923.3 841.2,929.4 835.9,932.4 830.6,929.4 830.6,923.3" fill="#ea8bd0" stroke="#000" stroke-width="1.50" stroke-linejoin="miter"/>
<text x="861.0" y="930.8" font-size="13.65">5906294</text>
<polygon points="835.9,941.1 841.7,945.3 839.5,952.1 832.3,952.1 830.1,945.3" fill="#f09edb" stroke="#000" stroke-width="1.50" stroke-linejoin="miter"/>
<text x="861.0" y="951.7" font-size="13.65">5906449</text>
<circle cx="835.9" cy="968.1" r="6.10" fill="#f9b4ea" stroke="#000" stroke-width="1.50"/>
<text x="861.0" y="972.6" font-size="13.65">5906563</text>
<polygon points="964.4,878.5 969.7,881.6 969.7,887.6 964.4,890.7 959.1,887.6 959.1,881.6" fill="#fdcdf5" stroke="#000" stroke-width="1.50" stroke-linejoin="miter"/>
<text x="989.5" y="889.1" font-size="13.65">5906690</text>
<polygon points="964.4,899.4 970.2,903.6 968.0,910.4 960.8,910.4 958.6,903.6" fill="#7f7f7f" stroke="#000" stroke-width="1.50" stroke-linejoin="miter"/>
<text x="989.5" y="910.0" font-size="13.65">5906798</text>
<circle cx="964.4" cy="926.3" r="6.10" fill="#a39a9a" stroke="#000" stroke-width="1.50"/>
<text x="989.5" y="930.8" font-size="13.65">5906853</text>
<polygon points="964.4,941.1 969.7,944.2 969.7,950.3 964.4,953.3 959.1,950.3 959.1,944.2" fill="#c3abab" stroke="#000" stroke-width="1.50" stroke-linejoin="miter"/>
<text x="989.5" y="951.7" font-size="13.65">5906857</text>
<polygon points="964.4,962.0 970.2,966.2 968.0,973.0 960.8,973.0 958.6,966.2" fill="#e3bcbc" stroke="#000" stroke-width="1.50" stroke-linejoin="miter"/>
<text x="989.5" y="972.6" font-size="13.65">5907053</text>
<circle cx="1093.3" cy="884.6" r="6.10" fill="#fdc6c6" stroke="#000" stroke-width="1.50"/>
<text x="1118.4" y="889.1" font-size="13.65">5907056</text>
<polygon points="1093.3,899.4 1098.6,902.4 1098.6,908.5 1093.3,911.6 1088.0,908.5 1088.0,902.4" fill="#bcbd22" stroke="#000" stroke-width="1.50" stroke-linejoin="miter"/>
<text x="1118.4" y="910.0" font-size="13.65">7901100</text>
<path d="M1078.0 926.3 h30.6" stroke="#1f77b4" stroke-width="2.8"/>
<polygon points="1093.3,918.6 1085.8,933.6 1100.8,933.6" fill="#1f77b4" stroke="#000" stroke-width="1.50" stroke-linejoin="miter"/>
<text x="1118.4" y="930.8" font-size="13.65">sg622</text>
<path d="M1078.0 947.2 h30.6" stroke="#ff7f0e" stroke-width="2.8"/>
<polygon points="1093.3,939.5 1085.8,954.5 1100.8,954.5" fill="#ff7f0e" stroke="#000" stroke-width="1.50" stroke-linejoin="miter"/>
<text x="1118.4" y="951.7" font-size="13.65">sg623</text>
<path d="M1078.0 968.1 h30.6" stroke="#2ca02c" stroke-width="2.8"/>
<polygon points="1093.3,960.4 1085.8,975.4 1100.8,975.4" fill="#2ca02c" stroke="#000" stroke-width="1.50" stroke-linejoin="miter"/>
<text x="1118.4" y="972.6" font-size="13.65">sg652</text>
<path d="M1206.9 884.6 h30.6" stroke="#d62728" stroke-width="2.8"/>
<polygon points="1222.2,876.9 1214.7,891.9 1229.7,891.9" fill="#d62728" stroke="#000" stroke-width="1.50" stroke-linejoin="miter"/>
<text x="1247.3" y="889.1" font-size="13.65">sg672</text>
<path d="M1206.9 905.5 h30.6" stroke="#9467bd" stroke-width="2.8"/>
<polygon points="1222.2,897.8 1214.7,912.8 1229.7,912.8" fill="#9467bd" stroke="#000" stroke-width="1.50" stroke-linejoin="miter"/>
<text x="1247.3" y="910.0" font-size="13.65">sp013</text>
<path d="M1206.9 926.3 h30.6" stroke="#8c564b" stroke-width="2.8"/>
<polygon points="1222.2,918.6 1214.7,933.6 1229.7,933.6" fill="#8c564b" stroke="#000" stroke-width="1.50" stroke-linejoin="miter"/>
<text x="1247.3" y="930.8" font-size="13.65">sp036</text>
<path d="M1206.9 947.2 h30.6" stroke="#e377c2" stroke-width="2.8"/>
<polygon points="1222.2,939.5 1214.7,954.5 1229.7,954.5" fill="#e377c2" stroke="#000" stroke-width="1.50" stroke-linejoin="miter"/>
<text x="1247.3" y="951.7" font-size="13.65">sp040</text>
<path d="M1206.9 968.1 h30.6" stroke="#7f7f7f" stroke-width="2.8"/>
<polygon points="1222.2,960.4 1214.7,975.4 1229.7,975.4" fill="#7f7f7f" stroke="#000" stroke-width="1.50" stroke-linejoin="miter"/>
<text x="1247.3" y="972.6" font-size="13.65">sp058</text>
</svg>
</body></html>
